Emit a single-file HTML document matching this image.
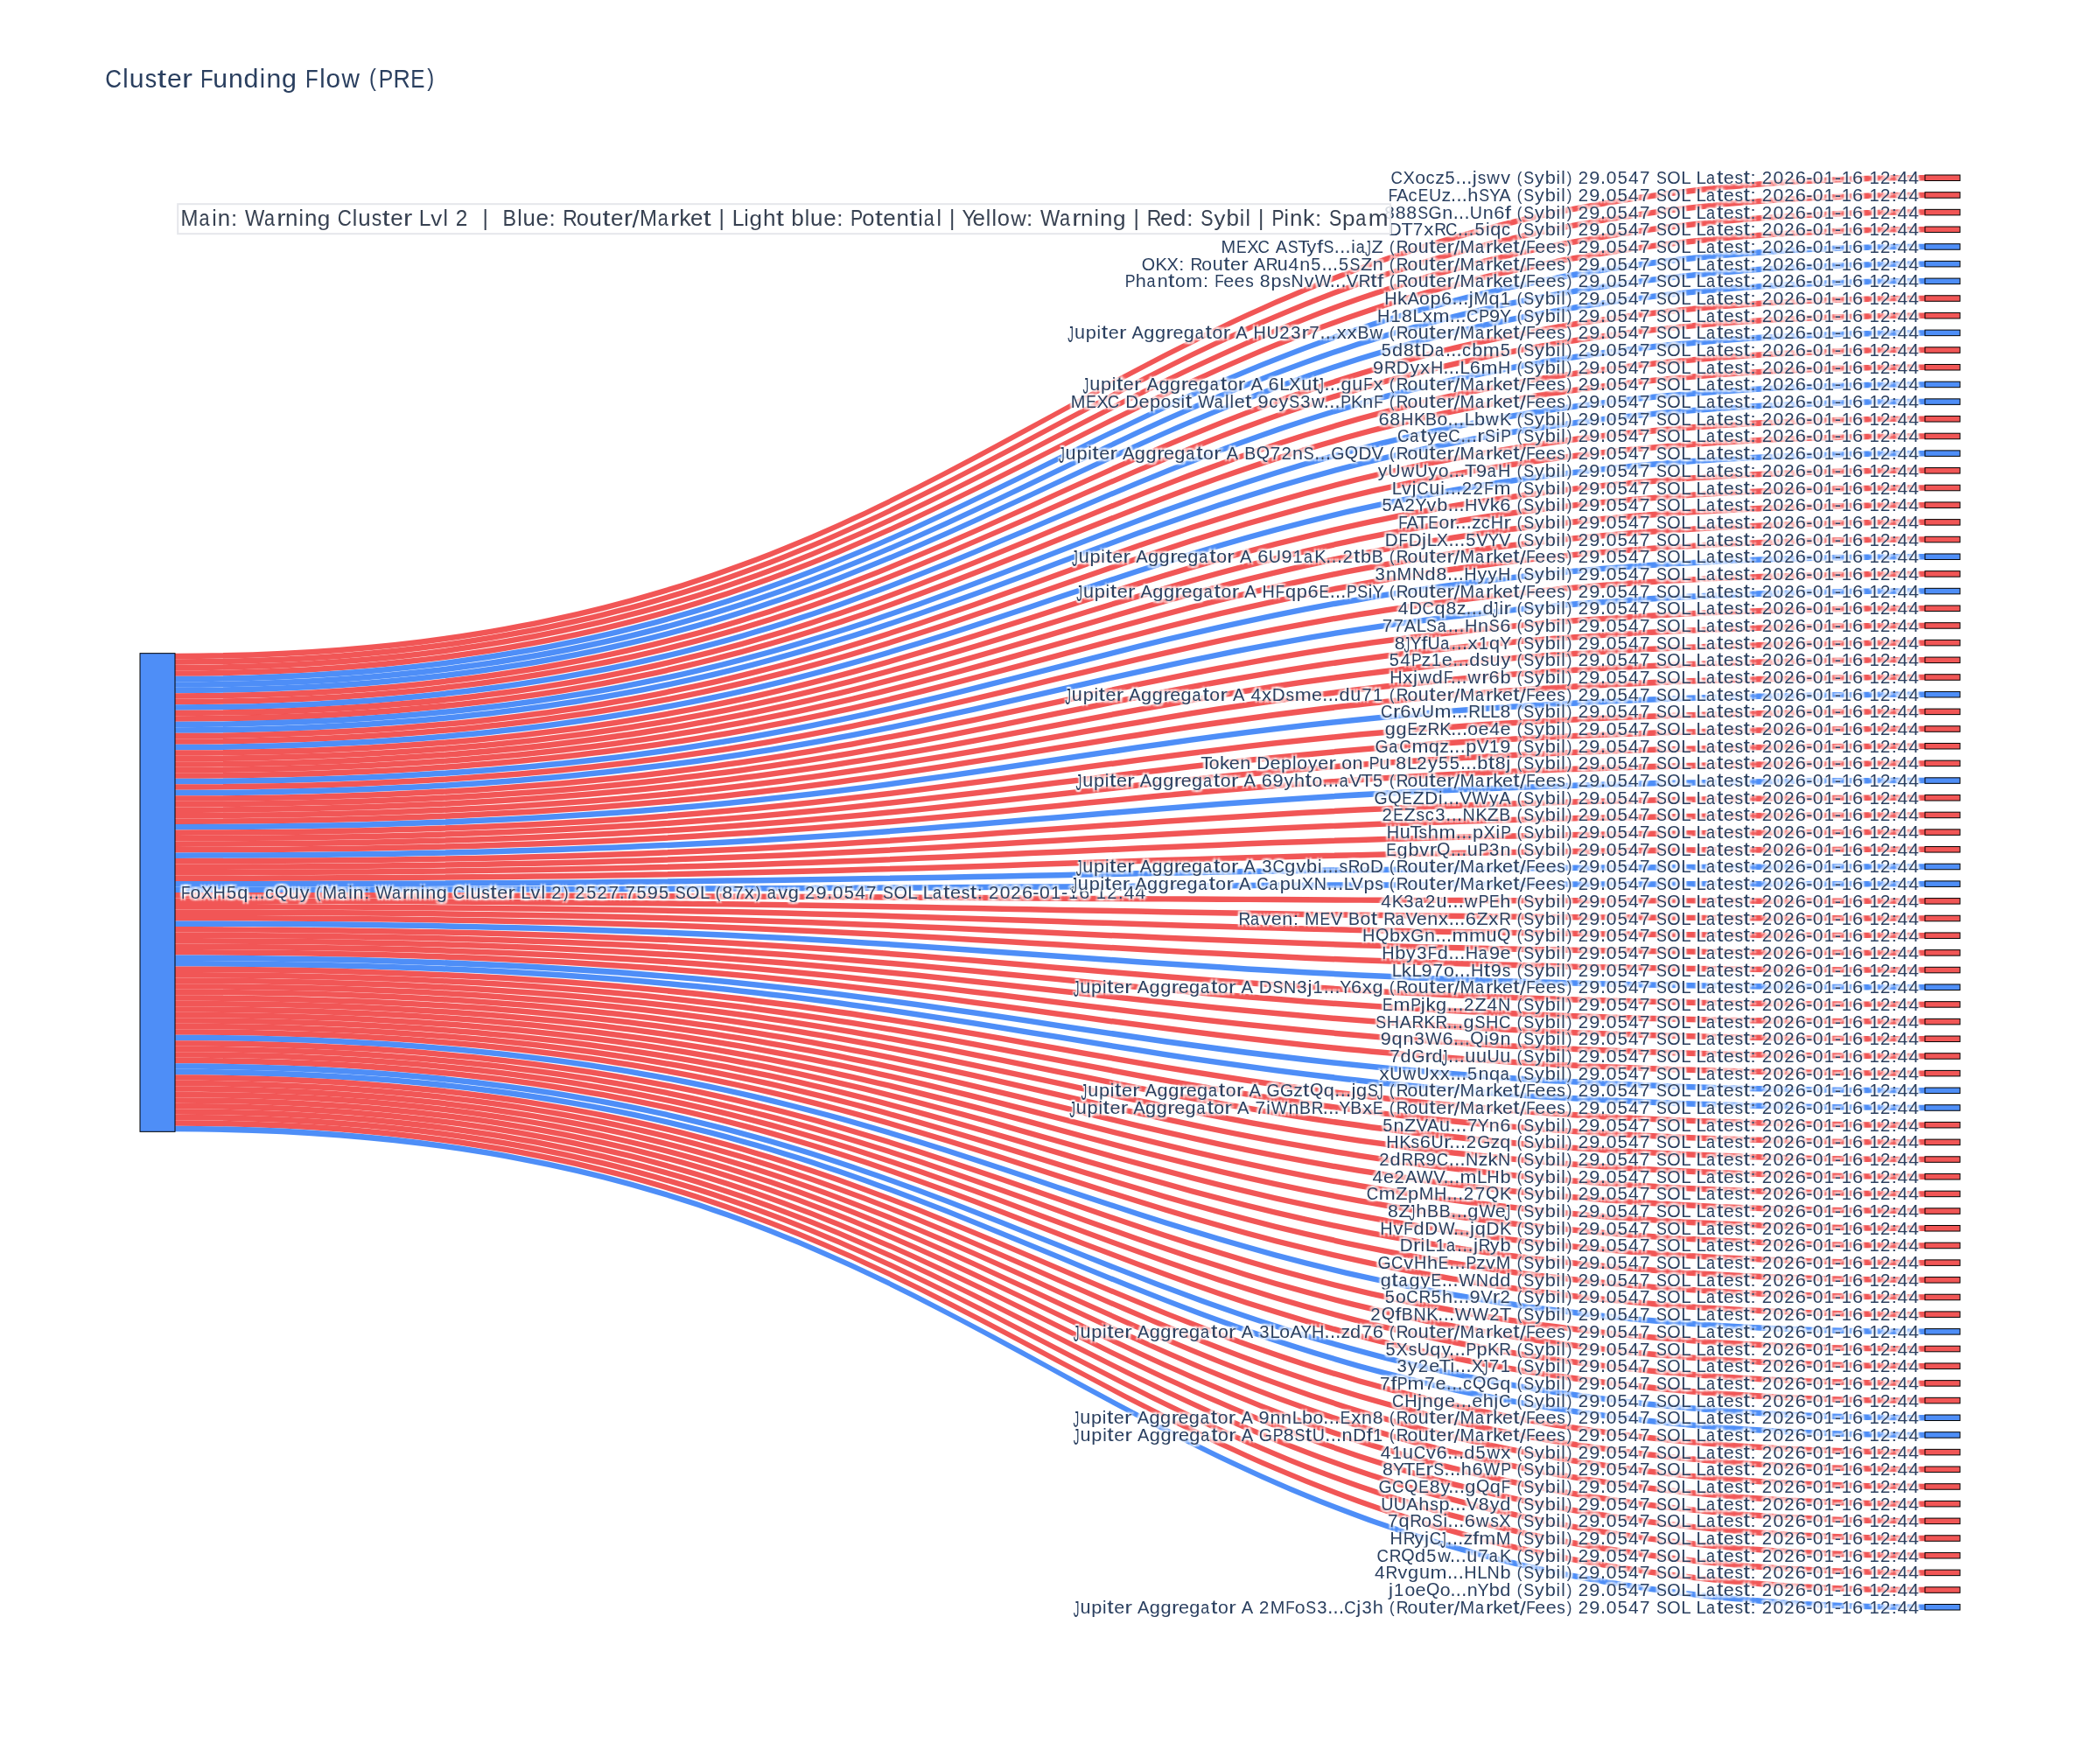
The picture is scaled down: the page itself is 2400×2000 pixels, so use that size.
<!DOCTYPE html>
<html><head><meta charset="utf-8"><title>Cluster Funding Flow (PRE)</title>
<style>
html,body{margin:0;padding:0;background:#fff;}
svg{display:block;will-change:transform;}
text{font-family:"Liberation Sans",sans-serif;white-space:pre;}
.nl{font-size:21.2px;fill:#2a3f5f;}
.sh{fill:#fff;text-shadow:2px 2px 2px #fff,-2px -2px 2px #fff,2px -2px 2px #fff,-2px 2px 2px #fff;}
.nr{stroke:#000;stroke-width:1;fill-opacity:0.9;}
.lr{fill:#ef4444;fill-opacity:0.9;}
.lb{fill:#3b82f6;fill-opacity:0.9;}
</style></head><body>
<svg width="2400" height="2000">
<rect x="0" y="0" width="2400" height="2000" fill="#fff"/>
<defs><g><text id="sS"><tspan x="1733.73" y="-1.3" font-size="19.12" textLength="5.63" lengthAdjust="spacingAndGlyphs">(</tspan><tspan x="1741.37" y="0" font-size="20.52" textLength="11.89" lengthAdjust="spacingAndGlyphs">S</tspan><tspan x="1754.11" font-size="20.52" textLength="10.74" lengthAdjust="spacingAndGlyphs">y</tspan><tspan x="1765.8" font-size="21.08" textLength="12.1" lengthAdjust="spacingAndGlyphs">b</tspan><tspan x="1778.61" font-size="20.97" textLength="4.54" lengthAdjust="spacingAndGlyphs">i</tspan><tspan x="1784.15" font-size="20.97" textLength="4.54" lengthAdjust="spacingAndGlyphs">l</tspan><tspan x="1790.71" y="-1.3" font-size="19.12" textLength="5.63" lengthAdjust="spacingAndGlyphs">)</tspan><tspan x="1803.8" y="0" font-size="20.41" textLength="11.3" lengthAdjust="spacingAndGlyphs">2</tspan><tspan x="1816.32" font-size="20.52" textLength="12.11" lengthAdjust="spacingAndGlyphs">9</tspan><tspan x="1828.98" font-size="23.2" textLength="6.01" lengthAdjust="spacingAndGlyphs">.</tspan><tspan x="1835.67" font-size="20.52" textLength="11.73" lengthAdjust="spacingAndGlyphs">0</tspan><tspan x="1848.64" font-size="20.45" textLength="11.07" lengthAdjust="spacingAndGlyphs">5</tspan><tspan x="1861.1" font-size="20.35" textLength="11.73" lengthAdjust="spacingAndGlyphs">4</tspan><tspan x="1873.93" font-size="20.35" textLength="11.47" lengthAdjust="spacingAndGlyphs">7</tspan><tspan x="1892.93" font-size="20.52" textLength="11.89" lengthAdjust="spacingAndGlyphs">S</tspan><tspan x="1905.31" font-size="20.52" textLength="15.38" lengthAdjust="spacingAndGlyphs">O</tspan><tspan x="1921.13" font-size="20.35" textLength="11.44" lengthAdjust="spacingAndGlyphs">L</tspan><tspan x="1938.63" font-size="20.35" textLength="11.44" lengthAdjust="spacingAndGlyphs">L</tspan><tspan x="1949.94" font-size="20.96" textLength="10" lengthAdjust="spacingAndGlyphs">a</tspan><tspan x="1961.9" y="-0.2" font-size="21.46" textLength="7.43" lengthAdjust="spacingAndGlyphs">t</tspan><tspan x="1969.78" y="0" font-size="20.96" textLength="12.01" lengthAdjust="spacingAndGlyphs">e</tspan><tspan x="1982.46" font-size="21.02" textLength="9.59" lengthAdjust="spacingAndGlyphs">s</tspan><tspan x="1992.46" y="-0.2" font-size="21.46" textLength="7.43" lengthAdjust="spacingAndGlyphs">t</tspan><tspan x="2000.54" y="0" font-size="19.57" textLength="6.01" lengthAdjust="spacingAndGlyphs">:</tspan><tspan x="2013.71" font-size="20.41" textLength="11.3" lengthAdjust="spacingAndGlyphs">2</tspan><tspan x="2026.48" font-size="20.52" textLength="11.73" lengthAdjust="spacingAndGlyphs">0</tspan><tspan x="2039.16" font-size="20.41" textLength="11.3" lengthAdjust="spacingAndGlyphs">2</tspan><tspan x="2051.73" font-size="20.52" textLength="12.14" lengthAdjust="spacingAndGlyphs">6</tspan><tspan x="2064.17" font-size="20.5" textLength="7.18" lengthAdjust="spacingAndGlyphs">-</tspan><tspan x="2071.87" font-size="20.52" textLength="11.73" lengthAdjust="spacingAndGlyphs">0</tspan><tspan x="2084.77" font-size="20.35" textLength="11.2" lengthAdjust="spacingAndGlyphs">1</tspan><tspan x="2096.85" font-size="20.5" textLength="7.18" lengthAdjust="spacingAndGlyphs">-</tspan><tspan x="2104.71" font-size="20.35" textLength="11.2" lengthAdjust="spacingAndGlyphs">1</tspan><tspan x="2117.05" font-size="20.52" textLength="12.14" lengthAdjust="spacingAndGlyphs">6</tspan><tspan x="2136.51" font-size="20.35" textLength="11.2" lengthAdjust="spacingAndGlyphs">1</tspan><tspan x="2149.02" font-size="20.41" textLength="11.3" lengthAdjust="spacingAndGlyphs">2</tspan><tspan x="2161.66" font-size="19.57" textLength="6.01" lengthAdjust="spacingAndGlyphs">:</tspan><tspan x="2168.52" font-size="20.35" textLength="11.73" lengthAdjust="spacingAndGlyphs">4</tspan><tspan x="2181.26" font-size="20.35" textLength="11.73" lengthAdjust="spacingAndGlyphs">4</tspan></text><text id="sR"><tspan x="1588.12" y="-1.3" font-size="19.12" textLength="5.63" lengthAdjust="spacingAndGlyphs">(</tspan><tspan x="1595.66" y="0" font-size="20.35" textLength="13.81" lengthAdjust="spacingAndGlyphs">R</tspan><tspan x="1608.46" font-size="20.96" textLength="11.82" lengthAdjust="spacingAndGlyphs">o</tspan><tspan x="1620.8" font-size="21.34" textLength="11.99" lengthAdjust="spacingAndGlyphs">u</tspan><tspan x="1633.3" y="-0.2" font-size="21.46" textLength="7.43" lengthAdjust="spacingAndGlyphs">t</tspan><tspan x="1641.2" y="0" font-size="20.96" textLength="12.01" lengthAdjust="spacingAndGlyphs">e</tspan><tspan x="1653.43" font-size="20.82" textLength="8.53" lengthAdjust="spacingAndGlyphs">r</tspan><tspan x="1661.53" y="1.6" font-size="22.38" textLength="6.74" lengthAdjust="spacingAndGlyphs">/</tspan><tspan x="1668.61" y="0" font-size="20.35" textLength="16.61" lengthAdjust="spacingAndGlyphs">M</tspan><tspan x="1685.97" font-size="20.96" textLength="10" lengthAdjust="spacingAndGlyphs">a</tspan><tspan x="1697.9" font-size="20.82" textLength="8.53" lengthAdjust="spacingAndGlyphs">r</tspan><tspan x="1706.33" font-size="20.97" textLength="11.18" lengthAdjust="spacingAndGlyphs">k</tspan><tspan x="1717.06" font-size="20.96" textLength="12.01" lengthAdjust="spacingAndGlyphs">e</tspan><tspan x="1729.32" y="-0.2" font-size="21.46" textLength="7.43" lengthAdjust="spacingAndGlyphs">t</tspan><tspan x="1737.03" y="1.6" font-size="22.38" textLength="6.74" lengthAdjust="spacingAndGlyphs">/</tspan><tspan x="1744.32" y="0" font-size="20.35" textLength="10.47" lengthAdjust="spacingAndGlyphs">F</tspan><tspan x="1754.36" font-size="20.96" textLength="12.01" lengthAdjust="spacingAndGlyphs">e</tspan><tspan x="1766.67" font-size="20.96" textLength="12.01" lengthAdjust="spacingAndGlyphs">e</tspan><tspan x="1779.33" font-size="21.02" textLength="9.59" lengthAdjust="spacingAndGlyphs">s</tspan><tspan x="1790.71" y="-1.3" font-size="19.12" textLength="5.63" lengthAdjust="spacingAndGlyphs">)</tspan><tspan x="1803.8" y="0" font-size="20.41" textLength="11.3" lengthAdjust="spacingAndGlyphs">2</tspan><tspan x="1816.33" font-size="20.52" textLength="12.11" lengthAdjust="spacingAndGlyphs">9</tspan><tspan x="1828.98" font-size="23.2" textLength="6.01" lengthAdjust="spacingAndGlyphs">.</tspan><tspan x="1835.67" font-size="20.52" textLength="11.73" lengthAdjust="spacingAndGlyphs">0</tspan><tspan x="1848.64" font-size="20.45" textLength="11.07" lengthAdjust="spacingAndGlyphs">5</tspan><tspan x="1861.12" font-size="20.35" textLength="11.73" lengthAdjust="spacingAndGlyphs">4</tspan><tspan x="1873.93" font-size="20.35" textLength="11.47" lengthAdjust="spacingAndGlyphs">7</tspan><tspan x="1892.93" font-size="20.52" textLength="11.89" lengthAdjust="spacingAndGlyphs">S</tspan><tspan x="1905.31" font-size="20.52" textLength="15.38" lengthAdjust="spacingAndGlyphs">O</tspan><tspan x="1921.13" font-size="20.35" textLength="11.44" lengthAdjust="spacingAndGlyphs">L</tspan><tspan x="1938.63" font-size="20.35" textLength="11.44" lengthAdjust="spacingAndGlyphs">L</tspan><tspan x="1949.94" font-size="20.96" textLength="10" lengthAdjust="spacingAndGlyphs">a</tspan><tspan x="1961.9" y="-0.2" font-size="21.46" textLength="7.43" lengthAdjust="spacingAndGlyphs">t</tspan><tspan x="1969.8" y="0" font-size="20.96" textLength="12.01" lengthAdjust="spacingAndGlyphs">e</tspan><tspan x="1982.46" font-size="21.02" textLength="9.59" lengthAdjust="spacingAndGlyphs">s</tspan><tspan x="1992.46" y="-0.2" font-size="21.46" textLength="7.43" lengthAdjust="spacingAndGlyphs">t</tspan><tspan x="2000.54" y="0" font-size="19.57" textLength="6.01" lengthAdjust="spacingAndGlyphs">:</tspan><tspan x="2013.71" font-size="20.41" textLength="11.3" lengthAdjust="spacingAndGlyphs">2</tspan><tspan x="2026.48" font-size="20.52" textLength="11.73" lengthAdjust="spacingAndGlyphs">0</tspan><tspan x="2039.16" font-size="20.41" textLength="11.3" lengthAdjust="spacingAndGlyphs">2</tspan><tspan x="2051.73" font-size="20.52" textLength="12.14" lengthAdjust="spacingAndGlyphs">6</tspan><tspan x="2064.19" font-size="20.5" textLength="7.18" lengthAdjust="spacingAndGlyphs">-</tspan><tspan x="2071.87" font-size="20.52" textLength="11.73" lengthAdjust="spacingAndGlyphs">0</tspan><tspan x="2084.77" font-size="20.35" textLength="11.2" lengthAdjust="spacingAndGlyphs">1</tspan><tspan x="2096.85" font-size="20.5" textLength="7.18" lengthAdjust="spacingAndGlyphs">-</tspan><tspan x="2104.71" font-size="20.35" textLength="11.2" lengthAdjust="spacingAndGlyphs">1</tspan><tspan x="2117.05" font-size="20.52" textLength="12.14" lengthAdjust="spacingAndGlyphs">6</tspan><tspan x="2136.52" font-size="20.35" textLength="11.2" lengthAdjust="spacingAndGlyphs">1</tspan><tspan x="2149.02" font-size="20.41" textLength="11.3" lengthAdjust="spacingAndGlyphs">2</tspan><tspan x="2161.66" font-size="19.57" textLength="6.01" lengthAdjust="spacingAndGlyphs">:</tspan><tspan x="2168.54" font-size="20.35" textLength="11.73" lengthAdjust="spacingAndGlyphs">4</tspan><tspan x="2181.26" font-size="20.35" textLength="11.73" lengthAdjust="spacingAndGlyphs">4</tspan></text><text id="pJ"><tspan x="-1.49" y="3.7" font-size="26.63" textLength="6.66" lengthAdjust="spacingAndGlyphs">J</tspan><tspan x="6.19" y="0" font-size="21.34" textLength="11.99" lengthAdjust="spacingAndGlyphs">u</tspan><tspan x="18.98" font-size="20.62" textLength="12.1" lengthAdjust="spacingAndGlyphs">p</tspan><tspan x="31.78" font-size="20.97" textLength="4.54" lengthAdjust="spacingAndGlyphs">i</tspan><tspan x="36.94" y="-0.2" font-size="21.46" textLength="7.43" lengthAdjust="spacingAndGlyphs">t</tspan><tspan x="44.84" y="0" font-size="20.96" textLength="12.01" lengthAdjust="spacingAndGlyphs">e</tspan><tspan x="57.08" font-size="20.82" textLength="8.53" lengthAdjust="spacingAndGlyphs">r</tspan><tspan x="71.66" font-size="20.35" textLength="13.44" lengthAdjust="spacingAndGlyphs">A</tspan><tspan x="85.43" y="-0.1" font-size="20.64" textLength="12.09" lengthAdjust="spacingAndGlyphs">g</tspan><tspan x="98.11" font-size="20.64" textLength="12.09" lengthAdjust="spacingAndGlyphs">g</tspan><tspan x="110.74" y="0" font-size="20.82" textLength="8.53" lengthAdjust="spacingAndGlyphs">r</tspan><tspan x="118.59" font-size="20.96" textLength="12.01" lengthAdjust="spacingAndGlyphs">e</tspan><tspan x="130.89" y="-0.1" font-size="20.64" textLength="12.09" lengthAdjust="spacingAndGlyphs">g</tspan><tspan x="143.84" y="0" font-size="20.96" textLength="10" lengthAdjust="spacingAndGlyphs">a</tspan><tspan x="155.79" y="-0.2" font-size="21.46" textLength="7.43" lengthAdjust="spacingAndGlyphs">t</tspan><tspan x="163.71" y="0" font-size="20.96" textLength="11.82" lengthAdjust="spacingAndGlyphs">o</tspan><tspan x="175.85" font-size="20.82" textLength="8.53" lengthAdjust="spacingAndGlyphs">r</tspan><tspan x="190.43" font-size="20.35" textLength="13.44" lengthAdjust="spacingAndGlyphs">A</tspan></text><text id="n0"><tspan x="1589.52" y="0" font-size="20.52" textLength="13.41" lengthAdjust="spacingAndGlyphs">C</tspan><tspan x="1603.44" font-size="20.35" textLength="13.35" lengthAdjust="spacingAndGlyphs">X</tspan><tspan x="1617.21" font-size="20.96" textLength="11.82" lengthAdjust="spacingAndGlyphs">o</tspan><tspan x="1629.49" font-size="20.96" textLength="10.03" lengthAdjust="spacingAndGlyphs">c</tspan><tspan x="1640.23" font-size="20.7" textLength="10.72" lengthAdjust="spacingAndGlyphs">z</tspan><tspan x="1651.48" font-size="20.45" textLength="11.07" lengthAdjust="spacingAndGlyphs">5</tspan><tspan x="1663.62" font-size="23.2" textLength="6.01" lengthAdjust="spacingAndGlyphs">.</tspan><tspan x="1669.98" font-size="23.2" textLength="6.01" lengthAdjust="spacingAndGlyphs">.</tspan><tspan x="1676.33" font-size="23.2" textLength="6.01" lengthAdjust="spacingAndGlyphs">.</tspan><tspan x="1682.72" y="-0.1" font-size="20.76" textLength="5.01" lengthAdjust="spacingAndGlyphs">j</tspan><tspan x="1688.64" y="0" font-size="21.02" textLength="9.59" lengthAdjust="spacingAndGlyphs">s</tspan><tspan x="1699.37" font-size="20.7" textLength="14.6" lengthAdjust="spacingAndGlyphs">w</tspan><tspan x="1715.38" font-size="20.7" textLength="10.79" lengthAdjust="spacingAndGlyphs">v</tspan></text><text id="n1"><tspan x="1586.71" y="0" font-size="20.35" textLength="10.47" lengthAdjust="spacingAndGlyphs">F</tspan><tspan x="1595.93" font-size="20.35" textLength="13.44" lengthAdjust="spacingAndGlyphs">A</tspan><tspan x="1609.39" font-size="20.96" textLength="10.03" lengthAdjust="spacingAndGlyphs">c</tspan><tspan x="1620.68" font-size="20.35" textLength="11.56" lengthAdjust="spacingAndGlyphs">E</tspan><tspan x="1633" font-size="20.45" textLength="14.19" lengthAdjust="spacingAndGlyphs">U</tspan><tspan x="1647.41" font-size="20.7" textLength="10.72" lengthAdjust="spacingAndGlyphs">z</tspan><tspan x="1658.08" font-size="23.2" textLength="6.01" lengthAdjust="spacingAndGlyphs">.</tspan><tspan x="1664.44" font-size="23.2" textLength="6.01" lengthAdjust="spacingAndGlyphs">.</tspan><tspan x="1670.79" font-size="23.2" textLength="6.01" lengthAdjust="spacingAndGlyphs">.</tspan><tspan x="1677.3" font-size="20.97" textLength="12.08" lengthAdjust="spacingAndGlyphs">h</tspan><tspan x="1690.18" font-size="20.52" textLength="11.89" lengthAdjust="spacingAndGlyphs">S</tspan><tspan x="1701.89" font-size="20.35" textLength="13.16" lengthAdjust="spacingAndGlyphs">Y</tspan><tspan x="1713.15" font-size="20.35" textLength="13.44" lengthAdjust="spacingAndGlyphs">A</tspan></text><text id="n2"><tspan x="1581.95" y="0" font-size="20.52" textLength="11.85" lengthAdjust="spacingAndGlyphs">8</tspan><tspan x="1594.67" font-size="20.52" textLength="11.85" lengthAdjust="spacingAndGlyphs">8</tspan><tspan x="1607.38" font-size="20.52" textLength="11.85" lengthAdjust="spacingAndGlyphs">8</tspan><tspan x="1620.2" font-size="20.52" textLength="11.89" lengthAdjust="spacingAndGlyphs">S</tspan><tspan x="1632.52" font-size="20.52" textLength="15.17" lengthAdjust="spacingAndGlyphs">G</tspan><tspan x="1648.26" font-size="20.82" textLength="11.99" lengthAdjust="spacingAndGlyphs">n</tspan><tspan x="1660.71" font-size="23.2" textLength="6.01" lengthAdjust="spacingAndGlyphs">.</tspan><tspan x="1667.07" font-size="23.2" textLength="6.01" lengthAdjust="spacingAndGlyphs">.</tspan><tspan x="1673.43" font-size="23.2" textLength="6.01" lengthAdjust="spacingAndGlyphs">.</tspan><tspan x="1679.85" font-size="20.45" textLength="14.19" lengthAdjust="spacingAndGlyphs">U</tspan><tspan x="1694.65" font-size="20.82" textLength="11.99" lengthAdjust="spacingAndGlyphs">n</tspan><tspan x="1707.23" font-size="20.52" textLength="12.14" lengthAdjust="spacingAndGlyphs">6</tspan><tspan x="1719.74" font-size="21" textLength="7.3" lengthAdjust="spacingAndGlyphs">f</tspan></text><text id="n3"><tspan x="1586.89" y="0" font-size="20.35" textLength="14.94" lengthAdjust="spacingAndGlyphs">D</tspan><tspan x="1601.47" font-size="20.35" textLength="13.32" lengthAdjust="spacingAndGlyphs">T</tspan><tspan x="1614.82" font-size="20.35" textLength="11.47" lengthAdjust="spacingAndGlyphs">7</tspan><tspan x="1627.28" font-size="20.7" textLength="11.09" lengthAdjust="spacingAndGlyphs">x</tspan><tspan x="1639.19" font-size="20.35" textLength="13.81" lengthAdjust="spacingAndGlyphs">R</tspan><tspan x="1651.88" font-size="20.52" textLength="13.41" lengthAdjust="spacingAndGlyphs">C</tspan><tspan x="1665.82" font-size="23.2" textLength="6.01" lengthAdjust="spacingAndGlyphs">.</tspan><tspan x="1672.18" font-size="23.2" textLength="6.01" lengthAdjust="spacingAndGlyphs">.</tspan><tspan x="1678.54" font-size="23.2" textLength="6.01" lengthAdjust="spacingAndGlyphs">.</tspan><tspan x="1685.48" font-size="20.45" textLength="11.07" lengthAdjust="spacingAndGlyphs">5</tspan><tspan x="1697.97" font-size="20.97" textLength="4.54" lengthAdjust="spacingAndGlyphs">i</tspan><tspan x="1703.21" font-size="20.6" textLength="12.08" lengthAdjust="spacingAndGlyphs">q</tspan><tspan x="1715.95" font-size="20.96" textLength="10.03" lengthAdjust="spacingAndGlyphs">c</tspan></text><text id="n4"><tspan x="1395.44" y="0" font-size="20.35" textLength="16.61" lengthAdjust="spacingAndGlyphs">M</tspan><tspan x="1412.9" font-size="20.35" textLength="11.56" lengthAdjust="spacingAndGlyphs">E</tspan><tspan x="1425.15" font-size="20.35" textLength="13.35" lengthAdjust="spacingAndGlyphs">X</tspan><tspan x="1437.41" font-size="20.52" textLength="13.41" lengthAdjust="spacingAndGlyphs">C</tspan><tspan x="1457.68" font-size="20.35" textLength="13.44" lengthAdjust="spacingAndGlyphs">A</tspan><tspan x="1471.76" font-size="20.52" textLength="11.89" lengthAdjust="spacingAndGlyphs">S</tspan><tspan x="1483.39" font-size="20.35" textLength="13.32" lengthAdjust="spacingAndGlyphs">T</tspan><tspan x="1493.59" font-size="20.52" textLength="10.74" lengthAdjust="spacingAndGlyphs">y</tspan><tspan x="1504.96" font-size="21" textLength="7.3" lengthAdjust="spacingAndGlyphs">f</tspan><tspan x="1512.43" font-size="20.52" textLength="11.89" lengthAdjust="spacingAndGlyphs">S</tspan><tspan x="1524.77" font-size="23.2" textLength="6.01" lengthAdjust="spacingAndGlyphs">.</tspan><tspan x="1531.13" font-size="23.2" textLength="6.01" lengthAdjust="spacingAndGlyphs">.</tspan><tspan x="1537.49" font-size="23.2" textLength="6.01" lengthAdjust="spacingAndGlyphs">.</tspan><tspan x="1544.2" font-size="20.97" textLength="4.54" lengthAdjust="spacingAndGlyphs">i</tspan><tspan x="1549.69" font-size="20.96" textLength="10" lengthAdjust="spacingAndGlyphs">a</tspan><tspan x="1560.01" y="3.7" font-size="26.63" textLength="6.66" lengthAdjust="spacingAndGlyphs">J</tspan><tspan x="1567.6" y="0" font-size="20.35" textLength="13.27" lengthAdjust="spacingAndGlyphs">Z</tspan></text><text id="n5"><tspan x="1304.64" y="0" font-size="20.52" textLength="15.38" lengthAdjust="spacingAndGlyphs">O</tspan><tspan x="1320.5" font-size="20.35" textLength="13.45" lengthAdjust="spacingAndGlyphs">K</tspan><tspan x="1333.44" font-size="20.35" textLength="13.35" lengthAdjust="spacingAndGlyphs">X</tspan><tspan x="1347.37" font-size="19.57" textLength="6.01" lengthAdjust="spacingAndGlyphs">:</tspan><tspan x="1360.49" font-size="20.35" textLength="13.81" lengthAdjust="spacingAndGlyphs">R</tspan><tspan x="1373.3" font-size="20.96" textLength="11.82" lengthAdjust="spacingAndGlyphs">o</tspan><tspan x="1385.63" font-size="21.34" textLength="11.99" lengthAdjust="spacingAndGlyphs">u</tspan><tspan x="1398.15" y="-0.2" font-size="21.46" textLength="7.43" lengthAdjust="spacingAndGlyphs">t</tspan><tspan x="1406.05" y="0" font-size="20.96" textLength="12.01" lengthAdjust="spacingAndGlyphs">e</tspan><tspan x="1418.27" font-size="20.82" textLength="8.53" lengthAdjust="spacingAndGlyphs">r</tspan><tspan x="1432.85" font-size="20.35" textLength="13.44" lengthAdjust="spacingAndGlyphs">A</tspan><tspan x="1446.82" font-size="20.35" textLength="13.81" lengthAdjust="spacingAndGlyphs">R</tspan><tspan x="1459.72" font-size="21.34" textLength="11.99" lengthAdjust="spacingAndGlyphs">u</tspan><tspan x="1472.59" font-size="20.35" textLength="11.73" lengthAdjust="spacingAndGlyphs">4</tspan><tspan x="1485.2" font-size="20.82" textLength="11.99" lengthAdjust="spacingAndGlyphs">n</tspan><tspan x="1498.25" font-size="20.45" textLength="11.07" lengthAdjust="spacingAndGlyphs">5</tspan><tspan x="1510.38" font-size="23.2" textLength="6.01" lengthAdjust="spacingAndGlyphs">.</tspan><tspan x="1516.74" font-size="23.2" textLength="6.01" lengthAdjust="spacingAndGlyphs">.</tspan><tspan x="1523.1" font-size="23.2" textLength="6.01" lengthAdjust="spacingAndGlyphs">.</tspan><tspan x="1530.04" font-size="20.45" textLength="11.07" lengthAdjust="spacingAndGlyphs">5</tspan><tspan x="1542.52" font-size="20.52" textLength="11.89" lengthAdjust="spacingAndGlyphs">S</tspan><tspan x="1554.91" font-size="20.35" textLength="13.27" lengthAdjust="spacingAndGlyphs">Z</tspan><tspan x="1568.79" font-size="20.82" textLength="11.99" lengthAdjust="spacingAndGlyphs">n</tspan></text><text id="n6"><tspan x="1285.84" y="0" font-size="20.35" textLength="11.8" lengthAdjust="spacingAndGlyphs">P</tspan><tspan x="1297.69" font-size="20.97" textLength="12.08" lengthAdjust="spacingAndGlyphs">h</tspan><tspan x="1310.5" font-size="20.96" textLength="10" lengthAdjust="spacingAndGlyphs">a</tspan><tspan x="1322.7" font-size="20.82" textLength="11.99" lengthAdjust="spacingAndGlyphs">n</tspan><tspan x="1335.12" y="-0.2" font-size="21.46" textLength="7.43" lengthAdjust="spacingAndGlyphs">t</tspan><tspan x="1343.04" y="0" font-size="20.96" textLength="11.82" lengthAdjust="spacingAndGlyphs">o</tspan><tspan x="1355.37" font-size="20.82" textLength="18.98" lengthAdjust="spacingAndGlyphs">m</tspan><tspan x="1374.91" font-size="19.57" textLength="6.01" lengthAdjust="spacingAndGlyphs">:</tspan><tspan x="1388.2" font-size="20.35" textLength="10.47" lengthAdjust="spacingAndGlyphs">F</tspan><tspan x="1398.25" font-size="20.96" textLength="12.01" lengthAdjust="spacingAndGlyphs">e</tspan><tspan x="1410.55" font-size="20.96" textLength="12.01" lengthAdjust="spacingAndGlyphs">e</tspan><tspan x="1423.22" font-size="21.02" textLength="9.59" lengthAdjust="spacingAndGlyphs">s</tspan><tspan x="1439.87" font-size="20.52" textLength="11.85" lengthAdjust="spacingAndGlyphs">8</tspan><tspan x="1452.59" font-size="20.62" textLength="12.1" lengthAdjust="spacingAndGlyphs">p</tspan><tspan x="1465.41" font-size="21.02" textLength="9.59" lengthAdjust="spacingAndGlyphs">s</tspan><tspan x="1475.62" font-size="20.35" textLength="14.27" lengthAdjust="spacingAndGlyphs">N</tspan><tspan x="1490.77" font-size="20.7" textLength="10.79" lengthAdjust="spacingAndGlyphs">v</tspan><tspan x="1502.66" font-size="20.35" textLength="18.61" lengthAdjust="spacingAndGlyphs">W</tspan><tspan x="1519.73" font-size="23.2" textLength="6.01" lengthAdjust="spacingAndGlyphs">.</tspan><tspan x="1526.08" font-size="23.2" textLength="6.01" lengthAdjust="spacingAndGlyphs">.</tspan><tspan x="1532.44" font-size="23.2" textLength="6.01" lengthAdjust="spacingAndGlyphs">.</tspan><tspan x="1538.69" font-size="20.35" textLength="13.54" lengthAdjust="spacingAndGlyphs">V</tspan><tspan x="1552.71" font-size="20.35" textLength="13.81" lengthAdjust="spacingAndGlyphs">R</tspan><tspan x="1566.34" y="-0.2" font-size="21.46" textLength="7.43" lengthAdjust="spacingAndGlyphs">t</tspan><tspan x="1574.13" y="0" font-size="21" textLength="7.3" lengthAdjust="spacingAndGlyphs">f</tspan></text><text id="n7"><tspan x="1582.13" y="0" font-size="20.35" textLength="14.37" lengthAdjust="spacingAndGlyphs">H</tspan><tspan x="1597.14" font-size="20.97" textLength="11.18" lengthAdjust="spacingAndGlyphs">k</tspan><tspan x="1608.52" font-size="20.35" textLength="13.44" lengthAdjust="spacingAndGlyphs">A</tspan><tspan x="1621.95" font-size="20.96" textLength="11.82" lengthAdjust="spacingAndGlyphs">o</tspan><tspan x="1634.4" font-size="20.62" textLength="12.1" lengthAdjust="spacingAndGlyphs">p</tspan><tspan x="1646.96" font-size="20.52" textLength="12.14" lengthAdjust="spacingAndGlyphs">6</tspan><tspan x="1659.55" font-size="23.2" textLength="6.01" lengthAdjust="spacingAndGlyphs">.</tspan><tspan x="1665.91" font-size="23.2" textLength="6.01" lengthAdjust="spacingAndGlyphs">.</tspan><tspan x="1672.27" font-size="23.2" textLength="6.01" lengthAdjust="spacingAndGlyphs">.</tspan><tspan x="1678.66" y="-0.1" font-size="20.76" textLength="5.01" lengthAdjust="spacingAndGlyphs">j</tspan><tspan x="1684.36" y="0" font-size="20.35" textLength="16.61" lengthAdjust="spacingAndGlyphs">M</tspan><tspan x="1701.47" font-size="20.6" textLength="12.08" lengthAdjust="spacingAndGlyphs">q</tspan><tspan x="1714.65" font-size="20.35" textLength="11.2" lengthAdjust="spacingAndGlyphs">1</tspan></text><text id="n8"><tspan x="1574.05" y="0" font-size="20.35" textLength="14.37" lengthAdjust="spacingAndGlyphs">H</tspan><tspan x="1589.41" font-size="20.35" textLength="11.2" lengthAdjust="spacingAndGlyphs">1</tspan><tspan x="1601.9" font-size="20.52" textLength="11.85" lengthAdjust="spacingAndGlyphs">8</tspan><tspan x="1614.48" font-size="20.35" textLength="11.44" lengthAdjust="spacingAndGlyphs">L</tspan><tspan x="1625.67" font-size="20.7" textLength="11.09" lengthAdjust="spacingAndGlyphs">x</tspan><tspan x="1637.48" font-size="20.82" textLength="18.98" lengthAdjust="spacingAndGlyphs">m</tspan><tspan x="1656.82" font-size="23.2" textLength="6.01" lengthAdjust="spacingAndGlyphs">.</tspan><tspan x="1663.18" font-size="23.2" textLength="6.01" lengthAdjust="spacingAndGlyphs">.</tspan><tspan x="1669.54" font-size="23.2" textLength="6.01" lengthAdjust="spacingAndGlyphs">.</tspan><tspan x="1675.91" font-size="20.52" textLength="13.41" lengthAdjust="spacingAndGlyphs">C</tspan><tspan x="1690.22" font-size="20.35" textLength="11.8" lengthAdjust="spacingAndGlyphs">P</tspan><tspan x="1702" font-size="20.52" textLength="12.11" lengthAdjust="spacingAndGlyphs">9</tspan><tspan x="1714.01" font-size="20.35" textLength="13.16" lengthAdjust="spacingAndGlyphs">Y</tspan></text><text id="n9"><tspan x="1432.53" y="0" font-size="20.35" textLength="14.37" lengthAdjust="spacingAndGlyphs">H</tspan><tspan x="1447.46" font-size="20.45" textLength="14.19" lengthAdjust="spacingAndGlyphs">U</tspan><tspan x="1462.32" font-size="20.41" textLength="11.3" lengthAdjust="spacingAndGlyphs">2</tspan><tspan x="1475.35" font-size="20.52" textLength="11.26" lengthAdjust="spacingAndGlyphs">3</tspan><tspan x="1487.44" font-size="20.82" textLength="8.53" lengthAdjust="spacingAndGlyphs">r</tspan><tspan x="1496.13" font-size="20.35" textLength="11.47" lengthAdjust="spacingAndGlyphs">7</tspan><tspan x="1508.43" font-size="23.2" textLength="6.01" lengthAdjust="spacingAndGlyphs">.</tspan><tspan x="1514.79" font-size="23.2" textLength="6.01" lengthAdjust="spacingAndGlyphs">.</tspan><tspan x="1521.15" font-size="23.2" textLength="6.01" lengthAdjust="spacingAndGlyphs">.</tspan><tspan x="1527.67" font-size="20.7" textLength="11.09" lengthAdjust="spacingAndGlyphs">x</tspan><tspan x="1539.51" font-size="20.7" textLength="11.09" lengthAdjust="spacingAndGlyphs">x</tspan><tspan x="1551.38" font-size="20.35" textLength="12.96" lengthAdjust="spacingAndGlyphs">B</tspan><tspan x="1565.6" font-size="20.7" textLength="14.6" lengthAdjust="spacingAndGlyphs">w</tspan></text><text id="n10"><tspan x="1578.84" y="0" font-size="20.45" textLength="11.07" lengthAdjust="spacingAndGlyphs">5</tspan><tspan x="1591" font-size="21.08" textLength="12.09" lengthAdjust="spacingAndGlyphs">d</tspan><tspan x="1603.93" font-size="20.52" textLength="11.85" lengthAdjust="spacingAndGlyphs">8</tspan><tspan x="1616.37" y="-0.2" font-size="21.46" textLength="7.43" lengthAdjust="spacingAndGlyphs">t</tspan><tspan x="1624.34" y="0" font-size="20.35" textLength="14.94" lengthAdjust="spacingAndGlyphs">D</tspan><tspan x="1639.91" font-size="20.96" textLength="10" lengthAdjust="spacingAndGlyphs">a</tspan><tspan x="1651.9" font-size="23.2" textLength="6.01" lengthAdjust="spacingAndGlyphs">.</tspan><tspan x="1658.26" font-size="23.2" textLength="6.01" lengthAdjust="spacingAndGlyphs">.</tspan><tspan x="1664.6" font-size="23.2" textLength="6.01" lengthAdjust="spacingAndGlyphs">.</tspan><tspan x="1671.05" font-size="20.96" textLength="10.03" lengthAdjust="spacingAndGlyphs">c</tspan><tspan x="1682.21" font-size="21.08" textLength="12.1" lengthAdjust="spacingAndGlyphs">b</tspan><tspan x="1694.8" font-size="20.82" textLength="18.98" lengthAdjust="spacingAndGlyphs">m</tspan><tspan x="1714.72" font-size="20.45" textLength="11.07" lengthAdjust="spacingAndGlyphs">5</tspan></text><text id="n11"><tspan x="1569.1" y="0" font-size="20.52" textLength="12.11" lengthAdjust="spacingAndGlyphs">9</tspan><tspan x="1581.97" font-size="20.35" textLength="13.81" lengthAdjust="spacingAndGlyphs">R</tspan><tspan x="1595.73" font-size="20.35" textLength="14.94" lengthAdjust="spacingAndGlyphs">D</tspan><tspan x="1611.42" font-size="20.52" textLength="10.74" lengthAdjust="spacingAndGlyphs">y</tspan><tspan x="1623.03" font-size="20.7" textLength="11.09" lengthAdjust="spacingAndGlyphs">x</tspan><tspan x="1634.88" font-size="20.35" textLength="14.37" lengthAdjust="spacingAndGlyphs">H</tspan><tspan x="1649.4" font-size="23.2" textLength="6.01" lengthAdjust="spacingAndGlyphs">.</tspan><tspan x="1655.76" font-size="23.2" textLength="6.01" lengthAdjust="spacingAndGlyphs">.</tspan><tspan x="1662.12" font-size="23.2" textLength="6.01" lengthAdjust="spacingAndGlyphs">.</tspan><tspan x="1668.59" font-size="20.35" textLength="11.44" lengthAdjust="spacingAndGlyphs">L</tspan><tspan x="1679.74" font-size="20.52" textLength="12.14" lengthAdjust="spacingAndGlyphs">6</tspan><tspan x="1692.48" font-size="20.82" textLength="18.98" lengthAdjust="spacingAndGlyphs">m</tspan><tspan x="1711.99" font-size="20.35" textLength="14.37" lengthAdjust="spacingAndGlyphs">H</tspan></text><text id="n12"><tspan x="1449.62" y="0" font-size="20.52" textLength="12.14" lengthAdjust="spacingAndGlyphs">6</tspan><tspan x="1462.32" font-size="20.35" textLength="11.44" lengthAdjust="spacingAndGlyphs">L</tspan><tspan x="1473.33" font-size="20.35" textLength="13.35" lengthAdjust="spacingAndGlyphs">X</tspan><tspan x="1487.19" font-size="21.34" textLength="11.99" lengthAdjust="spacingAndGlyphs">u</tspan><tspan x="1499.69" y="-0.2" font-size="21.46" textLength="7.43" lengthAdjust="spacingAndGlyphs">t</tspan><tspan x="1505.92" y="3.7" font-size="26.63" textLength="6.66" lengthAdjust="spacingAndGlyphs">J</tspan><tspan x="1513.48" y="0" font-size="23.2" textLength="6.01" lengthAdjust="spacingAndGlyphs">.</tspan><tspan x="1519.83" font-size="23.2" textLength="6.01" lengthAdjust="spacingAndGlyphs">.</tspan><tspan x="1526.18" font-size="23.2" textLength="6.01" lengthAdjust="spacingAndGlyphs">.</tspan><tspan x="1532.57" y="-0.1" font-size="20.64" textLength="12.09" lengthAdjust="spacingAndGlyphs">g</tspan><tspan x="1545.38" y="0" font-size="21.34" textLength="11.99" lengthAdjust="spacingAndGlyphs">u</tspan><tspan x="1558.31" font-size="20.35" textLength="10.47" lengthAdjust="spacingAndGlyphs">F</tspan><tspan x="1569.58" font-size="20.7" textLength="11.09" lengthAdjust="spacingAndGlyphs">x</tspan></text><text id="n13"><tspan x="1223.86" y="0" font-size="20.35" textLength="16.61" lengthAdjust="spacingAndGlyphs">M</tspan><tspan x="1241.32" font-size="20.35" textLength="11.56" lengthAdjust="spacingAndGlyphs">E</tspan><tspan x="1253.57" font-size="20.35" textLength="13.35" lengthAdjust="spacingAndGlyphs">X</tspan><tspan x="1265.84" font-size="20.52" textLength="13.41" lengthAdjust="spacingAndGlyphs">C</tspan><tspan x="1286.25" font-size="20.35" textLength="14.94" lengthAdjust="spacingAndGlyphs">D</tspan><tspan x="1301.58" font-size="20.96" textLength="12.01" lengthAdjust="spacingAndGlyphs">e</tspan><tspan x="1314.1" font-size="20.62" textLength="12.1" lengthAdjust="spacingAndGlyphs">p</tspan><tspan x="1326.6" font-size="20.96" textLength="11.82" lengthAdjust="spacingAndGlyphs">o</tspan><tspan x="1339.18" font-size="21.02" textLength="9.59" lengthAdjust="spacingAndGlyphs">s</tspan><tspan x="1349.56" font-size="20.97" textLength="4.54" lengthAdjust="spacingAndGlyphs">i</tspan><tspan x="1354.73" y="-0.2" font-size="21.46" textLength="7.43" lengthAdjust="spacingAndGlyphs">t</tspan><tspan x="1369.37" y="0" font-size="20.35" textLength="18.61" lengthAdjust="spacingAndGlyphs">W</tspan><tspan x="1387.73" font-size="20.96" textLength="10" lengthAdjust="spacingAndGlyphs">a</tspan><tspan x="1400.05" font-size="20.97" textLength="4.54" lengthAdjust="spacingAndGlyphs">l</tspan><tspan x="1405.62" font-size="20.97" textLength="4.54" lengthAdjust="spacingAndGlyphs">l</tspan><tspan x="1410.84" font-size="20.96" textLength="12.01" lengthAdjust="spacingAndGlyphs">e</tspan><tspan x="1423.1" y="-0.2" font-size="21.46" textLength="7.43" lengthAdjust="spacingAndGlyphs">t</tspan><tspan x="1437.41" y="0" font-size="20.52" textLength="12.11" lengthAdjust="spacingAndGlyphs">9</tspan><tspan x="1450.14" font-size="20.96" textLength="10.03" lengthAdjust="spacingAndGlyphs">c</tspan><tspan x="1461.43" font-size="20.52" textLength="10.74" lengthAdjust="spacingAndGlyphs">y</tspan><tspan x="1473.23" font-size="20.52" textLength="11.89" lengthAdjust="spacingAndGlyphs">S</tspan><tspan x="1486.17" font-size="20.52" textLength="11.26" lengthAdjust="spacingAndGlyphs">3</tspan><tspan x="1499.01" font-size="20.7" textLength="14.6" lengthAdjust="spacingAndGlyphs">w</tspan><tspan x="1512.83" font-size="23.2" textLength="6.01" lengthAdjust="spacingAndGlyphs">.</tspan><tspan x="1519.18" font-size="23.2" textLength="6.01" lengthAdjust="spacingAndGlyphs">.</tspan><tspan x="1525.54" font-size="23.2" textLength="6.01" lengthAdjust="spacingAndGlyphs">.</tspan><tspan x="1532.25" font-size="20.35" textLength="11.8" lengthAdjust="spacingAndGlyphs">P</tspan><tspan x="1544.11" font-size="20.35" textLength="13.45" lengthAdjust="spacingAndGlyphs">K</tspan><tspan x="1557.29" font-size="20.82" textLength="11.99" lengthAdjust="spacingAndGlyphs">n</tspan><tspan x="1570.15" font-size="20.35" textLength="10.47" lengthAdjust="spacingAndGlyphs">F</tspan></text><text id="n14"><tspan x="1575.4" y="0" font-size="20.52" textLength="12.14" lengthAdjust="spacingAndGlyphs">6</tspan><tspan x="1588.26" font-size="20.52" textLength="11.85" lengthAdjust="spacingAndGlyphs">8</tspan><tspan x="1600.88" font-size="20.35" textLength="14.37" lengthAdjust="spacingAndGlyphs">H</tspan><tspan x="1615.9" font-size="20.35" textLength="13.45" lengthAdjust="spacingAndGlyphs">K</tspan><tspan x="1629.07" font-size="20.35" textLength="12.96" lengthAdjust="spacingAndGlyphs">B</tspan><tspan x="1642.63" font-size="20.96" textLength="11.82" lengthAdjust="spacingAndGlyphs">o</tspan><tspan x="1654.48" font-size="23.2" textLength="6.01" lengthAdjust="spacingAndGlyphs">.</tspan><tspan x="1660.83" font-size="23.2" textLength="6.01" lengthAdjust="spacingAndGlyphs">.</tspan><tspan x="1667.19" font-size="23.2" textLength="6.01" lengthAdjust="spacingAndGlyphs">.</tspan><tspan x="1673.67" font-size="20.35" textLength="11.44" lengthAdjust="spacingAndGlyphs">L</tspan><tspan x="1684.95" font-size="21.08" textLength="12.1" lengthAdjust="spacingAndGlyphs">b</tspan><tspan x="1698.09" font-size="20.7" textLength="14.6" lengthAdjust="spacingAndGlyphs">w</tspan><tspan x="1713.89" font-size="20.35" textLength="13.45" lengthAdjust="spacingAndGlyphs">K</tspan></text><text id="n15"><tspan x="1597.12" y="0" font-size="20.52" textLength="13.41" lengthAdjust="spacingAndGlyphs">C</tspan><tspan x="1611.33" font-size="20.96" textLength="10" lengthAdjust="spacingAndGlyphs">a</tspan><tspan x="1623.29" y="-0.2" font-size="21.46" textLength="7.43" lengthAdjust="spacingAndGlyphs">t</tspan><tspan x="1631.54" y="0" font-size="20.52" textLength="10.74" lengthAdjust="spacingAndGlyphs">y</tspan><tspan x="1643.01" font-size="20.96" textLength="12.01" lengthAdjust="spacingAndGlyphs">e</tspan><tspan x="1655.32" font-size="20.52" textLength="13.41" lengthAdjust="spacingAndGlyphs">C</tspan><tspan x="1669.26" font-size="23.2" textLength="6.01" lengthAdjust="spacingAndGlyphs">.</tspan><tspan x="1675.62" font-size="23.2" textLength="6.01" lengthAdjust="spacingAndGlyphs">.</tspan><tspan x="1681.98" font-size="23.2" textLength="6.01" lengthAdjust="spacingAndGlyphs">.</tspan><tspan x="1688.29" font-size="20.82" textLength="8.53" lengthAdjust="spacingAndGlyphs">r</tspan><tspan x="1696.9" font-size="20.52" textLength="11.89" lengthAdjust="spacingAndGlyphs">S</tspan><tspan x="1709.61" font-size="20.97" textLength="4.54" lengthAdjust="spacingAndGlyphs">i</tspan><tspan x="1715.15" font-size="20.35" textLength="11.8" lengthAdjust="spacingAndGlyphs">P</tspan></text><text id="n16"><tspan x="1422.13" y="0" font-size="20.35" textLength="12.96" lengthAdjust="spacingAndGlyphs">B</tspan><tspan x="1435.67" y="-1.1" font-size="19.64" textLength="15.38" lengthAdjust="spacingAndGlyphs">Q</tspan><tspan x="1451.8" y="0" font-size="20.35" textLength="11.47" lengthAdjust="spacingAndGlyphs">7</tspan><tspan x="1464.4" font-size="20.41" textLength="11.3" lengthAdjust="spacingAndGlyphs">2</tspan><tspan x="1477.06" font-size="20.82" textLength="11.99" lengthAdjust="spacingAndGlyphs">n</tspan><tspan x="1489.85" font-size="20.52" textLength="11.89" lengthAdjust="spacingAndGlyphs">S</tspan><tspan x="1502.21" font-size="23.2" textLength="6.01" lengthAdjust="spacingAndGlyphs">.</tspan><tspan x="1508.57" font-size="23.2" textLength="6.01" lengthAdjust="spacingAndGlyphs">.</tspan><tspan x="1514.93" font-size="23.2" textLength="6.01" lengthAdjust="spacingAndGlyphs">.</tspan><tspan x="1521.25" font-size="20.52" textLength="15.17" lengthAdjust="spacingAndGlyphs">G</tspan><tspan x="1536.8" y="-1.1" font-size="19.64" textLength="15.38" lengthAdjust="spacingAndGlyphs">Q</tspan><tspan x="1552.62" y="0" font-size="20.35" textLength="14.94" lengthAdjust="spacingAndGlyphs">D</tspan><tspan x="1567.47" font-size="20.35" textLength="13.54" lengthAdjust="spacingAndGlyphs">V</tspan></text><text id="n17"><tspan x="1574.75" y="0" font-size="20.52" textLength="10.74" lengthAdjust="spacingAndGlyphs">y</tspan><tspan x="1586.25" font-size="20.45" textLength="14.19" lengthAdjust="spacingAndGlyphs">U</tspan><tspan x="1601.54" font-size="20.7" textLength="14.6" lengthAdjust="spacingAndGlyphs">w</tspan><tspan x="1617.25" font-size="20.45" textLength="14.19" lengthAdjust="spacingAndGlyphs">U</tspan><tspan x="1632.22" font-size="20.52" textLength="10.74" lengthAdjust="spacingAndGlyphs">y</tspan><tspan x="1643.71" font-size="20.96" textLength="11.82" lengthAdjust="spacingAndGlyphs">o</tspan><tspan x="1655.55" font-size="23.2" textLength="6.01" lengthAdjust="spacingAndGlyphs">.</tspan><tspan x="1661.91" font-size="23.2" textLength="6.01" lengthAdjust="spacingAndGlyphs">.</tspan><tspan x="1668.27" font-size="23.2" textLength="6.01" lengthAdjust="spacingAndGlyphs">.</tspan><tspan x="1673.9" font-size="20.35" textLength="13.32" lengthAdjust="spacingAndGlyphs">T</tspan><tspan x="1686.91" font-size="20.52" textLength="12.11" lengthAdjust="spacingAndGlyphs">9</tspan><tspan x="1699.84" font-size="20.96" textLength="10" lengthAdjust="spacingAndGlyphs">a</tspan><tspan x="1711.99" font-size="20.35" textLength="14.37" lengthAdjust="spacingAndGlyphs">H</tspan></text><text id="n18"><tspan x="1590.74" y="0" font-size="20.35" textLength="11.44" lengthAdjust="spacingAndGlyphs">L</tspan><tspan x="1602.13" font-size="20.7" textLength="10.79" lengthAdjust="spacingAndGlyphs">v</tspan><tspan x="1613.63" y="-0.1" font-size="20.76" textLength="5.01" lengthAdjust="spacingAndGlyphs">j</tspan><tspan x="1619.18" y="0" font-size="20.52" textLength="13.41" lengthAdjust="spacingAndGlyphs">C</tspan><tspan x="1633.27" font-size="21.34" textLength="11.99" lengthAdjust="spacingAndGlyphs">u</tspan><tspan x="1646.16" font-size="20.97" textLength="4.54" lengthAdjust="spacingAndGlyphs">i</tspan><tspan x="1651.35" font-size="23.2" textLength="6.01" lengthAdjust="spacingAndGlyphs">.</tspan><tspan x="1657.71" font-size="23.2" textLength="6.01" lengthAdjust="spacingAndGlyphs">.</tspan><tspan x="1664.07" font-size="23.2" textLength="6.01" lengthAdjust="spacingAndGlyphs">.</tspan><tspan x="1670.71" font-size="20.41" textLength="11.3" lengthAdjust="spacingAndGlyphs">2</tspan><tspan x="1683.43" font-size="20.41" textLength="11.3" lengthAdjust="spacingAndGlyphs">2</tspan><tspan x="1696.28" font-size="20.35" textLength="10.47" lengthAdjust="spacingAndGlyphs">F</tspan><tspan x="1707.52" font-size="20.82" textLength="18.98" lengthAdjust="spacingAndGlyphs">m</tspan></text><text id="n19"><tspan x="1579.48" y="0" font-size="20.45" textLength="11.07" lengthAdjust="spacingAndGlyphs">5</tspan><tspan x="1591.57" font-size="20.35" textLength="13.44" lengthAdjust="spacingAndGlyphs">A</tspan><tspan x="1605.58" font-size="20.41" textLength="11.3" lengthAdjust="spacingAndGlyphs">2</tspan><tspan x="1617.39" font-size="20.35" textLength="13.16" lengthAdjust="spacingAndGlyphs">Y</tspan><tspan x="1630.6" font-size="20.7" textLength="10.79" lengthAdjust="spacingAndGlyphs">v</tspan><tspan x="1642.32" font-size="21.08" textLength="12.1" lengthAdjust="spacingAndGlyphs">b</tspan><tspan x="1654.77" font-size="23.2" textLength="6.01" lengthAdjust="spacingAndGlyphs">.</tspan><tspan x="1661.13" font-size="23.2" textLength="6.01" lengthAdjust="spacingAndGlyphs">.</tspan><tspan x="1667.49" font-size="23.2" textLength="6.01" lengthAdjust="spacingAndGlyphs">.</tspan><tspan x="1674" font-size="20.35" textLength="14.37" lengthAdjust="spacingAndGlyphs">H</tspan><tspan x="1688.79" font-size="20.35" textLength="13.54" lengthAdjust="spacingAndGlyphs">V</tspan><tspan x="1702.72" font-size="20.97" textLength="11.18" lengthAdjust="spacingAndGlyphs">k</tspan><tspan x="1714.27" font-size="20.52" textLength="12.14" lengthAdjust="spacingAndGlyphs">6</tspan></text><text id="n20"><tspan x="1598.17" y="0" font-size="20.35" textLength="10.47" lengthAdjust="spacingAndGlyphs">F</tspan><tspan x="1607.38" font-size="20.35" textLength="13.44" lengthAdjust="spacingAndGlyphs">A</tspan><tspan x="1618.86" font-size="20.35" textLength="13.32" lengthAdjust="spacingAndGlyphs">T</tspan><tspan x="1632.15" font-size="20.35" textLength="11.56" lengthAdjust="spacingAndGlyphs">E</tspan><tspan x="1644.46" font-size="20.96" textLength="11.82" lengthAdjust="spacingAndGlyphs">o</tspan><tspan x="1656.6" font-size="20.82" textLength="8.53" lengthAdjust="spacingAndGlyphs">r</tspan><tspan x="1663.04" font-size="23.2" textLength="6.01" lengthAdjust="spacingAndGlyphs">.</tspan><tspan x="1669.4" font-size="23.2" textLength="6.01" lengthAdjust="spacingAndGlyphs">.</tspan><tspan x="1675.76" font-size="23.2" textLength="6.01" lengthAdjust="spacingAndGlyphs">.</tspan><tspan x="1681.94" font-size="20.7" textLength="10.72" lengthAdjust="spacingAndGlyphs">z</tspan><tspan x="1692.7" font-size="20.96" textLength="10.03" lengthAdjust="spacingAndGlyphs">c</tspan><tspan x="1703.77" font-size="20.35" textLength="14.37" lengthAdjust="spacingAndGlyphs">H</tspan><tspan x="1718.6" font-size="20.82" textLength="8.53" lengthAdjust="spacingAndGlyphs">r</tspan></text><text id="n21"><tspan x="1582.89" y="0" font-size="20.35" textLength="14.94" lengthAdjust="spacingAndGlyphs">D</tspan><tspan x="1598.57" font-size="20.35" textLength="10.47" lengthAdjust="spacingAndGlyphs">F</tspan><tspan x="1609.78" font-size="20.35" textLength="14.94" lengthAdjust="spacingAndGlyphs">D</tspan><tspan x="1625.11" y="-0.1" font-size="20.76" textLength="5.01" lengthAdjust="spacingAndGlyphs">j</tspan><tspan x="1630.76" y="0" font-size="20.35" textLength="11.44" lengthAdjust="spacingAndGlyphs">L</tspan><tspan x="1641.77" font-size="20.35" textLength="13.35" lengthAdjust="spacingAndGlyphs">X</tspan><tspan x="1655.49" font-size="23.2" textLength="6.01" lengthAdjust="spacingAndGlyphs">.</tspan><tspan x="1661.85" font-size="23.2" textLength="6.01" lengthAdjust="spacingAndGlyphs">.</tspan><tspan x="1668.19" font-size="23.2" textLength="6.01" lengthAdjust="spacingAndGlyphs">.</tspan><tspan x="1675.14" font-size="20.45" textLength="11.07" lengthAdjust="spacingAndGlyphs">5</tspan><tspan x="1687.19" font-size="20.35" textLength="13.54" lengthAdjust="spacingAndGlyphs">V</tspan><tspan x="1700.32" font-size="20.35" textLength="13.16" lengthAdjust="spacingAndGlyphs">Y</tspan><tspan x="1713.08" font-size="20.35" textLength="13.54" lengthAdjust="spacingAndGlyphs">V</tspan></text><text id="n22"><tspan x="1437.15" y="0" font-size="20.52" textLength="12.14" lengthAdjust="spacingAndGlyphs">6</tspan><tspan x="1449.8" font-size="20.45" textLength="14.19" lengthAdjust="spacingAndGlyphs">U</tspan><tspan x="1464.46" font-size="20.52" textLength="12.11" lengthAdjust="spacingAndGlyphs">9</tspan><tspan x="1477.6" font-size="20.35" textLength="11.2" lengthAdjust="spacingAndGlyphs">1</tspan><tspan x="1490.11" font-size="20.96" textLength="10" lengthAdjust="spacingAndGlyphs">a</tspan><tspan x="1502.23" font-size="20.35" textLength="13.45" lengthAdjust="spacingAndGlyphs">K</tspan><tspan x="1515.19" font-size="23.2" textLength="6.01" lengthAdjust="spacingAndGlyphs">.</tspan><tspan x="1521.55" font-size="23.2" textLength="6.01" lengthAdjust="spacingAndGlyphs">.</tspan><tspan x="1527.91" font-size="23.2" textLength="6.01" lengthAdjust="spacingAndGlyphs">.</tspan><tspan x="1534.55" font-size="20.41" textLength="11.3" lengthAdjust="spacingAndGlyphs">2</tspan><tspan x="1546.96" y="-0.2" font-size="21.46" textLength="7.43" lengthAdjust="spacingAndGlyphs">t</tspan><tspan x="1555.09" y="0" font-size="21.08" textLength="12.1" lengthAdjust="spacingAndGlyphs">b</tspan><tspan x="1567.74" font-size="20.35" textLength="12.96" lengthAdjust="spacingAndGlyphs">B</tspan></text><text id="n23"><tspan x="1571.6" y="0" font-size="20.52" textLength="11.26" lengthAdjust="spacingAndGlyphs">3</tspan><tspan x="1583.95" font-size="20.82" textLength="11.99" lengthAdjust="spacingAndGlyphs">n</tspan><tspan x="1596.56" font-size="20.35" textLength="16.61" lengthAdjust="spacingAndGlyphs">M</tspan><tspan x="1613.84" font-size="20.35" textLength="14.27" lengthAdjust="spacingAndGlyphs">N</tspan><tspan x="1628.64" font-size="21.08" textLength="12.09" lengthAdjust="spacingAndGlyphs">d</tspan><tspan x="1641.59" font-size="20.52" textLength="11.85" lengthAdjust="spacingAndGlyphs">8</tspan><tspan x="1654.04" font-size="23.2" textLength="6.01" lengthAdjust="spacingAndGlyphs">.</tspan><tspan x="1660.4" font-size="23.2" textLength="6.01" lengthAdjust="spacingAndGlyphs">.</tspan><tspan x="1666.76" font-size="23.2" textLength="6.01" lengthAdjust="spacingAndGlyphs">.</tspan><tspan x="1673.28" font-size="20.35" textLength="14.37" lengthAdjust="spacingAndGlyphs">H</tspan><tspan x="1688.53" font-size="20.52" textLength="10.74" lengthAdjust="spacingAndGlyphs">y</tspan><tspan x="1700.37" font-size="20.52" textLength="10.74" lengthAdjust="spacingAndGlyphs">y</tspan><tspan x="1711.99" font-size="20.35" textLength="14.37" lengthAdjust="spacingAndGlyphs">H</tspan></text><text id="n24"><tspan x="1442.53" y="0" font-size="20.35" textLength="14.37" lengthAdjust="spacingAndGlyphs">H</tspan><tspan x="1457.79" font-size="20.35" textLength="10.47" lengthAdjust="spacingAndGlyphs">F</tspan><tspan x="1468.93" font-size="20.6" textLength="12.08" lengthAdjust="spacingAndGlyphs">q</tspan><tspan x="1481.85" font-size="20.62" textLength="12.1" lengthAdjust="spacingAndGlyphs">p</tspan><tspan x="1494.41" font-size="20.52" textLength="12.14" lengthAdjust="spacingAndGlyphs">6</tspan><tspan x="1507.4" font-size="20.35" textLength="11.56" lengthAdjust="spacingAndGlyphs">E</tspan><tspan x="1519.66" font-size="23.2" textLength="6.01" lengthAdjust="spacingAndGlyphs">.</tspan><tspan x="1526.01" font-size="23.2" textLength="6.01" lengthAdjust="spacingAndGlyphs">.</tspan><tspan x="1532.37" font-size="23.2" textLength="6.01" lengthAdjust="spacingAndGlyphs">.</tspan><tspan x="1539.07" font-size="20.35" textLength="11.8" lengthAdjust="spacingAndGlyphs">P</tspan><tspan x="1551.13" font-size="20.52" textLength="11.89" lengthAdjust="spacingAndGlyphs">S</tspan><tspan x="1563.85" font-size="20.97" textLength="4.54" lengthAdjust="spacingAndGlyphs">i</tspan><tspan x="1568.4" font-size="20.35" textLength="13.16" lengthAdjust="spacingAndGlyphs">Y</tspan></text><text id="n25"><tspan x="1597.74" y="0" font-size="20.35" textLength="11.73" lengthAdjust="spacingAndGlyphs">4</tspan><tspan x="1610.23" font-size="20.35" textLength="14.94" lengthAdjust="spacingAndGlyphs">D</tspan><tspan x="1625.56" font-size="20.52" textLength="13.41" lengthAdjust="spacingAndGlyphs">C</tspan><tspan x="1639.52" font-size="20.6" textLength="12.08" lengthAdjust="spacingAndGlyphs">q</tspan><tspan x="1652.46" font-size="20.52" textLength="11.85" lengthAdjust="spacingAndGlyphs">8</tspan><tspan x="1664.74" font-size="20.7" textLength="10.72" lengthAdjust="spacingAndGlyphs">z</tspan><tspan x="1675.41" font-size="23.2" textLength="6.01" lengthAdjust="spacingAndGlyphs">.</tspan><tspan x="1681.77" font-size="23.2" textLength="6.01" lengthAdjust="spacingAndGlyphs">.</tspan><tspan x="1688.13" font-size="23.2" textLength="6.01" lengthAdjust="spacingAndGlyphs">.</tspan><tspan x="1694.52" font-size="21.08" textLength="12.09" lengthAdjust="spacingAndGlyphs">d</tspan><tspan x="1705.53" y="3.7" font-size="26.63" textLength="6.66" lengthAdjust="spacingAndGlyphs">J</tspan><tspan x="1713.44" y="0" font-size="20.97" textLength="4.54" lengthAdjust="spacingAndGlyphs">i</tspan><tspan x="1718.58" font-size="20.82" textLength="8.53" lengthAdjust="spacingAndGlyphs">r</tspan></text><text id="n26"><tspan x="1579.86" y="0" font-size="20.35" textLength="11.47" lengthAdjust="spacingAndGlyphs">7</tspan><tspan x="1592.58" font-size="20.35" textLength="11.47" lengthAdjust="spacingAndGlyphs">7</tspan><tspan x="1604.84" font-size="20.35" textLength="13.44" lengthAdjust="spacingAndGlyphs">A</tspan><tspan x="1618.68" font-size="20.35" textLength="11.44" lengthAdjust="spacingAndGlyphs">L</tspan><tspan x="1630.06" font-size="20.52" textLength="11.89" lengthAdjust="spacingAndGlyphs">S</tspan><tspan x="1642.69" font-size="20.96" textLength="10" lengthAdjust="spacingAndGlyphs">a</tspan><tspan x="1654.66" font-size="23.2" textLength="6.01" lengthAdjust="spacingAndGlyphs">.</tspan><tspan x="1661.02" font-size="23.2" textLength="6.01" lengthAdjust="spacingAndGlyphs">.</tspan><tspan x="1667.38" font-size="23.2" textLength="6.01" lengthAdjust="spacingAndGlyphs">.</tspan><tspan x="1673.91" font-size="20.35" textLength="14.37" lengthAdjust="spacingAndGlyphs">H</tspan><tspan x="1688.99" font-size="20.82" textLength="11.99" lengthAdjust="spacingAndGlyphs">n</tspan><tspan x="1701.79" font-size="20.52" textLength="11.89" lengthAdjust="spacingAndGlyphs">S</tspan><tspan x="1714.27" font-size="20.52" textLength="12.14" lengthAdjust="spacingAndGlyphs">6</tspan></text><text id="n27"><tspan x="1593.82" y="0" font-size="20.52" textLength="11.85" lengthAdjust="spacingAndGlyphs">8</tspan><tspan x="1604.62" y="3.7" font-size="26.63" textLength="6.66" lengthAdjust="spacingAndGlyphs">J</tspan><tspan x="1611.53" y="0" font-size="20.35" textLength="13.16" lengthAdjust="spacingAndGlyphs">Y</tspan><tspan x="1624.31" font-size="21" textLength="7.3" lengthAdjust="spacingAndGlyphs">f</tspan><tspan x="1631.49" font-size="20.45" textLength="14.19" lengthAdjust="spacingAndGlyphs">U</tspan><tspan x="1646.34" font-size="20.96" textLength="10" lengthAdjust="spacingAndGlyphs">a</tspan><tspan x="1658.32" font-size="23.2" textLength="6.01" lengthAdjust="spacingAndGlyphs">.</tspan><tspan x="1664.68" font-size="23.2" textLength="6.01" lengthAdjust="spacingAndGlyphs">.</tspan><tspan x="1671.04" font-size="23.2" textLength="6.01" lengthAdjust="spacingAndGlyphs">.</tspan><tspan x="1677.56" font-size="20.7" textLength="11.09" lengthAdjust="spacingAndGlyphs">x</tspan><tspan x="1689.73" font-size="20.35" textLength="11.2" lengthAdjust="spacingAndGlyphs">1</tspan><tspan x="1701.99" font-size="20.6" textLength="12.08" lengthAdjust="spacingAndGlyphs">q</tspan><tspan x="1714.01" font-size="20.35" textLength="13.16" lengthAdjust="spacingAndGlyphs">Y</tspan></text><text id="n28"><tspan x="1587.72" y="0" font-size="20.45" textLength="11.07" lengthAdjust="spacingAndGlyphs">5</tspan><tspan x="1600.18" font-size="20.35" textLength="11.73" lengthAdjust="spacingAndGlyphs">4</tspan><tspan x="1612.92" font-size="20.35" textLength="11.8" lengthAdjust="spacingAndGlyphs">P</tspan><tspan x="1624.46" font-size="20.7" textLength="10.72" lengthAdjust="spacingAndGlyphs">z</tspan><tspan x="1635.63" font-size="20.35" textLength="11.2" lengthAdjust="spacingAndGlyphs">1</tspan><tspan x="1647.87" font-size="20.96" textLength="12.01" lengthAdjust="spacingAndGlyphs">e</tspan><tspan x="1660.16" font-size="23.2" textLength="6.01" lengthAdjust="spacingAndGlyphs">.</tspan><tspan x="1666.52" font-size="23.2" textLength="6.01" lengthAdjust="spacingAndGlyphs">.</tspan><tspan x="1672.88" font-size="23.2" textLength="6.01" lengthAdjust="spacingAndGlyphs">.</tspan><tspan x="1679.27" font-size="21.08" textLength="12.09" lengthAdjust="spacingAndGlyphs">d</tspan><tspan x="1692.32" font-size="21.02" textLength="9.59" lengthAdjust="spacingAndGlyphs">s</tspan><tspan x="1702.49" font-size="21.34" textLength="11.99" lengthAdjust="spacingAndGlyphs">u</tspan><tspan x="1715.4" font-size="20.52" textLength="10.74" lengthAdjust="spacingAndGlyphs">y</tspan></text><text id="n29"><tspan x="1588.19" y="0" font-size="20.35" textLength="14.37" lengthAdjust="spacingAndGlyphs">H</tspan><tspan x="1603.22" font-size="20.7" textLength="11.09" lengthAdjust="spacingAndGlyphs">x</tspan><tspan x="1614.92" y="-0.1" font-size="20.76" textLength="5.01" lengthAdjust="spacingAndGlyphs">j</tspan><tspan x="1621.15" y="0" font-size="20.7" textLength="14.6" lengthAdjust="spacingAndGlyphs">w</tspan><tspan x="1636.83" font-size="21.08" textLength="12.09" lengthAdjust="spacingAndGlyphs">d</tspan><tspan x="1649.9" font-size="20.35" textLength="10.47" lengthAdjust="spacingAndGlyphs">F</tspan><tspan x="1657.79" font-size="23.2" textLength="6.01" lengthAdjust="spacingAndGlyphs">.</tspan><tspan x="1664.15" font-size="23.2" textLength="6.01" lengthAdjust="spacingAndGlyphs">.</tspan><tspan x="1670.51" font-size="23.2" textLength="6.01" lengthAdjust="spacingAndGlyphs">.</tspan><tspan x="1677.57" font-size="20.7" textLength="14.6" lengthAdjust="spacingAndGlyphs">w</tspan><tspan x="1693.18" font-size="20.82" textLength="8.53" lengthAdjust="spacingAndGlyphs">r</tspan><tspan x="1701.57" font-size="20.52" textLength="12.14" lengthAdjust="spacingAndGlyphs">6</tspan><tspan x="1714.41" font-size="21.08" textLength="12.1" lengthAdjust="spacingAndGlyphs">b</tspan></text><text id="n30"><tspan x="1429.52" y="0" font-size="20.35" textLength="11.73" lengthAdjust="spacingAndGlyphs">4</tspan><tspan x="1442.08" font-size="20.7" textLength="11.09" lengthAdjust="spacingAndGlyphs">x</tspan><tspan x="1453.86" font-size="20.35" textLength="14.94" lengthAdjust="spacingAndGlyphs">D</tspan><tspan x="1469.53" font-size="21.02" textLength="9.59" lengthAdjust="spacingAndGlyphs">s</tspan><tspan x="1479.71" font-size="20.82" textLength="18.98" lengthAdjust="spacingAndGlyphs">m</tspan><tspan x="1499.08" font-size="20.96" textLength="12.01" lengthAdjust="spacingAndGlyphs">e</tspan><tspan x="1511.35" font-size="23.2" textLength="6.01" lengthAdjust="spacingAndGlyphs">.</tspan><tspan x="1517.71" font-size="23.2" textLength="6.01" lengthAdjust="spacingAndGlyphs">.</tspan><tspan x="1524.07" font-size="23.2" textLength="6.01" lengthAdjust="spacingAndGlyphs">.</tspan><tspan x="1530.46" font-size="21.08" textLength="12.09" lengthAdjust="spacingAndGlyphs">d</tspan><tspan x="1543.27" font-size="21.34" textLength="11.99" lengthAdjust="spacingAndGlyphs">u</tspan><tspan x="1556.22" font-size="20.35" textLength="11.47" lengthAdjust="spacingAndGlyphs">7</tspan><tspan x="1569.02" font-size="20.35" textLength="11.2" lengthAdjust="spacingAndGlyphs">1</tspan></text><text id="n31"><tspan x="1578.04" y="0" font-size="20.52" textLength="13.41" lengthAdjust="spacingAndGlyphs">C</tspan><tspan x="1591.93" font-size="20.82" textLength="8.53" lengthAdjust="spacingAndGlyphs">r</tspan><tspan x="1600.34" font-size="20.52" textLength="12.14" lengthAdjust="spacingAndGlyphs">6</tspan><tspan x="1613.29" font-size="20.7" textLength="10.79" lengthAdjust="spacingAndGlyphs">v</tspan><tspan x="1624.82" font-size="20.45" textLength="14.19" lengthAdjust="spacingAndGlyphs">U</tspan><tspan x="1639.54" font-size="20.82" textLength="18.98" lengthAdjust="spacingAndGlyphs">m</tspan><tspan x="1658.88" font-size="23.2" textLength="6.01" lengthAdjust="spacingAndGlyphs">.</tspan><tspan x="1665.24" font-size="23.2" textLength="6.01" lengthAdjust="spacingAndGlyphs">.</tspan><tspan x="1671.6" font-size="23.2" textLength="6.01" lengthAdjust="spacingAndGlyphs">.</tspan><tspan x="1678.19" font-size="20.35" textLength="13.81" lengthAdjust="spacingAndGlyphs">R</tspan><tspan x="1691.96" font-size="20.35" textLength="11.44" lengthAdjust="spacingAndGlyphs">L</tspan><tspan x="1703.1" font-size="20.35" textLength="11.44" lengthAdjust="spacingAndGlyphs">L</tspan><tspan x="1714.4" font-size="20.52" textLength="11.85" lengthAdjust="spacingAndGlyphs">8</tspan></text><text id="n32"><tspan x="1582.72" y="-0.1" font-size="20.64" textLength="12.09" lengthAdjust="spacingAndGlyphs">g</tspan><tspan x="1595.41" font-size="20.64" textLength="12.09" lengthAdjust="spacingAndGlyphs">g</tspan><tspan x="1608.46" y="0" font-size="20.35" textLength="11.56" lengthAdjust="spacingAndGlyphs">E</tspan><tspan x="1620.54" font-size="20.7" textLength="10.72" lengthAdjust="spacingAndGlyphs">z</tspan><tspan x="1631.44" font-size="20.35" textLength="13.81" lengthAdjust="spacingAndGlyphs">R</tspan><tspan x="1645.26" font-size="20.35" textLength="13.45" lengthAdjust="spacingAndGlyphs">K</tspan><tspan x="1658.23" font-size="23.2" textLength="6.01" lengthAdjust="spacingAndGlyphs">.</tspan><tspan x="1664.58" font-size="23.2" textLength="6.01" lengthAdjust="spacingAndGlyphs">.</tspan><tspan x="1670.94" font-size="23.2" textLength="6.01" lengthAdjust="spacingAndGlyphs">.</tspan><tspan x="1677.35" font-size="20.96" textLength="11.82" lengthAdjust="spacingAndGlyphs">o</tspan><tspan x="1689.56" font-size="20.96" textLength="12.01" lengthAdjust="spacingAndGlyphs">e</tspan><tspan x="1702.16" font-size="20.35" textLength="11.73" lengthAdjust="spacingAndGlyphs">4</tspan><tspan x="1714.59" font-size="20.96" textLength="12.01" lengthAdjust="spacingAndGlyphs">e</tspan></text><text id="n33"><tspan x="1571.55" y="0" font-size="20.52" textLength="15.17" lengthAdjust="spacingAndGlyphs">G</tspan><tspan x="1587.33" font-size="20.96" textLength="10" lengthAdjust="spacingAndGlyphs">a</tspan><tspan x="1599.34" font-size="20.52" textLength="13.41" lengthAdjust="spacingAndGlyphs">C</tspan><tspan x="1613.43" font-size="20.82" textLength="18.98" lengthAdjust="spacingAndGlyphs">m</tspan><tspan x="1632.79" font-size="20.6" textLength="12.08" lengthAdjust="spacingAndGlyphs">q</tspan><tspan x="1645.29" font-size="20.7" textLength="10.72" lengthAdjust="spacingAndGlyphs">z</tspan><tspan x="1655.96" font-size="23.2" textLength="6.01" lengthAdjust="spacingAndGlyphs">.</tspan><tspan x="1662.32" font-size="23.2" textLength="6.01" lengthAdjust="spacingAndGlyphs">.</tspan><tspan x="1668.68" font-size="23.2" textLength="6.01" lengthAdjust="spacingAndGlyphs">.</tspan><tspan x="1675.27" font-size="20.62" textLength="12.1" lengthAdjust="spacingAndGlyphs">p</tspan><tspan x="1687.63" font-size="20.35" textLength="13.54" lengthAdjust="spacingAndGlyphs">V</tspan><tspan x="1701.91" font-size="20.35" textLength="11.2" lengthAdjust="spacingAndGlyphs">1</tspan><tspan x="1714.21" font-size="20.52" textLength="12.11" lengthAdjust="spacingAndGlyphs">9</tspan></text><text id="n34"><tspan x="1372.2" y="0" font-size="20.35" textLength="13.32" lengthAdjust="spacingAndGlyphs">T</tspan><tspan x="1381.77" font-size="20.96" textLength="11.82" lengthAdjust="spacingAndGlyphs">o</tspan><tspan x="1394.11" font-size="20.97" textLength="11.18" lengthAdjust="spacingAndGlyphs">k</tspan><tspan x="1404.86" font-size="20.96" textLength="12.01" lengthAdjust="spacingAndGlyphs">e</tspan><tspan x="1417.35" font-size="20.82" textLength="11.99" lengthAdjust="spacingAndGlyphs">n</tspan><tspan x="1436.27" font-size="20.35" textLength="14.94" lengthAdjust="spacingAndGlyphs">D</tspan><tspan x="1451.59" font-size="20.96" textLength="12.01" lengthAdjust="spacingAndGlyphs">e</tspan><tspan x="1464.12" font-size="20.62" textLength="12.1" lengthAdjust="spacingAndGlyphs">p</tspan><tspan x="1476.91" font-size="20.97" textLength="4.54" lengthAdjust="spacingAndGlyphs">l</tspan><tspan x="1482.18" font-size="20.96" textLength="11.82" lengthAdjust="spacingAndGlyphs">o</tspan><tspan x="1494.75" font-size="20.52" textLength="10.74" lengthAdjust="spacingAndGlyphs">y</tspan><tspan x="1506.22" font-size="20.96" textLength="12.01" lengthAdjust="spacingAndGlyphs">e</tspan><tspan x="1518.46" font-size="20.82" textLength="8.53" lengthAdjust="spacingAndGlyphs">r</tspan><tspan x="1533.13" font-size="20.96" textLength="11.82" lengthAdjust="spacingAndGlyphs">o</tspan><tspan x="1545.54" font-size="20.82" textLength="11.99" lengthAdjust="spacingAndGlyphs">n</tspan><tspan x="1564.7" font-size="20.35" textLength="11.8" lengthAdjust="spacingAndGlyphs">P</tspan><tspan x="1576.19" font-size="21.34" textLength="11.99" lengthAdjust="spacingAndGlyphs">u</tspan><tspan x="1595.37" font-size="20.52" textLength="11.85" lengthAdjust="spacingAndGlyphs">8</tspan><tspan x="1607.93" font-size="20.35" textLength="11.44" lengthAdjust="spacingAndGlyphs">L</tspan><tspan x="1619.24" font-size="20.41" textLength="11.3" lengthAdjust="spacingAndGlyphs">2</tspan><tspan x="1632.06" font-size="20.52" textLength="10.74" lengthAdjust="spacingAndGlyphs">y</tspan><tspan x="1644.11" font-size="20.45" textLength="11.07" lengthAdjust="spacingAndGlyphs">5</tspan><tspan x="1656.82" font-size="20.45" textLength="11.07" lengthAdjust="spacingAndGlyphs">5</tspan><tspan x="1668.98" font-size="23.2" textLength="6.01" lengthAdjust="spacingAndGlyphs">.</tspan><tspan x="1675.33" font-size="23.2" textLength="6.01" lengthAdjust="spacingAndGlyphs">.</tspan><tspan x="1681.68" font-size="23.2" textLength="6.01" lengthAdjust="spacingAndGlyphs">.</tspan><tspan x="1688.29" font-size="21.08" textLength="12.1" lengthAdjust="spacingAndGlyphs">b</tspan><tspan x="1700.71" y="-0.2" font-size="21.46" textLength="7.43" lengthAdjust="spacingAndGlyphs">t</tspan><tspan x="1708.85" y="0" font-size="20.52" textLength="11.85" lengthAdjust="spacingAndGlyphs">8</tspan><tspan x="1721.33" y="-0.1" font-size="20.76" textLength="5.01" lengthAdjust="spacingAndGlyphs">j</tspan></text><text id="n35"><tspan x="1441.74" y="0" font-size="20.52" textLength="12.14" lengthAdjust="spacingAndGlyphs">6</tspan><tspan x="1454.41" font-size="20.52" textLength="12.11" lengthAdjust="spacingAndGlyphs">9</tspan><tspan x="1467.43" font-size="20.52" textLength="10.74" lengthAdjust="spacingAndGlyphs">y</tspan><tspan x="1479.05" font-size="20.97" textLength="12.08" lengthAdjust="spacingAndGlyphs">h</tspan><tspan x="1491.54" y="-0.2" font-size="21.46" textLength="7.43" lengthAdjust="spacingAndGlyphs">t</tspan><tspan x="1499.46" y="0" font-size="20.96" textLength="11.82" lengthAdjust="spacingAndGlyphs">o</tspan><tspan x="1511.3" font-size="23.2" textLength="6.01" lengthAdjust="spacingAndGlyphs">.</tspan><tspan x="1517.66" font-size="23.2" textLength="6.01" lengthAdjust="spacingAndGlyphs">.</tspan><tspan x="1524.01" font-size="23.2" textLength="6.01" lengthAdjust="spacingAndGlyphs">.</tspan><tspan x="1530.64" font-size="20.96" textLength="10" lengthAdjust="spacingAndGlyphs">a</tspan><tspan x="1542.54" font-size="20.35" textLength="13.54" lengthAdjust="spacingAndGlyphs">V</tspan><tspan x="1555.59" font-size="20.35" textLength="13.32" lengthAdjust="spacingAndGlyphs">T</tspan><tspan x="1569.11" font-size="20.45" textLength="11.07" lengthAdjust="spacingAndGlyphs">5</tspan></text><text id="n36"><tspan x="1570.61" y="0" font-size="20.52" textLength="15.17" lengthAdjust="spacingAndGlyphs">G</tspan><tspan x="1586.14" y="-1.1" font-size="19.64" textLength="15.38" lengthAdjust="spacingAndGlyphs">Q</tspan><tspan x="1602.24" y="0" font-size="20.35" textLength="11.56" lengthAdjust="spacingAndGlyphs">E</tspan><tspan x="1614.55" font-size="20.35" textLength="13.27" lengthAdjust="spacingAndGlyphs">Z</tspan><tspan x="1628.31" font-size="20.35" textLength="14.94" lengthAdjust="spacingAndGlyphs">D</tspan><tspan x="1643.95" font-size="20.97" textLength="4.54" lengthAdjust="spacingAndGlyphs">i</tspan><tspan x="1649.16" font-size="23.2" textLength="6.01" lengthAdjust="spacingAndGlyphs">.</tspan><tspan x="1655.52" font-size="23.2" textLength="6.01" lengthAdjust="spacingAndGlyphs">.</tspan><tspan x="1661.88" font-size="23.2" textLength="6.01" lengthAdjust="spacingAndGlyphs">.</tspan><tspan x="1668.13" font-size="20.35" textLength="13.54" lengthAdjust="spacingAndGlyphs">V</tspan><tspan x="1682.33" font-size="20.35" textLength="18.61" lengthAdjust="spacingAndGlyphs">W</tspan><tspan x="1701.72" font-size="20.52" textLength="10.74" lengthAdjust="spacingAndGlyphs">y</tspan><tspan x="1713.13" font-size="20.35" textLength="13.44" lengthAdjust="spacingAndGlyphs">A</tspan></text><text id="n37"><tspan x="1579.38" y="0" font-size="20.41" textLength="11.3" lengthAdjust="spacingAndGlyphs">2</tspan><tspan x="1592.2" font-size="20.35" textLength="11.56" lengthAdjust="spacingAndGlyphs">E</tspan><tspan x="1604.51" font-size="20.35" textLength="13.27" lengthAdjust="spacingAndGlyphs">Z</tspan><tspan x="1618.55" font-size="21.02" textLength="9.59" lengthAdjust="spacingAndGlyphs">s</tspan><tspan x="1628.66" font-size="20.96" textLength="10.03" lengthAdjust="spacingAndGlyphs">c</tspan><tspan x="1640.16" font-size="20.52" textLength="11.26" lengthAdjust="spacingAndGlyphs">3</tspan><tspan x="1652.3" font-size="23.2" textLength="6.01" lengthAdjust="spacingAndGlyphs">.</tspan><tspan x="1658.65" font-size="23.2" textLength="6.01" lengthAdjust="spacingAndGlyphs">.</tspan><tspan x="1665.01" font-size="23.2" textLength="6.01" lengthAdjust="spacingAndGlyphs">.</tspan><tspan x="1671.55" font-size="20.35" textLength="14.27" lengthAdjust="spacingAndGlyphs">N</tspan><tspan x="1686.48" font-size="20.35" textLength="13.45" lengthAdjust="spacingAndGlyphs">K</tspan><tspan x="1699.49" font-size="20.35" textLength="13.27" lengthAdjust="spacingAndGlyphs">Z</tspan><tspan x="1713.35" font-size="20.35" textLength="12.96" lengthAdjust="spacingAndGlyphs">B</tspan></text><text id="n38"><tspan x="1584.75" y="0" font-size="20.35" textLength="14.37" lengthAdjust="spacingAndGlyphs">H</tspan><tspan x="1599.75" font-size="21.34" textLength="11.99" lengthAdjust="spacingAndGlyphs">u</tspan><tspan x="1611.58" font-size="20.35" textLength="13.32" lengthAdjust="spacingAndGlyphs">T</tspan><tspan x="1621.58" font-size="21.02" textLength="9.59" lengthAdjust="spacingAndGlyphs">s</tspan><tspan x="1631.76" font-size="20.97" textLength="12.08" lengthAdjust="spacingAndGlyphs">h</tspan><tspan x="1644.43" font-size="20.82" textLength="18.98" lengthAdjust="spacingAndGlyphs">m</tspan><tspan x="1663.77" font-size="23.2" textLength="6.01" lengthAdjust="spacingAndGlyphs">.</tspan><tspan x="1670.13" font-size="23.2" textLength="6.01" lengthAdjust="spacingAndGlyphs">.</tspan><tspan x="1676.49" font-size="23.2" textLength="6.01" lengthAdjust="spacingAndGlyphs">.</tspan><tspan x="1683.1" font-size="20.62" textLength="12.1" lengthAdjust="spacingAndGlyphs">p</tspan><tspan x="1695.52" font-size="20.35" textLength="13.35" lengthAdjust="spacingAndGlyphs">X</tspan><tspan x="1709.6" font-size="20.97" textLength="4.54" lengthAdjust="spacingAndGlyphs">i</tspan><tspan x="1715.15" font-size="20.35" textLength="11.8" lengthAdjust="spacingAndGlyphs">P</tspan></text><text id="n39"><tspan x="1584.21" y="0" font-size="20.35" textLength="11.56" lengthAdjust="spacingAndGlyphs">E</tspan><tspan x="1596.49" y="-0.1" font-size="20.64" textLength="12.09" lengthAdjust="spacingAndGlyphs">g</tspan><tspan x="1609.41" y="0" font-size="21.08" textLength="12.1" lengthAdjust="spacingAndGlyphs">b</tspan><tspan x="1622.21" font-size="20.7" textLength="10.79" lengthAdjust="spacingAndGlyphs">v</tspan><tspan x="1633.65" font-size="20.82" textLength="8.53" lengthAdjust="spacingAndGlyphs">r</tspan><tspan x="1641.94" y="-1.1" font-size="19.64" textLength="15.38" lengthAdjust="spacingAndGlyphs">Q</tspan><tspan x="1657.66" y="0" font-size="23.2" textLength="6.01" lengthAdjust="spacingAndGlyphs">.</tspan><tspan x="1664.01" font-size="23.2" textLength="6.01" lengthAdjust="spacingAndGlyphs">.</tspan><tspan x="1670.37" font-size="23.2" textLength="6.01" lengthAdjust="spacingAndGlyphs">.</tspan><tspan x="1676.86" font-size="21.34" textLength="11.99" lengthAdjust="spacingAndGlyphs">u</tspan><tspan x="1689.75" font-size="20.35" textLength="11.8" lengthAdjust="spacingAndGlyphs">P</tspan><tspan x="1702.05" font-size="20.52" textLength="11.26" lengthAdjust="spacingAndGlyphs">3</tspan><tspan x="1714.42" font-size="20.82" textLength="11.99" lengthAdjust="spacingAndGlyphs">n</tspan></text><text id="n40"><tspan x="1442.25" y="0" font-size="20.52" textLength="11.26" lengthAdjust="spacingAndGlyphs">3</tspan><tspan x="1454.4" font-size="20.52" textLength="13.41" lengthAdjust="spacingAndGlyphs">C</tspan><tspan x="1468.38" y="-0.1" font-size="20.64" textLength="12.09" lengthAdjust="spacingAndGlyphs">g</tspan><tspan x="1481.4" y="0" font-size="20.7" textLength="10.79" lengthAdjust="spacingAndGlyphs">v</tspan><tspan x="1493.13" font-size="21.08" textLength="12.1" lengthAdjust="spacingAndGlyphs">b</tspan><tspan x="1505.92" font-size="20.97" textLength="4.54" lengthAdjust="spacingAndGlyphs">i</tspan><tspan x="1511.13" font-size="23.2" textLength="6.01" lengthAdjust="spacingAndGlyphs">.</tspan><tspan x="1517.49" font-size="23.2" textLength="6.01" lengthAdjust="spacingAndGlyphs">.</tspan><tspan x="1523.85" font-size="23.2" textLength="6.01" lengthAdjust="spacingAndGlyphs">.</tspan><tspan x="1530.6" font-size="21.02" textLength="9.59" lengthAdjust="spacingAndGlyphs">s</tspan><tspan x="1540.85" font-size="20.35" textLength="13.81" lengthAdjust="spacingAndGlyphs">R</tspan><tspan x="1553.66" font-size="20.96" textLength="11.82" lengthAdjust="spacingAndGlyphs">o</tspan><tspan x="1565.95" font-size="20.35" textLength="14.94" lengthAdjust="spacingAndGlyphs">D</tspan></text><text id="n41"><tspan x="1436.21" y="0" font-size="20.52" textLength="13.41" lengthAdjust="spacingAndGlyphs">C</tspan><tspan x="1450.42" font-size="20.96" textLength="10" lengthAdjust="spacingAndGlyphs">a</tspan><tspan x="1462.66" font-size="20.62" textLength="12.1" lengthAdjust="spacingAndGlyphs">p</tspan><tspan x="1475.24" font-size="21.34" textLength="11.99" lengthAdjust="spacingAndGlyphs">u</tspan><tspan x="1487.77" font-size="20.35" textLength="13.35" lengthAdjust="spacingAndGlyphs">X</tspan><tspan x="1501.65" font-size="20.35" textLength="14.27" lengthAdjust="spacingAndGlyphs">N</tspan><tspan x="1516.44" font-size="23.2" textLength="6.01" lengthAdjust="spacingAndGlyphs">.</tspan><tspan x="1522.8" font-size="23.2" textLength="6.01" lengthAdjust="spacingAndGlyphs">.</tspan><tspan x="1529.16" font-size="23.2" textLength="6.01" lengthAdjust="spacingAndGlyphs">.</tspan><tspan x="1535.63" font-size="20.35" textLength="11.44" lengthAdjust="spacingAndGlyphs">L</tspan><tspan x="1544.36" font-size="20.35" textLength="13.54" lengthAdjust="spacingAndGlyphs">V</tspan><tspan x="1558.4" font-size="20.62" textLength="12.1" lengthAdjust="spacingAndGlyphs">p</tspan><tspan x="1571.22" font-size="21.02" textLength="9.59" lengthAdjust="spacingAndGlyphs">s</tspan></text><text id="n42"><tspan x="1578.18" y="0" font-size="20.35" textLength="11.73" lengthAdjust="spacingAndGlyphs">4</tspan><tspan x="1590.71" font-size="20.35" textLength="13.45" lengthAdjust="spacingAndGlyphs">K</tspan><tspan x="1604.27" font-size="20.52" textLength="11.26" lengthAdjust="spacingAndGlyphs">3</tspan><tspan x="1616.69" font-size="20.96" textLength="10" lengthAdjust="spacingAndGlyphs">a</tspan><tspan x="1628.94" font-size="20.41" textLength="11.3" lengthAdjust="spacingAndGlyphs">2</tspan><tspan x="1641.52" font-size="21.34" textLength="11.99" lengthAdjust="spacingAndGlyphs">u</tspan><tspan x="1654.07" font-size="23.2" textLength="6.01" lengthAdjust="spacingAndGlyphs">.</tspan><tspan x="1660.43" font-size="23.2" textLength="6.01" lengthAdjust="spacingAndGlyphs">.</tspan><tspan x="1666.77" font-size="23.2" textLength="6.01" lengthAdjust="spacingAndGlyphs">.</tspan><tspan x="1673.84" font-size="20.7" textLength="14.6" lengthAdjust="spacingAndGlyphs">w</tspan><tspan x="1689.84" font-size="20.35" textLength="11.8" lengthAdjust="spacingAndGlyphs">P</tspan><tspan x="1701.93" font-size="20.35" textLength="11.56" lengthAdjust="spacingAndGlyphs">E</tspan><tspan x="1714.34" font-size="20.97" textLength="12.08" lengthAdjust="spacingAndGlyphs">h</tspan></text><text id="n43"><tspan x="1415.5" y="0" font-size="20.35" textLength="13.81" lengthAdjust="spacingAndGlyphs">R</tspan><tspan x="1429" font-size="20.96" textLength="10" lengthAdjust="spacingAndGlyphs">a</tspan><tspan x="1441.33" font-size="20.7" textLength="10.79" lengthAdjust="spacingAndGlyphs">v</tspan><tspan x="1452.84" font-size="20.96" textLength="12.01" lengthAdjust="spacingAndGlyphs">e</tspan><tspan x="1465.34" font-size="20.82" textLength="11.99" lengthAdjust="spacingAndGlyphs">n</tspan><tspan x="1477.99" font-size="19.57" textLength="6.01" lengthAdjust="spacingAndGlyphs">:</tspan><tspan x="1491.06" font-size="20.35" textLength="16.61" lengthAdjust="spacingAndGlyphs">M</tspan><tspan x="1508.53" font-size="20.35" textLength="11.56" lengthAdjust="spacingAndGlyphs">E</tspan><tspan x="1520.69" font-size="20.35" textLength="13.54" lengthAdjust="spacingAndGlyphs">V</tspan><tspan x="1541.03" font-size="20.35" textLength="12.96" lengthAdjust="spacingAndGlyphs">B</tspan><tspan x="1554.59" font-size="20.96" textLength="11.82" lengthAdjust="spacingAndGlyphs">o</tspan><tspan x="1566.74" y="-0.2" font-size="21.46" textLength="7.43" lengthAdjust="spacingAndGlyphs">t</tspan><tspan x="1581.21" y="0" font-size="20.35" textLength="13.81" lengthAdjust="spacingAndGlyphs">R</tspan><tspan x="1594.7" font-size="20.96" textLength="10" lengthAdjust="spacingAndGlyphs">a</tspan><tspan x="1606.6" font-size="20.35" textLength="13.54" lengthAdjust="spacingAndGlyphs">V</tspan><tspan x="1618.84" font-size="20.96" textLength="12.01" lengthAdjust="spacingAndGlyphs">e</tspan><tspan x="1631.35" font-size="20.82" textLength="11.99" lengthAdjust="spacingAndGlyphs">n</tspan><tspan x="1643.97" font-size="20.7" textLength="11.09" lengthAdjust="spacingAndGlyphs">x</tspan><tspan x="1655.63" font-size="23.2" textLength="6.01" lengthAdjust="spacingAndGlyphs">.</tspan><tspan x="1661.99" font-size="23.2" textLength="6.01" lengthAdjust="spacingAndGlyphs">.</tspan><tspan x="1668.35" font-size="23.2" textLength="6.01" lengthAdjust="spacingAndGlyphs">.</tspan><tspan x="1674.84" font-size="20.52" textLength="12.14" lengthAdjust="spacingAndGlyphs">6</tspan><tspan x="1687.47" font-size="20.35" textLength="13.27" lengthAdjust="spacingAndGlyphs">Z</tspan><tspan x="1701.3" font-size="20.7" textLength="11.09" lengthAdjust="spacingAndGlyphs">x</tspan><tspan x="1713.21" font-size="20.35" textLength="13.81" lengthAdjust="spacingAndGlyphs">R</tspan></text><text id="n44"><tspan x="1557.1" y="0" font-size="20.35" textLength="14.37" lengthAdjust="spacingAndGlyphs">H</tspan><tspan x="1571.98" y="-1.1" font-size="19.64" textLength="15.38" lengthAdjust="spacingAndGlyphs">Q</tspan><tspan x="1587.96" y="0" font-size="21.08" textLength="12.1" lengthAdjust="spacingAndGlyphs">b</tspan><tspan x="1600.56" font-size="20.7" textLength="11.09" lengthAdjust="spacingAndGlyphs">x</tspan><tspan x="1612.22" font-size="20.52" textLength="15.17" lengthAdjust="spacingAndGlyphs">G</tspan><tspan x="1627.95" font-size="20.82" textLength="11.99" lengthAdjust="spacingAndGlyphs">n</tspan><tspan x="1640.41" font-size="23.2" textLength="6.01" lengthAdjust="spacingAndGlyphs">.</tspan><tspan x="1646.77" font-size="23.2" textLength="6.01" lengthAdjust="spacingAndGlyphs">.</tspan><tspan x="1653.12" font-size="23.2" textLength="6.01" lengthAdjust="spacingAndGlyphs">.</tspan><tspan x="1659.62" font-size="20.82" textLength="18.98" lengthAdjust="spacingAndGlyphs">m</tspan><tspan x="1679.1" font-size="20.82" textLength="18.98" lengthAdjust="spacingAndGlyphs">m</tspan><tspan x="1698.58" font-size="21.34" textLength="11.99" lengthAdjust="spacingAndGlyphs">u</tspan><tspan x="1711.14" y="-1.1" font-size="19.64" textLength="15.38" lengthAdjust="spacingAndGlyphs">Q</tspan></text><text id="n45"><tspan x="1579.14" y="0" font-size="20.35" textLength="14.37" lengthAdjust="spacingAndGlyphs">H</tspan><tspan x="1594.26" font-size="21.08" textLength="12.1" lengthAdjust="spacingAndGlyphs">b</tspan><tspan x="1607.09" font-size="20.52" textLength="10.74" lengthAdjust="spacingAndGlyphs">y</tspan><tspan x="1619.13" font-size="20.52" textLength="11.26" lengthAdjust="spacingAndGlyphs">3</tspan><tspan x="1631.65" font-size="20.35" textLength="10.47" lengthAdjust="spacingAndGlyphs">F</tspan><tspan x="1642.8" font-size="21.08" textLength="12.09" lengthAdjust="spacingAndGlyphs">d</tspan><tspan x="1655.46" font-size="23.2" textLength="6.01" lengthAdjust="spacingAndGlyphs">.</tspan><tspan x="1661.82" font-size="23.2" textLength="6.01" lengthAdjust="spacingAndGlyphs">.</tspan><tspan x="1668.18" font-size="23.2" textLength="6.01" lengthAdjust="spacingAndGlyphs">.</tspan><tspan x="1674.71" font-size="20.35" textLength="14.37" lengthAdjust="spacingAndGlyphs">H</tspan><tspan x="1689.84" font-size="20.96" textLength="10" lengthAdjust="spacingAndGlyphs">a</tspan><tspan x="1701.91" font-size="20.52" textLength="12.11" lengthAdjust="spacingAndGlyphs">9</tspan><tspan x="1714.58" font-size="20.96" textLength="12.01" lengthAdjust="spacingAndGlyphs">e</tspan></text><text id="n46"><tspan x="1590.68" y="0" font-size="20.35" textLength="11.44" lengthAdjust="spacingAndGlyphs">L</tspan><tspan x="1601.86" font-size="20.97" textLength="11.18" lengthAdjust="spacingAndGlyphs">k</tspan><tspan x="1613.4" font-size="20.35" textLength="11.44" lengthAdjust="spacingAndGlyphs">L</tspan><tspan x="1624.5" font-size="20.52" textLength="12.11" lengthAdjust="spacingAndGlyphs">9</tspan><tspan x="1637.57" font-size="20.35" textLength="11.47" lengthAdjust="spacingAndGlyphs">7</tspan><tspan x="1649.93" font-size="20.96" textLength="11.82" lengthAdjust="spacingAndGlyphs">o</tspan><tspan x="1661.76" font-size="23.2" textLength="6.01" lengthAdjust="spacingAndGlyphs">.</tspan><tspan x="1668.12" font-size="23.2" textLength="6.01" lengthAdjust="spacingAndGlyphs">.</tspan><tspan x="1674.48" font-size="23.2" textLength="6.01" lengthAdjust="spacingAndGlyphs">.</tspan><tspan x="1681" font-size="20.35" textLength="14.37" lengthAdjust="spacingAndGlyphs">H</tspan><tspan x="1695.85" y="-0.2" font-size="21.46" textLength="7.43" lengthAdjust="spacingAndGlyphs">t</tspan><tspan x="1703.79" y="0" font-size="20.52" textLength="12.11" lengthAdjust="spacingAndGlyphs">9</tspan><tspan x="1716.83" font-size="21.02" textLength="9.59" lengthAdjust="spacingAndGlyphs">s</tspan></text><text id="n47"><tspan x="1438.75" y="0" font-size="20.35" textLength="14.94" lengthAdjust="spacingAndGlyphs">D</tspan><tspan x="1454.38" font-size="20.52" textLength="11.89" lengthAdjust="spacingAndGlyphs">S</tspan><tspan x="1466.92" font-size="20.35" textLength="14.27" lengthAdjust="spacingAndGlyphs">N</tspan><tspan x="1482.28" font-size="20.52" textLength="11.26" lengthAdjust="spacingAndGlyphs">3</tspan><tspan x="1494.46" y="-0.1" font-size="20.76" textLength="5.01" lengthAdjust="spacingAndGlyphs">j</tspan><tspan x="1500.48" y="0" font-size="20.35" textLength="11.2" lengthAdjust="spacingAndGlyphs">1</tspan><tspan x="1512.71" font-size="23.2" textLength="6.01" lengthAdjust="spacingAndGlyphs">.</tspan><tspan x="1519.07" font-size="23.2" textLength="6.01" lengthAdjust="spacingAndGlyphs">.</tspan><tspan x="1525.41" font-size="23.2" textLength="6.01" lengthAdjust="spacingAndGlyphs">.</tspan><tspan x="1531.14" font-size="20.35" textLength="13.16" lengthAdjust="spacingAndGlyphs">Y</tspan><tspan x="1544.12" font-size="20.52" textLength="12.14" lengthAdjust="spacingAndGlyphs">6</tspan><tspan x="1556.89" font-size="20.7" textLength="11.09" lengthAdjust="spacingAndGlyphs">x</tspan><tspan x="1568.58" y="-0.1" font-size="20.64" textLength="12.09" lengthAdjust="spacingAndGlyphs">g</tspan></text><text id="n48"><tspan x="1580.06" y="0" font-size="20.35" textLength="11.56" lengthAdjust="spacingAndGlyphs">E</tspan><tspan x="1592.44" font-size="20.82" textLength="18.98" lengthAdjust="spacingAndGlyphs">m</tspan><tspan x="1612.14" font-size="20.35" textLength="11.8" lengthAdjust="spacingAndGlyphs">P</tspan><tspan x="1623.88" y="-0.1" font-size="20.76" textLength="5.01" lengthAdjust="spacingAndGlyphs">j</tspan><tspan x="1629.56" y="0" font-size="20.97" textLength="11.18" lengthAdjust="spacingAndGlyphs">k</tspan><tspan x="1641.02" y="-0.1" font-size="20.64" textLength="12.09" lengthAdjust="spacingAndGlyphs">g</tspan><tspan x="1653.68" y="0" font-size="23.2" textLength="6.01" lengthAdjust="spacingAndGlyphs">.</tspan><tspan x="1660.04" font-size="23.2" textLength="6.01" lengthAdjust="spacingAndGlyphs">.</tspan><tspan x="1666.4" font-size="23.2" textLength="6.01" lengthAdjust="spacingAndGlyphs">.</tspan><tspan x="1673.04" font-size="20.41" textLength="11.3" lengthAdjust="spacingAndGlyphs">2</tspan><tspan x="1685.52" font-size="20.35" textLength="13.27" lengthAdjust="spacingAndGlyphs">Z</tspan><tspan x="1699.51" font-size="20.35" textLength="11.73" lengthAdjust="spacingAndGlyphs">4</tspan><tspan x="1712.09" font-size="20.35" textLength="14.27" lengthAdjust="spacingAndGlyphs">N</tspan></text><text id="n49"><tspan x="1572.13" y="0" font-size="20.52" textLength="11.89" lengthAdjust="spacingAndGlyphs">S</tspan><tspan x="1584.64" font-size="20.35" textLength="14.37" lengthAdjust="spacingAndGlyphs">H</tspan><tspan x="1599.48" font-size="20.35" textLength="13.44" lengthAdjust="spacingAndGlyphs">A</tspan><tspan x="1613.43" font-size="20.35" textLength="13.81" lengthAdjust="spacingAndGlyphs">R</tspan><tspan x="1627.25" font-size="20.35" textLength="13.45" lengthAdjust="spacingAndGlyphs">K</tspan><tspan x="1640.44" font-size="20.35" textLength="13.81" lengthAdjust="spacingAndGlyphs">R</tspan><tspan x="1653.4" font-size="23.2" textLength="6.01" lengthAdjust="spacingAndGlyphs">.</tspan><tspan x="1659.76" font-size="23.2" textLength="6.01" lengthAdjust="spacingAndGlyphs">.</tspan><tspan x="1666.1" font-size="23.2" textLength="6.01" lengthAdjust="spacingAndGlyphs">.</tspan><tspan x="1672.49" y="-0.1" font-size="20.64" textLength="12.09" lengthAdjust="spacingAndGlyphs">g</tspan><tspan x="1685.51" y="0" font-size="20.52" textLength="11.89" lengthAdjust="spacingAndGlyphs">S</tspan><tspan x="1698.02" font-size="20.35" textLength="14.37" lengthAdjust="spacingAndGlyphs">H</tspan><tspan x="1712.91" font-size="20.52" textLength="13.41" lengthAdjust="spacingAndGlyphs">C</tspan></text><text id="n50"><tspan x="1577.85" y="0" font-size="20.52" textLength="12.11" lengthAdjust="spacingAndGlyphs">9</tspan><tspan x="1590.52" font-size="20.6" textLength="12.08" lengthAdjust="spacingAndGlyphs">q</tspan><tspan x="1603.4" font-size="20.82" textLength="11.99" lengthAdjust="spacingAndGlyphs">n</tspan><tspan x="1616.46" font-size="20.52" textLength="11.26" lengthAdjust="spacingAndGlyphs">3</tspan><tspan x="1629" font-size="20.35" textLength="18.61" lengthAdjust="spacingAndGlyphs">W</tspan><tspan x="1648.49" font-size="20.52" textLength="12.14" lengthAdjust="spacingAndGlyphs">6</tspan><tspan x="1661.08" font-size="23.2" textLength="6.01" lengthAdjust="spacingAndGlyphs">.</tspan><tspan x="1667.44" font-size="23.2" textLength="6.01" lengthAdjust="spacingAndGlyphs">.</tspan><tspan x="1673.8" font-size="23.2" textLength="6.01" lengthAdjust="spacingAndGlyphs">.</tspan><tspan x="1680.19" y="-1.1" font-size="19.64" textLength="15.38" lengthAdjust="spacingAndGlyphs">Q</tspan><tspan x="1696.25" y="0" font-size="20.97" textLength="4.54" lengthAdjust="spacingAndGlyphs">i</tspan><tspan x="1701.54" font-size="20.52" textLength="12.11" lengthAdjust="spacingAndGlyphs">9</tspan><tspan x="1714.4" font-size="20.82" textLength="11.99" lengthAdjust="spacingAndGlyphs">n</tspan></text><text id="n51"><tspan x="1588.16" y="0" font-size="20.35" textLength="11.47" lengthAdjust="spacingAndGlyphs">7</tspan><tspan x="1600.49" font-size="21.08" textLength="12.09" lengthAdjust="spacingAndGlyphs">d</tspan><tspan x="1613.13" font-size="20.52" textLength="15.17" lengthAdjust="spacingAndGlyphs">G</tspan><tspan x="1628.6" font-size="20.82" textLength="8.53" lengthAdjust="spacingAndGlyphs">r</tspan><tspan x="1636.55" font-size="21.08" textLength="12.09" lengthAdjust="spacingAndGlyphs">d</tspan><tspan x="1647.57" y="3.7" font-size="26.63" textLength="6.66" lengthAdjust="spacingAndGlyphs">J</tspan><tspan x="1655.12" y="0" font-size="23.2" textLength="6.01" lengthAdjust="spacingAndGlyphs">.</tspan><tspan x="1661.48" font-size="23.2" textLength="6.01" lengthAdjust="spacingAndGlyphs">.</tspan><tspan x="1667.83" font-size="23.2" textLength="6.01" lengthAdjust="spacingAndGlyphs">.</tspan><tspan x="1674.33" font-size="21.34" textLength="11.99" lengthAdjust="spacingAndGlyphs">u</tspan><tspan x="1687" font-size="21.34" textLength="11.99" lengthAdjust="spacingAndGlyphs">u</tspan><tspan x="1699.6" font-size="20.45" textLength="14.19" lengthAdjust="spacingAndGlyphs">U</tspan><tspan x="1714.31" font-size="21.34" textLength="11.99" lengthAdjust="spacingAndGlyphs">u</tspan></text><text id="n52"><tspan x="1576.47" y="0" font-size="20.7" textLength="11.09" lengthAdjust="spacingAndGlyphs">x</tspan><tspan x="1588.19" font-size="20.45" textLength="14.19" lengthAdjust="spacingAndGlyphs">U</tspan><tspan x="1603.48" font-size="20.7" textLength="14.6" lengthAdjust="spacingAndGlyphs">w</tspan><tspan x="1619.19" font-size="20.45" textLength="14.19" lengthAdjust="spacingAndGlyphs">U</tspan><tspan x="1633.94" font-size="20.7" textLength="11.09" lengthAdjust="spacingAndGlyphs">x</tspan><tspan x="1645.76" font-size="20.7" textLength="11.09" lengthAdjust="spacingAndGlyphs">x</tspan><tspan x="1657.44" font-size="23.2" textLength="6.01" lengthAdjust="spacingAndGlyphs">.</tspan><tspan x="1663.8" font-size="23.2" textLength="6.01" lengthAdjust="spacingAndGlyphs">.</tspan><tspan x="1670.15" font-size="23.2" textLength="6.01" lengthAdjust="spacingAndGlyphs">.</tspan><tspan x="1677.09" font-size="20.45" textLength="11.07" lengthAdjust="spacingAndGlyphs">5</tspan><tspan x="1689.46" font-size="20.82" textLength="11.99" lengthAdjust="spacingAndGlyphs">n</tspan><tspan x="1701.94" font-size="20.6" textLength="12.08" lengthAdjust="spacingAndGlyphs">q</tspan><tspan x="1714.87" font-size="20.96" textLength="10" lengthAdjust="spacingAndGlyphs">a</tspan></text><text id="n53"><tspan x="1447.55" y="0" font-size="20.52" textLength="15.17" lengthAdjust="spacingAndGlyphs">G</tspan><tspan x="1463.05" font-size="20.52" textLength="15.17" lengthAdjust="spacingAndGlyphs">G</tspan><tspan x="1478.38" font-size="20.7" textLength="10.72" lengthAdjust="spacingAndGlyphs">z</tspan><tspan x="1489.02" y="-0.2" font-size="21.46" textLength="7.43" lengthAdjust="spacingAndGlyphs">t</tspan><tspan x="1496.92" y="-1.1" font-size="19.64" textLength="15.38" lengthAdjust="spacingAndGlyphs">Q</tspan><tspan x="1512.68" y="0" font-size="20.6" textLength="12.08" lengthAdjust="spacingAndGlyphs">q</tspan><tspan x="1525.33" font-size="23.2" textLength="6.01" lengthAdjust="spacingAndGlyphs">.</tspan><tspan x="1531.69" font-size="23.2" textLength="6.01" lengthAdjust="spacingAndGlyphs">.</tspan><tspan x="1538.05" font-size="23.2" textLength="6.01" lengthAdjust="spacingAndGlyphs">.</tspan><tspan x="1544.44" y="-0.1" font-size="20.76" textLength="5.01" lengthAdjust="spacingAndGlyphs">j</tspan><tspan x="1549.99" font-size="20.64" textLength="12.09" lengthAdjust="spacingAndGlyphs">g</tspan><tspan x="1563.01" y="0" font-size="20.52" textLength="11.89" lengthAdjust="spacingAndGlyphs">S</tspan><tspan x="1573.7" y="3.7" font-size="26.63" textLength="6.66" lengthAdjust="spacingAndGlyphs">J</tspan></text><text id="n54"><tspan x="1434.57" y="0" font-size="20.35" textLength="11.47" lengthAdjust="spacingAndGlyphs">7</tspan><tspan x="1447.22" font-size="20.97" textLength="4.54" lengthAdjust="spacingAndGlyphs">i</tspan><tspan x="1452.84" font-size="20.35" textLength="18.61" lengthAdjust="spacingAndGlyphs">W</tspan><tspan x="1472.42" font-size="20.82" textLength="11.99" lengthAdjust="spacingAndGlyphs">n</tspan><tspan x="1485.09" font-size="20.35" textLength="12.96" lengthAdjust="spacingAndGlyphs">B</tspan><tspan x="1498.83" font-size="20.35" textLength="13.81" lengthAdjust="spacingAndGlyphs">R</tspan><tspan x="1511.77" font-size="23.2" textLength="6.01" lengthAdjust="spacingAndGlyphs">.</tspan><tspan x="1518.13" font-size="23.2" textLength="6.01" lengthAdjust="spacingAndGlyphs">.</tspan><tspan x="1524.49" font-size="23.2" textLength="6.01" lengthAdjust="spacingAndGlyphs">.</tspan><tspan x="1530.21" font-size="20.35" textLength="13.16" lengthAdjust="spacingAndGlyphs">Y</tspan><tspan x="1543.28" font-size="20.35" textLength="12.96" lengthAdjust="spacingAndGlyphs">B</tspan><tspan x="1556.95" font-size="20.7" textLength="11.09" lengthAdjust="spacingAndGlyphs">x</tspan><tspan x="1569.01" font-size="20.35" textLength="11.56" lengthAdjust="spacingAndGlyphs">E</tspan></text><text id="n55"><tspan x="1580.18" y="0" font-size="20.45" textLength="11.07" lengthAdjust="spacingAndGlyphs">5</tspan><tspan x="1592.54" font-size="20.82" textLength="11.99" lengthAdjust="spacingAndGlyphs">n</tspan><tspan x="1605.04" font-size="20.35" textLength="13.27" lengthAdjust="spacingAndGlyphs">Z</tspan><tspan x="1618.6" font-size="20.35" textLength="13.54" lengthAdjust="spacingAndGlyphs">V</tspan><tspan x="1631.05" font-size="20.35" textLength="13.44" lengthAdjust="spacingAndGlyphs">A</tspan><tspan x="1644.91" font-size="21.34" textLength="11.99" lengthAdjust="spacingAndGlyphs">u</tspan><tspan x="1657.46" font-size="23.2" textLength="6.01" lengthAdjust="spacingAndGlyphs">.</tspan><tspan x="1663.82" font-size="23.2" textLength="6.01" lengthAdjust="spacingAndGlyphs">.</tspan><tspan x="1670.16" font-size="23.2" textLength="6.01" lengthAdjust="spacingAndGlyphs">.</tspan><tspan x="1676.94" font-size="20.35" textLength="11.47" lengthAdjust="spacingAndGlyphs">7</tspan><tspan x="1688.62" font-size="20.35" textLength="13.16" lengthAdjust="spacingAndGlyphs">Y</tspan><tspan x="1701.7" font-size="20.82" textLength="11.99" lengthAdjust="spacingAndGlyphs">n</tspan><tspan x="1714.27" font-size="20.52" textLength="12.14" lengthAdjust="spacingAndGlyphs">6</tspan></text><text id="n56"><tspan x="1584.22" y="0" font-size="20.35" textLength="14.37" lengthAdjust="spacingAndGlyphs">H</tspan><tspan x="1599.23" font-size="20.35" textLength="13.45" lengthAdjust="spacingAndGlyphs">K</tspan><tspan x="1612.58" font-size="21.02" textLength="9.59" lengthAdjust="spacingAndGlyphs">s</tspan><tspan x="1622.74" font-size="20.52" textLength="12.14" lengthAdjust="spacingAndGlyphs">6</tspan><tspan x="1635.41" font-size="20.45" textLength="14.19" lengthAdjust="spacingAndGlyphs">U</tspan><tspan x="1649.94" font-size="20.82" textLength="8.53" lengthAdjust="spacingAndGlyphs">r</tspan><tspan x="1656.37" font-size="23.2" textLength="6.01" lengthAdjust="spacingAndGlyphs">.</tspan><tspan x="1662.73" font-size="23.2" textLength="6.01" lengthAdjust="spacingAndGlyphs">.</tspan><tspan x="1669.08" font-size="23.2" textLength="6.01" lengthAdjust="spacingAndGlyphs">.</tspan><tspan x="1675.72" font-size="20.41" textLength="11.3" lengthAdjust="spacingAndGlyphs">2</tspan><tspan x="1688.14" font-size="20.52" textLength="15.17" lengthAdjust="spacingAndGlyphs">G</tspan><tspan x="1703.49" font-size="20.7" textLength="10.72" lengthAdjust="spacingAndGlyphs">z</tspan><tspan x="1714.19" font-size="20.6" textLength="12.08" lengthAdjust="spacingAndGlyphs">q</tspan></text><text id="n57"><tspan x="1576.18" y="0" font-size="20.41" textLength="11.3" lengthAdjust="spacingAndGlyphs">2</tspan><tspan x="1588.64" font-size="21.08" textLength="12.09" lengthAdjust="spacingAndGlyphs">d</tspan><tspan x="1601.53" font-size="20.35" textLength="13.81" lengthAdjust="spacingAndGlyphs">R</tspan><tspan x="1615.44" font-size="20.35" textLength="13.81" lengthAdjust="spacingAndGlyphs">R</tspan><tspan x="1629.18" font-size="20.52" textLength="12.11" lengthAdjust="spacingAndGlyphs">9</tspan><tspan x="1641.85" font-size="20.52" textLength="13.41" lengthAdjust="spacingAndGlyphs">C</tspan><tspan x="1655.79" font-size="23.2" textLength="6.01" lengthAdjust="spacingAndGlyphs">.</tspan><tspan x="1662.15" font-size="23.2" textLength="6.01" lengthAdjust="spacingAndGlyphs">.</tspan><tspan x="1668.51" font-size="23.2" textLength="6.01" lengthAdjust="spacingAndGlyphs">.</tspan><tspan x="1675.05" font-size="20.35" textLength="14.27" lengthAdjust="spacingAndGlyphs">N</tspan><tspan x="1689.65" font-size="20.7" textLength="10.72" lengthAdjust="spacingAndGlyphs">z</tspan><tspan x="1700.47" font-size="20.97" textLength="11.18" lengthAdjust="spacingAndGlyphs">k</tspan><tspan x="1712.09" font-size="20.35" textLength="14.27" lengthAdjust="spacingAndGlyphs">N</tspan></text><text id="n58"><tspan x="1568.54" y="0" font-size="20.35" textLength="11.73" lengthAdjust="spacingAndGlyphs">4</tspan><tspan x="1580.95" font-size="20.96" textLength="12.01" lengthAdjust="spacingAndGlyphs">e</tspan><tspan x="1593.51" font-size="20.41" textLength="11.3" lengthAdjust="spacingAndGlyphs">2</tspan><tspan x="1605.91" font-size="20.35" textLength="13.44" lengthAdjust="spacingAndGlyphs">A</tspan><tspan x="1618.95" font-size="20.35" textLength="18.61" lengthAdjust="spacingAndGlyphs">W</tspan><tspan x="1638.22" font-size="20.35" textLength="13.54" lengthAdjust="spacingAndGlyphs">V</tspan><tspan x="1649.43" font-size="23.2" textLength="6.01" lengthAdjust="spacingAndGlyphs">.</tspan><tspan x="1655.79" font-size="23.2" textLength="6.01" lengthAdjust="spacingAndGlyphs">.</tspan><tspan x="1662.13" font-size="23.2" textLength="6.01" lengthAdjust="spacingAndGlyphs">.</tspan><tspan x="1668.63" font-size="20.82" textLength="18.98" lengthAdjust="spacingAndGlyphs">m</tspan><tspan x="1688.09" font-size="20.35" textLength="11.44" lengthAdjust="spacingAndGlyphs">L</tspan><tspan x="1699.28" font-size="20.35" textLength="14.37" lengthAdjust="spacingAndGlyphs">H</tspan><tspan x="1714.41" font-size="21.08" textLength="12.1" lengthAdjust="spacingAndGlyphs">b</tspan></text><text id="n59"><tspan x="1561.73" y="0" font-size="20.52" textLength="13.41" lengthAdjust="spacingAndGlyphs">C</tspan><tspan x="1575.8" font-size="20.82" textLength="18.98" lengthAdjust="spacingAndGlyphs">m</tspan><tspan x="1595.19" font-size="20.35" textLength="13.27" lengthAdjust="spacingAndGlyphs">Z</tspan><tspan x="1609.1" font-size="20.62" textLength="12.1" lengthAdjust="spacingAndGlyphs">p</tspan><tspan x="1621.72" font-size="20.35" textLength="16.61" lengthAdjust="spacingAndGlyphs">M</tspan><tspan x="1638.97" font-size="20.35" textLength="14.37" lengthAdjust="spacingAndGlyphs">H</tspan><tspan x="1653.49" font-size="23.2" textLength="6.01" lengthAdjust="spacingAndGlyphs">.</tspan><tspan x="1659.85" font-size="23.2" textLength="6.01" lengthAdjust="spacingAndGlyphs">.</tspan><tspan x="1666.21" font-size="23.2" textLength="6.01" lengthAdjust="spacingAndGlyphs">.</tspan><tspan x="1672.85" font-size="20.41" textLength="11.3" lengthAdjust="spacingAndGlyphs">2</tspan><tspan x="1685.71" font-size="20.35" textLength="11.47" lengthAdjust="spacingAndGlyphs">7</tspan><tspan x="1698.03" y="-1.1" font-size="19.64" textLength="15.38" lengthAdjust="spacingAndGlyphs">Q</tspan><tspan x="1713.9" y="0" font-size="20.35" textLength="13.45" lengthAdjust="spacingAndGlyphs">K</tspan></text><text id="n60"><tspan x="1586.12" y="0" font-size="20.52" textLength="11.85" lengthAdjust="spacingAndGlyphs">8</tspan><tspan x="1598.62" font-size="20.35" textLength="13.27" lengthAdjust="spacingAndGlyphs">Z</tspan><tspan x="1610.62" y="3.7" font-size="26.63" textLength="6.66" lengthAdjust="spacingAndGlyphs">J</tspan><tspan x="1618.31" y="0" font-size="20.97" textLength="12.08" lengthAdjust="spacingAndGlyphs">h</tspan><tspan x="1631.06" font-size="20.35" textLength="12.96" lengthAdjust="spacingAndGlyphs">B</tspan><tspan x="1644.78" font-size="20.35" textLength="12.96" lengthAdjust="spacingAndGlyphs">B</tspan><tspan x="1658.29" font-size="23.2" textLength="6.01" lengthAdjust="spacingAndGlyphs">.</tspan><tspan x="1664.65" font-size="23.2" textLength="6.01" lengthAdjust="spacingAndGlyphs">.</tspan><tspan x="1671.01" font-size="23.2" textLength="6.01" lengthAdjust="spacingAndGlyphs">.</tspan><tspan x="1677.38" y="-0.1" font-size="20.64" textLength="12.09" lengthAdjust="spacingAndGlyphs">g</tspan><tspan x="1690.47" y="0" font-size="20.35" textLength="18.61" lengthAdjust="spacingAndGlyphs">W</tspan><tspan x="1708.69" font-size="20.96" textLength="12.01" lengthAdjust="spacingAndGlyphs">e</tspan><tspan x="1719.31" y="3.7" font-size="26.63" textLength="6.66" lengthAdjust="spacingAndGlyphs">J</tspan></text><text id="n61"><tspan x="1577.24" y="0" font-size="20.35" textLength="14.37" lengthAdjust="spacingAndGlyphs">H</tspan><tspan x="1592.46" font-size="20.7" textLength="10.79" lengthAdjust="spacingAndGlyphs">v</tspan><tspan x="1604.34" font-size="20.35" textLength="10.47" lengthAdjust="spacingAndGlyphs">F</tspan><tspan x="1615.47" font-size="21.08" textLength="12.09" lengthAdjust="spacingAndGlyphs">d</tspan><tspan x="1628.23" font-size="20.35" textLength="14.94" lengthAdjust="spacingAndGlyphs">D</tspan><tspan x="1643.95" font-size="20.35" textLength="18.61" lengthAdjust="spacingAndGlyphs">W</tspan><tspan x="1661.02" font-size="23.2" textLength="6.01" lengthAdjust="spacingAndGlyphs">.</tspan><tspan x="1667.38" font-size="23.2" textLength="6.01" lengthAdjust="spacingAndGlyphs">.</tspan><tspan x="1673.73" font-size="23.2" textLength="6.01" lengthAdjust="spacingAndGlyphs">.</tspan><tspan x="1680.11" y="-0.1" font-size="20.76" textLength="5.01" lengthAdjust="spacingAndGlyphs">j</tspan><tspan x="1685.68" y="0" font-size="20.6" textLength="12.08" lengthAdjust="spacingAndGlyphs">q</tspan><tspan x="1698.44" font-size="20.35" textLength="14.94" lengthAdjust="spacingAndGlyphs">D</tspan><tspan x="1713.89" font-size="20.35" textLength="13.45" lengthAdjust="spacingAndGlyphs">K</tspan></text><text id="n62"><tspan x="1599.7" y="0" font-size="20.35" textLength="14.94" lengthAdjust="spacingAndGlyphs">D</tspan><tspan x="1614.94" font-size="20.82" textLength="8.53" lengthAdjust="spacingAndGlyphs">r</tspan><tspan x="1623.56" font-size="20.97" textLength="4.54" lengthAdjust="spacingAndGlyphs">i</tspan><tspan x="1628.88" font-size="20.35" textLength="11.44" lengthAdjust="spacingAndGlyphs">L</tspan><tspan x="1640.41" font-size="20.35" textLength="11.2" lengthAdjust="spacingAndGlyphs">1</tspan><tspan x="1652.92" font-size="20.96" textLength="10" lengthAdjust="spacingAndGlyphs">a</tspan><tspan x="1664.9" font-size="23.2" textLength="6.01" lengthAdjust="spacingAndGlyphs">.</tspan><tspan x="1671.26" font-size="23.2" textLength="6.01" lengthAdjust="spacingAndGlyphs">.</tspan><tspan x="1677.62" font-size="23.2" textLength="6.01" lengthAdjust="spacingAndGlyphs">.</tspan><tspan x="1684" y="-0.1" font-size="20.76" textLength="5.01" lengthAdjust="spacingAndGlyphs">j</tspan><tspan x="1689.75" y="0" font-size="20.35" textLength="13.81" lengthAdjust="spacingAndGlyphs">R</tspan><tspan x="1702.72" font-size="20.52" textLength="10.74" lengthAdjust="spacingAndGlyphs">y</tspan><tspan x="1714.41" font-size="21.08" textLength="12.1" lengthAdjust="spacingAndGlyphs">b</tspan></text><text id="n63"><tspan x="1574.47" y="0" font-size="20.52" textLength="15.17" lengthAdjust="spacingAndGlyphs">G</tspan><tspan x="1589.99" font-size="20.52" textLength="13.41" lengthAdjust="spacingAndGlyphs">C</tspan><tspan x="1604.3" font-size="20.7" textLength="10.79" lengthAdjust="spacingAndGlyphs">v</tspan><tspan x="1615.96" font-size="20.35" textLength="14.37" lengthAdjust="spacingAndGlyphs">H</tspan><tspan x="1630.97" font-size="20.97" textLength="12.08" lengthAdjust="spacingAndGlyphs">h</tspan><tspan x="1643.87" font-size="20.35" textLength="11.56" lengthAdjust="spacingAndGlyphs">E</tspan><tspan x="1656.13" font-size="23.2" textLength="6.01" lengthAdjust="spacingAndGlyphs">.</tspan><tspan x="1662.49" font-size="23.2" textLength="6.01" lengthAdjust="spacingAndGlyphs">.</tspan><tspan x="1668.85" font-size="23.2" textLength="6.01" lengthAdjust="spacingAndGlyphs">.</tspan><tspan x="1675.56" font-size="20.35" textLength="11.8" lengthAdjust="spacingAndGlyphs">P</tspan><tspan x="1687.1" font-size="20.7" textLength="10.72" lengthAdjust="spacingAndGlyphs">z</tspan><tspan x="1698.13" font-size="20.7" textLength="10.79" lengthAdjust="spacingAndGlyphs">v</tspan><tspan x="1709.76" font-size="20.35" textLength="16.61" lengthAdjust="spacingAndGlyphs">M</tspan></text><text id="n64"><tspan x="1577.74" y="-0.1" font-size="20.64" textLength="12.09" lengthAdjust="spacingAndGlyphs">g</tspan><tspan x="1590.37" y="-0.2" font-size="21.46" textLength="7.43" lengthAdjust="spacingAndGlyphs">t</tspan><tspan x="1598.52" y="0" font-size="20.96" textLength="10" lengthAdjust="spacingAndGlyphs">a</tspan><tspan x="1610.52" y="-0.1" font-size="20.64" textLength="12.09" lengthAdjust="spacingAndGlyphs">g</tspan><tspan x="1623.57" y="0" font-size="20.52" textLength="10.74" lengthAdjust="spacingAndGlyphs">y</tspan><tspan x="1635.4" font-size="20.35" textLength="11.56" lengthAdjust="spacingAndGlyphs">E</tspan><tspan x="1647.66" font-size="23.2" textLength="6.01" lengthAdjust="spacingAndGlyphs">.</tspan><tspan x="1654.02" font-size="23.2" textLength="6.01" lengthAdjust="spacingAndGlyphs">.</tspan><tspan x="1660.38" font-size="23.2" textLength="6.01" lengthAdjust="spacingAndGlyphs">.</tspan><tspan x="1667.16" font-size="20.35" textLength="18.61" lengthAdjust="spacingAndGlyphs">W</tspan><tspan x="1686.69" font-size="20.35" textLength="14.27" lengthAdjust="spacingAndGlyphs">N</tspan><tspan x="1701.5" font-size="21.08" textLength="12.09" lengthAdjust="spacingAndGlyphs">d</tspan><tspan x="1714.19" font-size="21.08" textLength="12.09" lengthAdjust="spacingAndGlyphs">d</tspan></text><text id="n65"><tspan x="1582.81" y="0" font-size="20.45" textLength="11.07" lengthAdjust="spacingAndGlyphs">5</tspan><tspan x="1594.99" font-size="20.96" textLength="11.82" lengthAdjust="spacingAndGlyphs">o</tspan><tspan x="1607.2" font-size="20.52" textLength="13.41" lengthAdjust="spacingAndGlyphs">C</tspan><tspan x="1621.38" font-size="20.35" textLength="13.81" lengthAdjust="spacingAndGlyphs">R</tspan><tspan x="1635.62" font-size="20.45" textLength="11.07" lengthAdjust="spacingAndGlyphs">5</tspan><tspan x="1647.92" font-size="20.97" textLength="12.08" lengthAdjust="spacingAndGlyphs">h</tspan><tspan x="1660.44" font-size="23.2" textLength="6.01" lengthAdjust="spacingAndGlyphs">.</tspan><tspan x="1666.8" font-size="23.2" textLength="6.01" lengthAdjust="spacingAndGlyphs">.</tspan><tspan x="1673.16" font-size="23.2" textLength="6.01" lengthAdjust="spacingAndGlyphs">.</tspan><tspan x="1679.58" font-size="20.52" textLength="12.11" lengthAdjust="spacingAndGlyphs">9</tspan><tspan x="1692.15" font-size="20.35" textLength="13.54" lengthAdjust="spacingAndGlyphs">V</tspan><tspan x="1705.86" font-size="20.82" textLength="8.53" lengthAdjust="spacingAndGlyphs">r</tspan><tspan x="1714.43" font-size="20.41" textLength="11.3" lengthAdjust="spacingAndGlyphs">2</tspan></text><text id="n66"><tspan x="1566.29" y="0" font-size="20.41" textLength="11.3" lengthAdjust="spacingAndGlyphs">2</tspan><tspan x="1578.75" y="-1.1" font-size="19.64" textLength="15.38" lengthAdjust="spacingAndGlyphs">Q</tspan><tspan x="1594.38" y="0" font-size="21" textLength="7.3" lengthAdjust="spacingAndGlyphs">f</tspan><tspan x="1601.71" font-size="20.35" textLength="12.96" lengthAdjust="spacingAndGlyphs">B</tspan><tspan x="1615.4" font-size="20.35" textLength="14.27" lengthAdjust="spacingAndGlyphs">N</tspan><tspan x="1630.34" font-size="20.35" textLength="13.45" lengthAdjust="spacingAndGlyphs">K</tspan><tspan x="1643.3" font-size="23.2" textLength="6.01" lengthAdjust="spacingAndGlyphs">.</tspan><tspan x="1649.66" font-size="23.2" textLength="6.01" lengthAdjust="spacingAndGlyphs">.</tspan><tspan x="1656.02" font-size="23.2" textLength="6.01" lengthAdjust="spacingAndGlyphs">.</tspan><tspan x="1662.8" font-size="20.35" textLength="18.61" lengthAdjust="spacingAndGlyphs">W</tspan><tspan x="1682.56" font-size="20.35" textLength="18.61" lengthAdjust="spacingAndGlyphs">W</tspan><tspan x="1702.21" font-size="20.41" textLength="11.3" lengthAdjust="spacingAndGlyphs">2</tspan><tspan x="1713.94" font-size="20.35" textLength="13.32" lengthAdjust="spacingAndGlyphs">T</tspan></text><text id="n67"><tspan x="1439.35" y="0" font-size="20.52" textLength="11.26" lengthAdjust="spacingAndGlyphs">3</tspan><tspan x="1451.59" font-size="20.35" textLength="11.44" lengthAdjust="spacingAndGlyphs">L</tspan><tspan x="1462.32" font-size="20.96" textLength="11.82" lengthAdjust="spacingAndGlyphs">o</tspan><tspan x="1474.46" font-size="20.35" textLength="13.44" lengthAdjust="spacingAndGlyphs">A</tspan><tspan x="1486" font-size="20.35" textLength="13.16" lengthAdjust="spacingAndGlyphs">Y</tspan><tspan x="1499.02" font-size="20.35" textLength="14.37" lengthAdjust="spacingAndGlyphs">H</tspan><tspan x="1513.54" font-size="23.2" textLength="6.01" lengthAdjust="spacingAndGlyphs">.</tspan><tspan x="1519.9" font-size="23.2" textLength="6.01" lengthAdjust="spacingAndGlyphs">.</tspan><tspan x="1526.26" font-size="23.2" textLength="6.01" lengthAdjust="spacingAndGlyphs">.</tspan><tspan x="1532.44" font-size="20.7" textLength="10.72" lengthAdjust="spacingAndGlyphs">z</tspan><tspan x="1543.13" font-size="21.08" textLength="12.09" lengthAdjust="spacingAndGlyphs">d</tspan><tspan x="1556.22" font-size="20.35" textLength="11.47" lengthAdjust="spacingAndGlyphs">7</tspan><tspan x="1568.65" font-size="20.52" textLength="12.14" lengthAdjust="spacingAndGlyphs">6</tspan></text><text id="n68"><tspan x="1583.45" y="0" font-size="20.45" textLength="11.07" lengthAdjust="spacingAndGlyphs">5</tspan><tspan x="1595.57" font-size="20.35" textLength="13.35" lengthAdjust="spacingAndGlyphs">X</tspan><tspan x="1609.68" font-size="21.02" textLength="9.59" lengthAdjust="spacingAndGlyphs">s</tspan><tspan x="1619.77" font-size="20.45" textLength="14.19" lengthAdjust="spacingAndGlyphs">U</tspan><tspan x="1634.38" font-size="20.6" textLength="12.08" lengthAdjust="spacingAndGlyphs">q</tspan><tspan x="1647.42" font-size="20.52" textLength="10.74" lengthAdjust="spacingAndGlyphs">y</tspan><tspan x="1656.02" font-size="23.2" textLength="6.01" lengthAdjust="spacingAndGlyphs">.</tspan><tspan x="1662.38" font-size="23.2" textLength="6.01" lengthAdjust="spacingAndGlyphs">.</tspan><tspan x="1668.74" font-size="23.2" textLength="6.01" lengthAdjust="spacingAndGlyphs">.</tspan><tspan x="1675.45" font-size="20.35" textLength="11.8" lengthAdjust="spacingAndGlyphs">P</tspan><tspan x="1687.41" font-size="20.62" textLength="12.1" lengthAdjust="spacingAndGlyphs">p</tspan><tspan x="1700" font-size="20.35" textLength="13.45" lengthAdjust="spacingAndGlyphs">K</tspan><tspan x="1713.19" font-size="20.35" textLength="13.81" lengthAdjust="spacingAndGlyphs">R</tspan></text><text id="n69"><tspan x="1596.6" y="0" font-size="20.52" textLength="11.26" lengthAdjust="spacingAndGlyphs">3</tspan><tspan x="1609.11" font-size="20.52" textLength="10.74" lengthAdjust="spacingAndGlyphs">y</tspan><tspan x="1620.83" font-size="20.41" textLength="11.3" lengthAdjust="spacingAndGlyphs">2</tspan><tspan x="1633.31" font-size="20.96" textLength="12.01" lengthAdjust="spacingAndGlyphs">e</tspan><tspan x="1644.87" font-size="20.35" textLength="13.32" lengthAdjust="spacingAndGlyphs">T</tspan><tspan x="1657.55" font-size="20.97" textLength="4.54" lengthAdjust="spacingAndGlyphs">i</tspan><tspan x="1662.74" font-size="23.2" textLength="6.01" lengthAdjust="spacingAndGlyphs">.</tspan><tspan x="1669.1" font-size="23.2" textLength="6.01" lengthAdjust="spacingAndGlyphs">.</tspan><tspan x="1675.46" font-size="23.2" textLength="6.01" lengthAdjust="spacingAndGlyphs">.</tspan><tspan x="1681.8" font-size="20.35" textLength="13.35" lengthAdjust="spacingAndGlyphs">X</tspan><tspan x="1693.87" y="3.7" font-size="26.63" textLength="6.66" lengthAdjust="spacingAndGlyphs">J</tspan><tspan x="1701.83" y="0" font-size="20.35" textLength="11.47" lengthAdjust="spacingAndGlyphs">7</tspan><tspan x="1714.65" font-size="20.35" textLength="11.2" lengthAdjust="spacingAndGlyphs">1</tspan></text><text id="n70"><tspan x="1576.94" y="0" font-size="20.35" textLength="11.47" lengthAdjust="spacingAndGlyphs">7</tspan><tspan x="1589.17" font-size="21" textLength="7.3" lengthAdjust="spacingAndGlyphs">f</tspan><tspan x="1596.64" font-size="20.35" textLength="11.8" lengthAdjust="spacingAndGlyphs">P</tspan><tspan x="1608.48" font-size="20.82" textLength="18.98" lengthAdjust="spacingAndGlyphs">m</tspan><tspan x="1628.24" font-size="20.35" textLength="11.47" lengthAdjust="spacingAndGlyphs">7</tspan><tspan x="1640.58" font-size="20.96" textLength="12.01" lengthAdjust="spacingAndGlyphs">e</tspan><tspan x="1652.85" font-size="23.2" textLength="6.01" lengthAdjust="spacingAndGlyphs">.</tspan><tspan x="1659.21" font-size="23.2" textLength="6.01" lengthAdjust="spacingAndGlyphs">.</tspan><tspan x="1665.57" font-size="23.2" textLength="6.01" lengthAdjust="spacingAndGlyphs">.</tspan><tspan x="1672.02" font-size="20.96" textLength="10.03" lengthAdjust="spacingAndGlyphs">c</tspan><tspan x="1682.95" y="-1.1" font-size="19.64" textLength="15.38" lengthAdjust="spacingAndGlyphs">Q</tspan><tspan x="1698.64" y="0" font-size="20.52" textLength="15.17" lengthAdjust="spacingAndGlyphs">G</tspan><tspan x="1714.19" font-size="20.6" textLength="12.08" lengthAdjust="spacingAndGlyphs">q</tspan></text><text id="n71"><tspan x="1591.07" y="0" font-size="20.52" textLength="13.41" lengthAdjust="spacingAndGlyphs">C</tspan><tspan x="1605.17" font-size="20.35" textLength="14.37" lengthAdjust="spacingAndGlyphs">H</tspan><tspan x="1620.08" y="-0.1" font-size="20.76" textLength="5.01" lengthAdjust="spacingAndGlyphs">j</tspan><tspan x="1625.82" y="0" font-size="20.82" textLength="11.99" lengthAdjust="spacingAndGlyphs">n</tspan><tspan x="1638.32" y="-0.1" font-size="20.64" textLength="12.09" lengthAdjust="spacingAndGlyphs">g</tspan><tspan x="1651" y="0" font-size="20.96" textLength="12.01" lengthAdjust="spacingAndGlyphs">e</tspan><tspan x="1663.29" font-size="23.2" textLength="6.01" lengthAdjust="spacingAndGlyphs">.</tspan><tspan x="1669.65" font-size="23.2" textLength="6.01" lengthAdjust="spacingAndGlyphs">.</tspan><tspan x="1675.99" font-size="23.2" textLength="6.01" lengthAdjust="spacingAndGlyphs">.</tspan><tspan x="1682.37" font-size="20.96" textLength="12.01" lengthAdjust="spacingAndGlyphs">e</tspan><tspan x="1694.81" font-size="20.97" textLength="12.08" lengthAdjust="spacingAndGlyphs">h</tspan><tspan x="1707.36" y="-0.1" font-size="20.76" textLength="5.01" lengthAdjust="spacingAndGlyphs">j</tspan><tspan x="1712.91" y="0" font-size="20.52" textLength="13.41" lengthAdjust="spacingAndGlyphs">C</tspan></text><text id="n72"><tspan x="1438.6" y="0" font-size="20.52" textLength="12.11" lengthAdjust="spacingAndGlyphs">9</tspan><tspan x="1451.46" font-size="20.82" textLength="11.99" lengthAdjust="spacingAndGlyphs">n</tspan><tspan x="1464.13" font-size="20.82" textLength="11.99" lengthAdjust="spacingAndGlyphs">n</tspan><tspan x="1476.71" font-size="20.35" textLength="11.44" lengthAdjust="spacingAndGlyphs">L</tspan><tspan x="1487.99" font-size="21.08" textLength="12.1" lengthAdjust="spacingAndGlyphs">b</tspan><tspan x="1500.48" font-size="20.96" textLength="11.82" lengthAdjust="spacingAndGlyphs">o</tspan><tspan x="1512.32" font-size="23.2" textLength="6.01" lengthAdjust="spacingAndGlyphs">.</tspan><tspan x="1518.68" font-size="23.2" textLength="6.01" lengthAdjust="spacingAndGlyphs">.</tspan><tspan x="1525.04" font-size="23.2" textLength="6.01" lengthAdjust="spacingAndGlyphs">.</tspan><tspan x="1531.76" font-size="20.35" textLength="11.56" lengthAdjust="spacingAndGlyphs">E</tspan><tspan x="1544.19" font-size="20.7" textLength="11.09" lengthAdjust="spacingAndGlyphs">x</tspan><tspan x="1556.09" font-size="20.82" textLength="11.99" lengthAdjust="spacingAndGlyphs">n</tspan><tspan x="1568.81" font-size="20.52" textLength="11.85" lengthAdjust="spacingAndGlyphs">8</tspan></text><text id="n73"><tspan x="1438.86" y="0" font-size="20.52" textLength="15.17" lengthAdjust="spacingAndGlyphs">G</tspan><tspan x="1454.73" font-size="20.35" textLength="11.8" lengthAdjust="spacingAndGlyphs">P</tspan><tspan x="1466.7" font-size="20.52" textLength="11.85" lengthAdjust="spacingAndGlyphs">8</tspan><tspan x="1479.51" font-size="20.52" textLength="11.89" lengthAdjust="spacingAndGlyphs">S</tspan><tspan x="1491.82" y="-0.2" font-size="21.46" textLength="7.43" lengthAdjust="spacingAndGlyphs">t</tspan><tspan x="1499.75" y="0" font-size="20.45" textLength="14.19" lengthAdjust="spacingAndGlyphs">U</tspan><tspan x="1514.33" font-size="23.2" textLength="6.01" lengthAdjust="spacingAndGlyphs">.</tspan><tspan x="1520.69" font-size="23.2" textLength="6.01" lengthAdjust="spacingAndGlyphs">.</tspan><tspan x="1527.05" font-size="23.2" textLength="6.01" lengthAdjust="spacingAndGlyphs">.</tspan><tspan x="1533.63" font-size="20.82" textLength="11.99" lengthAdjust="spacingAndGlyphs">n</tspan><tspan x="1546.19" font-size="20.35" textLength="14.94" lengthAdjust="spacingAndGlyphs">D</tspan><tspan x="1561.42" font-size="21" textLength="7.3" lengthAdjust="spacingAndGlyphs">f</tspan><tspan x="1569.02" font-size="20.35" textLength="11.2" lengthAdjust="spacingAndGlyphs">1</tspan></text><text id="n74"><tspan x="1577.87" y="0" font-size="20.35" textLength="11.73" lengthAdjust="spacingAndGlyphs">4</tspan><tspan x="1590.76" font-size="20.35" textLength="11.2" lengthAdjust="spacingAndGlyphs">1</tspan><tspan x="1603.11" font-size="21.34" textLength="11.99" lengthAdjust="spacingAndGlyphs">u</tspan><tspan x="1615.68" font-size="20.52" textLength="13.41" lengthAdjust="spacingAndGlyphs">C</tspan><tspan x="1629.98" font-size="20.7" textLength="10.79" lengthAdjust="spacingAndGlyphs">v</tspan><tspan x="1641.59" font-size="20.52" textLength="12.14" lengthAdjust="spacingAndGlyphs">6</tspan><tspan x="1654.18" font-size="23.2" textLength="6.01" lengthAdjust="spacingAndGlyphs">.</tspan><tspan x="1660.54" font-size="23.2" textLength="6.01" lengthAdjust="spacingAndGlyphs">.</tspan><tspan x="1666.9" font-size="23.2" textLength="6.01" lengthAdjust="spacingAndGlyphs">.</tspan><tspan x="1673.28" font-size="21.08" textLength="12.09" lengthAdjust="spacingAndGlyphs">d</tspan><tspan x="1686.53" font-size="20.45" textLength="11.07" lengthAdjust="spacingAndGlyphs">5</tspan><tspan x="1699.39" font-size="20.7" textLength="14.6" lengthAdjust="spacingAndGlyphs">w</tspan><tspan x="1715.2" font-size="20.7" textLength="11.09" lengthAdjust="spacingAndGlyphs">x</tspan></text><text id="n75"><tspan x="1580.12" y="0" font-size="20.52" textLength="11.85" lengthAdjust="spacingAndGlyphs">8</tspan><tspan x="1591.93" font-size="20.35" textLength="13.16" lengthAdjust="spacingAndGlyphs">Y</tspan><tspan x="1604.08" font-size="20.35" textLength="13.32" lengthAdjust="spacingAndGlyphs">T</tspan><tspan x="1617.38" font-size="20.35" textLength="11.56" lengthAdjust="spacingAndGlyphs">E</tspan><tspan x="1629.58" font-size="20.82" textLength="8.53" lengthAdjust="spacingAndGlyphs">r</tspan><tspan x="1638.21" font-size="20.52" textLength="11.89" lengthAdjust="spacingAndGlyphs">S</tspan><tspan x="1650.55" font-size="23.2" textLength="6.01" lengthAdjust="spacingAndGlyphs">.</tspan><tspan x="1656.91" font-size="23.2" textLength="6.01" lengthAdjust="spacingAndGlyphs">.</tspan><tspan x="1663.27" font-size="23.2" textLength="6.01" lengthAdjust="spacingAndGlyphs">.</tspan><tspan x="1669.78" font-size="20.97" textLength="12.08" lengthAdjust="spacingAndGlyphs">h</tspan><tspan x="1682.43" font-size="20.52" textLength="12.14" lengthAdjust="spacingAndGlyphs">6</tspan><tspan x="1695.44" font-size="20.35" textLength="18.61" lengthAdjust="spacingAndGlyphs">W</tspan><tspan x="1715.15" font-size="20.35" textLength="11.8" lengthAdjust="spacingAndGlyphs">P</tspan></text><text id="n76"><tspan x="1575.6" y="0" font-size="20.52" textLength="15.17" lengthAdjust="spacingAndGlyphs">G</tspan><tspan x="1591.12" font-size="20.52" textLength="13.41" lengthAdjust="spacingAndGlyphs">C</tspan><tspan x="1605.09" y="-1.1" font-size="19.64" textLength="15.38" lengthAdjust="spacingAndGlyphs">Q</tspan><tspan x="1621.2" y="0" font-size="20.35" textLength="11.56" lengthAdjust="spacingAndGlyphs">E</tspan><tspan x="1633.71" font-size="20.52" textLength="11.85" lengthAdjust="spacingAndGlyphs">8</tspan><tspan x="1646.56" font-size="20.52" textLength="10.74" lengthAdjust="spacingAndGlyphs">y</tspan><tspan x="1655.16" font-size="23.2" textLength="6.01" lengthAdjust="spacingAndGlyphs">.</tspan><tspan x="1661.52" font-size="23.2" textLength="6.01" lengthAdjust="spacingAndGlyphs">.</tspan><tspan x="1667.88" font-size="23.2" textLength="6.01" lengthAdjust="spacingAndGlyphs">.</tspan><tspan x="1674.25" y="-0.1" font-size="20.64" textLength="12.09" lengthAdjust="spacingAndGlyphs">g</tspan><tspan x="1686.95" y="-1.1" font-size="19.64" textLength="15.38" lengthAdjust="spacingAndGlyphs">Q</tspan><tspan x="1702.69" y="0" font-size="20.6" textLength="12.08" lengthAdjust="spacingAndGlyphs">q</tspan><tspan x="1715.76" font-size="20.35" textLength="10.47" lengthAdjust="spacingAndGlyphs">F</tspan></text><text id="n77"><tspan x="1578.17" y="0" font-size="20.45" textLength="14.19" lengthAdjust="spacingAndGlyphs">U</tspan><tspan x="1592.8" font-size="20.45" textLength="14.19" lengthAdjust="spacingAndGlyphs">U</tspan><tspan x="1607.34" font-size="20.35" textLength="13.44" lengthAdjust="spacingAndGlyphs">A</tspan><tspan x="1621.22" font-size="20.97" textLength="12.08" lengthAdjust="spacingAndGlyphs">h</tspan><tspan x="1634.13" font-size="21.02" textLength="9.59" lengthAdjust="spacingAndGlyphs">s</tspan><tspan x="1644.41" font-size="20.62" textLength="12.1" lengthAdjust="spacingAndGlyphs">p</tspan><tspan x="1656.87" font-size="23.2" textLength="6.01" lengthAdjust="spacingAndGlyphs">.</tspan><tspan x="1663.21" font-size="23.2" textLength="6.01" lengthAdjust="spacingAndGlyphs">.</tspan><tspan x="1669.57" font-size="23.2" textLength="6.01" lengthAdjust="spacingAndGlyphs">.</tspan><tspan x="1675.83" font-size="20.35" textLength="13.54" lengthAdjust="spacingAndGlyphs">V</tspan><tspan x="1689.88" font-size="20.52" textLength="11.85" lengthAdjust="spacingAndGlyphs">8</tspan><tspan x="1702.72" font-size="20.52" textLength="10.74" lengthAdjust="spacingAndGlyphs">y</tspan><tspan x="1714.21" font-size="21.08" textLength="12.09" lengthAdjust="spacingAndGlyphs">d</tspan></text><text id="n78"><tspan x="1586.11" y="0" font-size="20.35" textLength="11.47" lengthAdjust="spacingAndGlyphs">7</tspan><tspan x="1598.44" font-size="20.6" textLength="12.08" lengthAdjust="spacingAndGlyphs">q</tspan><tspan x="1611.33" font-size="20.35" textLength="13.81" lengthAdjust="spacingAndGlyphs">R</tspan><tspan x="1624.15" font-size="20.96" textLength="11.82" lengthAdjust="spacingAndGlyphs">o</tspan><tspan x="1636.68" font-size="20.52" textLength="11.89" lengthAdjust="spacingAndGlyphs">S</tspan><tspan x="1649.39" font-size="20.97" textLength="4.54" lengthAdjust="spacingAndGlyphs">i</tspan><tspan x="1654.6" font-size="23.2" textLength="6.01" lengthAdjust="spacingAndGlyphs">.</tspan><tspan x="1660.94" font-size="23.2" textLength="6.01" lengthAdjust="spacingAndGlyphs">.</tspan><tspan x="1667.3" font-size="23.2" textLength="6.01" lengthAdjust="spacingAndGlyphs">.</tspan><tspan x="1673.79" font-size="20.52" textLength="12.14" lengthAdjust="spacingAndGlyphs">6</tspan><tspan x="1687.1" font-size="20.7" textLength="14.6" lengthAdjust="spacingAndGlyphs">w</tspan><tspan x="1703.13" font-size="21.02" textLength="9.59" lengthAdjust="spacingAndGlyphs">s</tspan><tspan x="1713.15" font-size="20.35" textLength="13.35" lengthAdjust="spacingAndGlyphs">X</tspan></text><text id="n79"><tspan x="1588.6" y="0" font-size="20.35" textLength="14.37" lengthAdjust="spacingAndGlyphs">H</tspan><tspan x="1603.69" font-size="20.35" textLength="13.81" lengthAdjust="spacingAndGlyphs">R</tspan><tspan x="1616.64" font-size="20.52" textLength="10.74" lengthAdjust="spacingAndGlyphs">y</tspan><tspan x="1628.13" y="-0.1" font-size="20.76" textLength="5.01" lengthAdjust="spacingAndGlyphs">j</tspan><tspan x="1633.68" y="0" font-size="20.52" textLength="13.41" lengthAdjust="spacingAndGlyphs">C</tspan><tspan x="1645.96" y="3.7" font-size="26.63" textLength="6.66" lengthAdjust="spacingAndGlyphs">J</tspan><tspan x="1653.52" y="0" font-size="23.2" textLength="6.01" lengthAdjust="spacingAndGlyphs">.</tspan><tspan x="1659.88" font-size="23.2" textLength="6.01" lengthAdjust="spacingAndGlyphs">.</tspan><tspan x="1666.24" font-size="23.2" textLength="6.01" lengthAdjust="spacingAndGlyphs">.</tspan><tspan x="1672.41" font-size="20.7" textLength="10.72" lengthAdjust="spacingAndGlyphs">z</tspan><tspan x="1683.01" font-size="21" textLength="7.3" lengthAdjust="spacingAndGlyphs">f</tspan><tspan x="1690.27" font-size="20.82" textLength="18.98" lengthAdjust="spacingAndGlyphs">m</tspan><tspan x="1709.78" font-size="20.35" textLength="16.61" lengthAdjust="spacingAndGlyphs">M</tspan></text><text id="n80"><tspan x="1573.49" y="0" font-size="20.52" textLength="13.41" lengthAdjust="spacingAndGlyphs">C</tspan><tspan x="1587.66" font-size="20.35" textLength="13.81" lengthAdjust="spacingAndGlyphs">R</tspan><tspan x="1601.36" y="-1.1" font-size="19.64" textLength="15.38" lengthAdjust="spacingAndGlyphs">Q</tspan><tspan x="1617.1" y="0" font-size="21.08" textLength="12.09" lengthAdjust="spacingAndGlyphs">d</tspan><tspan x="1630.36" font-size="20.45" textLength="11.07" lengthAdjust="spacingAndGlyphs">5</tspan><tspan x="1643.2" font-size="20.7" textLength="14.6" lengthAdjust="spacingAndGlyphs">w</tspan><tspan x="1657.01" font-size="23.2" textLength="6.01" lengthAdjust="spacingAndGlyphs">.</tspan><tspan x="1663.37" font-size="23.2" textLength="6.01" lengthAdjust="spacingAndGlyphs">.</tspan><tspan x="1669.73" font-size="23.2" textLength="6.01" lengthAdjust="spacingAndGlyphs">.</tspan><tspan x="1676.22" font-size="21.34" textLength="11.99" lengthAdjust="spacingAndGlyphs">u</tspan><tspan x="1689.18" font-size="20.35" textLength="11.47" lengthAdjust="spacingAndGlyphs">7</tspan><tspan x="1701.77" font-size="20.96" textLength="10" lengthAdjust="spacingAndGlyphs">a</tspan><tspan x="1713.89" font-size="20.35" textLength="13.45" lengthAdjust="spacingAndGlyphs">K</tspan></text><text id="n81"><tspan x="1570.98" y="0" font-size="20.35" textLength="11.73" lengthAdjust="spacingAndGlyphs">4</tspan><tspan x="1583.6" font-size="20.35" textLength="13.81" lengthAdjust="spacingAndGlyphs">R</tspan><tspan x="1597.62" font-size="20.7" textLength="10.79" lengthAdjust="spacingAndGlyphs">v</tspan><tspan x="1609.13" y="-0.1" font-size="20.64" textLength="12.09" lengthAdjust="spacingAndGlyphs">g</tspan><tspan x="1621.92" y="0" font-size="21.34" textLength="11.99" lengthAdjust="spacingAndGlyphs">u</tspan><tspan x="1634.62" font-size="20.82" textLength="18.98" lengthAdjust="spacingAndGlyphs">m</tspan><tspan x="1653.94" font-size="23.2" textLength="6.01" lengthAdjust="spacingAndGlyphs">.</tspan><tspan x="1660.3" font-size="23.2" textLength="6.01" lengthAdjust="spacingAndGlyphs">.</tspan><tspan x="1666.66" font-size="23.2" textLength="6.01" lengthAdjust="spacingAndGlyphs">.</tspan><tspan x="1673.19" font-size="20.35" textLength="14.37" lengthAdjust="spacingAndGlyphs">H</tspan><tspan x="1688.18" font-size="20.35" textLength="11.44" lengthAdjust="spacingAndGlyphs">L</tspan><tspan x="1699.39" font-size="20.35" textLength="14.27" lengthAdjust="spacingAndGlyphs">N</tspan><tspan x="1714.41" font-size="21.08" textLength="12.1" lengthAdjust="spacingAndGlyphs">b</tspan></text><text id="n82"><tspan x="1587.1" y="-0.1" font-size="20.76" textLength="5.01" lengthAdjust="spacingAndGlyphs">j</tspan><tspan x="1593.12" y="0" font-size="20.35" textLength="11.2" lengthAdjust="spacingAndGlyphs">1</tspan><tspan x="1605.4" font-size="20.96" textLength="11.82" lengthAdjust="spacingAndGlyphs">o</tspan><tspan x="1617.61" font-size="20.96" textLength="12.01" lengthAdjust="spacingAndGlyphs">e</tspan><tspan x="1629.91" y="-1.1" font-size="19.64" textLength="15.38" lengthAdjust="spacingAndGlyphs">Q</tspan><tspan x="1645.68" y="0" font-size="20.96" textLength="11.82" lengthAdjust="spacingAndGlyphs">o</tspan><tspan x="1657.51" font-size="23.2" textLength="6.01" lengthAdjust="spacingAndGlyphs">.</tspan><tspan x="1663.87" font-size="23.2" textLength="6.01" lengthAdjust="spacingAndGlyphs">.</tspan><tspan x="1670.23" font-size="23.2" textLength="6.01" lengthAdjust="spacingAndGlyphs">.</tspan><tspan x="1676.81" font-size="20.82" textLength="11.99" lengthAdjust="spacingAndGlyphs">n</tspan><tspan x="1688.62" font-size="20.35" textLength="13.16" lengthAdjust="spacingAndGlyphs">Y</tspan><tspan x="1701.73" font-size="21.08" textLength="12.1" lengthAdjust="spacingAndGlyphs">b</tspan><tspan x="1714.21" font-size="21.08" textLength="12.09" lengthAdjust="spacingAndGlyphs">d</tspan></text><text id="n83"><tspan x="1439.11" y="0" font-size="20.41" textLength="11.3" lengthAdjust="spacingAndGlyphs">2</tspan><tspan x="1451.72" font-size="20.35" textLength="16.61" lengthAdjust="spacingAndGlyphs">M</tspan><tspan x="1469.2" font-size="20.35" textLength="10.47" lengthAdjust="spacingAndGlyphs">F</tspan><tspan x="1479.65" font-size="20.96" textLength="11.82" lengthAdjust="spacingAndGlyphs">o</tspan><tspan x="1492.18" font-size="20.52" textLength="11.89" lengthAdjust="spacingAndGlyphs">S</tspan><tspan x="1505.13" font-size="20.52" textLength="11.26" lengthAdjust="spacingAndGlyphs">3</tspan><tspan x="1517.26" font-size="23.2" textLength="6.01" lengthAdjust="spacingAndGlyphs">.</tspan><tspan x="1523.62" font-size="23.2" textLength="6.01" lengthAdjust="spacingAndGlyphs">.</tspan><tspan x="1529.98" font-size="23.2" textLength="6.01" lengthAdjust="spacingAndGlyphs">.</tspan><tspan x="1536.35" font-size="20.52" textLength="13.41" lengthAdjust="spacingAndGlyphs">C</tspan><tspan x="1550.31" y="-0.1" font-size="20.76" textLength="5.01" lengthAdjust="spacingAndGlyphs">j</tspan><tspan x="1556.44" y="0" font-size="20.52" textLength="11.26" lengthAdjust="spacingAndGlyphs">3</tspan><tspan x="1568.72" font-size="20.97" textLength="12.08" lengthAdjust="spacingAndGlyphs">h</tspan></text><text id="src"><tspan x="207.06" y="0" font-size="20.35" textLength="10.47" lengthAdjust="spacingAndGlyphs">F</tspan><tspan x="217.49" font-size="20.96" textLength="11.82" lengthAdjust="spacingAndGlyphs">o</tspan><tspan x="229.66" font-size="20.35" textLength="13.35" lengthAdjust="spacingAndGlyphs">X</tspan><tspan x="243.55" font-size="20.35" textLength="14.37" lengthAdjust="spacingAndGlyphs">H</tspan><tspan x="259.01" font-size="20.45" textLength="11.07" lengthAdjust="spacingAndGlyphs">5</tspan><tspan x="271.18" font-size="20.6" textLength="12.08" lengthAdjust="spacingAndGlyphs">q</tspan><tspan x="283.85" font-size="23.2" textLength="6.01" lengthAdjust="spacingAndGlyphs">.</tspan><tspan x="290.19" font-size="23.2" textLength="6.01" lengthAdjust="spacingAndGlyphs">.</tspan><tspan x="296.55" font-size="23.2" textLength="6.01" lengthAdjust="spacingAndGlyphs">.</tspan><tspan x="303" font-size="20.96" textLength="10.03" lengthAdjust="spacingAndGlyphs">c</tspan><tspan x="313.94" y="-1.1" font-size="19.64" textLength="15.38" lengthAdjust="spacingAndGlyphs">Q</tspan><tspan x="329.78" y="0" font-size="21.34" textLength="11.99" lengthAdjust="spacingAndGlyphs">u</tspan><tspan x="342.72" font-size="20.52" textLength="10.74" lengthAdjust="spacingAndGlyphs">y</tspan><tspan x="361.03" y="-1.3" font-size="19.12" textLength="5.63" lengthAdjust="spacingAndGlyphs">(</tspan><tspan x="368.48" y="0" font-size="20.35" textLength="16.61" lengthAdjust="spacingAndGlyphs">M</tspan><tspan x="385.86" font-size="20.96" textLength="10" lengthAdjust="spacingAndGlyphs">a</tspan><tspan x="398.19" font-size="20.97" textLength="4.54" lengthAdjust="spacingAndGlyphs">i</tspan><tspan x="403.62" font-size="20.82" textLength="11.99" lengthAdjust="spacingAndGlyphs">n</tspan><tspan x="416.27" font-size="19.57" textLength="6.01" lengthAdjust="spacingAndGlyphs">:</tspan><tspan x="429.58" font-size="20.35" textLength="18.61" lengthAdjust="spacingAndGlyphs">W</tspan><tspan x="447.94" font-size="20.96" textLength="10" lengthAdjust="spacingAndGlyphs">a</tspan><tspan x="459.86" font-size="20.82" textLength="8.53" lengthAdjust="spacingAndGlyphs">r</tspan><tspan x="468.01" font-size="20.82" textLength="11.99" lengthAdjust="spacingAndGlyphs">n</tspan><tspan x="480.81" font-size="20.97" textLength="4.54" lengthAdjust="spacingAndGlyphs">i</tspan><tspan x="486.24" font-size="20.82" textLength="11.99" lengthAdjust="spacingAndGlyphs">n</tspan><tspan x="498.72" y="-0.1" font-size="20.64" textLength="12.09" lengthAdjust="spacingAndGlyphs">g</tspan><tspan x="517.77" y="0" font-size="20.52" textLength="13.41" lengthAdjust="spacingAndGlyphs">C</tspan><tspan x="532.05" font-size="20.97" textLength="4.54" lengthAdjust="spacingAndGlyphs">l</tspan><tspan x="537.41" font-size="21.34" textLength="11.99" lengthAdjust="spacingAndGlyphs">u</tspan><tspan x="550.33" font-size="21.02" textLength="9.59" lengthAdjust="spacingAndGlyphs">s</tspan><tspan x="560.34" y="-0.2" font-size="21.46" textLength="7.43" lengthAdjust="spacingAndGlyphs">t</tspan><tspan x="568.23" y="0" font-size="20.96" textLength="12.01" lengthAdjust="spacingAndGlyphs">e</tspan><tspan x="580.46" font-size="20.82" textLength="8.53" lengthAdjust="spacingAndGlyphs">r</tspan><tspan x="595.21" font-size="20.35" textLength="11.44" lengthAdjust="spacingAndGlyphs">L</tspan><tspan x="606.6" font-size="20.7" textLength="10.79" lengthAdjust="spacingAndGlyphs">v</tspan><tspan x="618.41" font-size="20.97" textLength="4.54" lengthAdjust="spacingAndGlyphs">l</tspan><tspan x="630.27" font-size="20.41" textLength="11.3" lengthAdjust="spacingAndGlyphs">2</tspan><tspan x="644.05" y="-1.3" font-size="19.12" textLength="5.63" lengthAdjust="spacingAndGlyphs">)</tspan><tspan x="657.15" y="0" font-size="20.41" textLength="11.3" lengthAdjust="spacingAndGlyphs">2</tspan><tspan x="670.18" font-size="20.45" textLength="11.07" lengthAdjust="spacingAndGlyphs">5</tspan><tspan x="682.6" font-size="20.41" textLength="11.3" lengthAdjust="spacingAndGlyphs">2</tspan><tspan x="695.46" font-size="20.35" textLength="11.47" lengthAdjust="spacingAndGlyphs">7</tspan><tspan x="707.77" font-size="23.2" textLength="6.01" lengthAdjust="spacingAndGlyphs">.</tspan><tspan x="714.55" font-size="20.35" textLength="11.47" lengthAdjust="spacingAndGlyphs">7</tspan><tspan x="727.43" font-size="20.45" textLength="11.07" lengthAdjust="spacingAndGlyphs">5</tspan><tspan x="739.65" font-size="20.52" textLength="12.11" lengthAdjust="spacingAndGlyphs">9</tspan><tspan x="752.89" font-size="20.45" textLength="11.07" lengthAdjust="spacingAndGlyphs">5</tspan><tspan x="771.73" font-size="20.52" textLength="11.89" lengthAdjust="spacingAndGlyphs">S</tspan><tspan x="784.11" font-size="20.52" textLength="15.38" lengthAdjust="spacingAndGlyphs">O</tspan><tspan x="799.93" font-size="20.35" textLength="11.44" lengthAdjust="spacingAndGlyphs">L</tspan><tspan x="817.83" y="-1.3" font-size="19.12" textLength="5.63" lengthAdjust="spacingAndGlyphs">(</tspan><tspan x="825.38" y="0" font-size="20.52" textLength="11.85" lengthAdjust="spacingAndGlyphs">8</tspan><tspan x="838.27" font-size="20.35" textLength="11.47" lengthAdjust="spacingAndGlyphs">7</tspan><tspan x="850.73" font-size="20.7" textLength="11.09" lengthAdjust="spacingAndGlyphs">x</tspan><tspan x="863.75" y="-1.3" font-size="19.12" textLength="5.63" lengthAdjust="spacingAndGlyphs">)</tspan><tspan x="876.84" y="0" font-size="20.96" textLength="10" lengthAdjust="spacingAndGlyphs">a</tspan><tspan x="889.18" font-size="20.7" textLength="10.79" lengthAdjust="spacingAndGlyphs">v</tspan><tspan x="900.69" y="-0.1" font-size="20.64" textLength="12.09" lengthAdjust="spacingAndGlyphs">g</tspan><tspan x="919.99" y="0" font-size="20.41" textLength="11.3" lengthAdjust="spacingAndGlyphs">2</tspan><tspan x="932.52" font-size="20.52" textLength="12.11" lengthAdjust="spacingAndGlyphs">9</tspan><tspan x="945.16" font-size="23.2" textLength="6.01" lengthAdjust="spacingAndGlyphs">.</tspan><tspan x="951.85" font-size="20.52" textLength="11.73" lengthAdjust="spacingAndGlyphs">0</tspan><tspan x="964.82" font-size="20.45" textLength="11.07" lengthAdjust="spacingAndGlyphs">5</tspan><tspan x="977.31" font-size="20.35" textLength="11.73" lengthAdjust="spacingAndGlyphs">4</tspan><tspan x="990.11" font-size="20.35" textLength="11.47" lengthAdjust="spacingAndGlyphs">7</tspan><tspan x="1009.12" font-size="20.52" textLength="11.89" lengthAdjust="spacingAndGlyphs">S</tspan><tspan x="1021.5" font-size="20.52" textLength="15.38" lengthAdjust="spacingAndGlyphs">O</tspan><tspan x="1037.32" font-size="20.35" textLength="11.44" lengthAdjust="spacingAndGlyphs">L</tspan><tspan x="1054.82" font-size="20.35" textLength="11.44" lengthAdjust="spacingAndGlyphs">L</tspan><tspan x="1066.12" font-size="20.96" textLength="10" lengthAdjust="spacingAndGlyphs">a</tspan><tspan x="1078.09" y="-0.2" font-size="21.46" textLength="7.43" lengthAdjust="spacingAndGlyphs">t</tspan><tspan x="1085.98" y="0" font-size="20.96" textLength="12.01" lengthAdjust="spacingAndGlyphs">e</tspan><tspan x="1098.64" font-size="21.02" textLength="9.59" lengthAdjust="spacingAndGlyphs">s</tspan><tspan x="1108.65" y="-0.2" font-size="21.46" textLength="7.43" lengthAdjust="spacingAndGlyphs">t</tspan><tspan x="1116.73" y="0" font-size="19.57" textLength="6.01" lengthAdjust="spacingAndGlyphs">:</tspan><tspan x="1129.9" font-size="20.41" textLength="11.3" lengthAdjust="spacingAndGlyphs">2</tspan><tspan x="1142.67" font-size="20.52" textLength="11.73" lengthAdjust="spacingAndGlyphs">0</tspan><tspan x="1155.35" font-size="20.41" textLength="11.3" lengthAdjust="spacingAndGlyphs">2</tspan><tspan x="1167.91" font-size="20.52" textLength="12.14" lengthAdjust="spacingAndGlyphs">6</tspan><tspan x="1180.36" font-size="20.5" textLength="7.18" lengthAdjust="spacingAndGlyphs">-</tspan><tspan x="1188.06" font-size="20.52" textLength="11.73" lengthAdjust="spacingAndGlyphs">0</tspan><tspan x="1200.96" font-size="20.35" textLength="11.2" lengthAdjust="spacingAndGlyphs">1</tspan><tspan x="1213.03" font-size="20.5" textLength="7.18" lengthAdjust="spacingAndGlyphs">-</tspan><tspan x="1220.9" font-size="20.35" textLength="11.2" lengthAdjust="spacingAndGlyphs">1</tspan><tspan x="1233.24" font-size="20.52" textLength="12.14" lengthAdjust="spacingAndGlyphs">6</tspan><tspan x="1252.71" font-size="20.35" textLength="11.2" lengthAdjust="spacingAndGlyphs">1</tspan><tspan x="1265.21" font-size="20.41" textLength="11.3" lengthAdjust="spacingAndGlyphs">2</tspan><tspan x="1277.85" font-size="19.57" textLength="6.01" lengthAdjust="spacingAndGlyphs">:</tspan><tspan x="1284.73" font-size="20.35" textLength="11.73" lengthAdjust="spacingAndGlyphs">4</tspan><tspan x="1297.45" font-size="20.35" textLength="11.73" lengthAdjust="spacingAndGlyphs">4</tspan></text></g></defs>
<g>
<path class="lr" d="M200,746.667C1200,746.667 1200,200 2200,200L2200,206.508C1200,206.508 1200,753.175 200,753.175Z"/>
<path class="lr" d="M200,753.175C1200,753.175 1200,219.681 2200,219.681L2200,226.189C1200,226.189 1200,759.683 200,759.683Z"/>
<path class="lr" d="M200,759.683C1200,759.683 1200,239.361 2200,239.361L2200,245.869C1200,245.869 1200,766.19 200,766.19Z"/>
<path class="lr" d="M200,766.19C1200,766.19 1200,259.042 2200,259.042L2200,265.55C1200,265.55 1200,772.698 200,772.698Z"/>
<path class="lb" d="M200,772.698C1200,772.698 1200,278.723 2200,278.723L2200,285.23C1200,285.23 1200,779.206 200,779.206Z"/>
<path class="lb" d="M200,779.206C1200,779.206 1200,298.403 2200,298.403L2200,304.911C1200,304.911 1200,785.714 200,785.714Z"/>
<path class="lb" d="M200,785.714C1200,785.714 1200,318.084 2200,318.084L2200,324.592C1200,324.592 1200,792.222 200,792.222Z"/>
<path class="lr" d="M200,792.222C1200,792.222 1200,337.764 2200,337.764L2200,344.272C1200,344.272 1200,798.73 200,798.73Z"/>
<path class="lr" d="M200,798.73C1200,798.73 1200,357.445 2200,357.445L2200,363.953C1200,363.953 1200,805.238 200,805.238Z"/>
<path class="lb" d="M200,805.238C1200,805.238 1200,377.126 2200,377.126L2200,383.634C1200,383.634 1200,811.746 200,811.746Z"/>
<path class="lr" d="M200,811.746C1200,811.746 1200,396.806 2200,396.806L2200,403.314C1200,403.314 1200,818.254 200,818.254Z"/>
<path class="lr" d="M200,818.254C1200,818.254 1200,416.487 2200,416.487L2200,422.995C1200,422.995 1200,824.762 200,824.762Z"/>
<path class="lb" d="M200,824.762C1200,824.762 1200,436.168 2200,436.168L2200,442.675C1200,442.675 1200,831.27 200,831.27Z"/>
<path class="lb" d="M200,831.27C1200,831.27 1200,455.848 2200,455.848L2200,462.356C1200,462.356 1200,837.778 200,837.778Z"/>
<path class="lr" d="M200,837.778C1200,837.778 1200,475.529 2200,475.529L2200,482.037C1200,482.037 1200,844.286 200,844.286Z"/>
<path class="lr" d="M200,844.286C1200,844.286 1200,495.209 2200,495.209L2200,501.717C1200,501.717 1200,850.794 200,850.794Z"/>
<path class="lb" d="M200,850.794C1200,850.794 1200,514.89 2200,514.89L2200,521.398C1200,521.398 1200,857.302 200,857.302Z"/>
<path class="lr" d="M200,857.302C1200,857.302 1200,534.571 2200,534.571L2200,541.079C1200,541.079 1200,863.81 200,863.81Z"/>
<path class="lr" d="M200,863.81C1200,863.81 1200,554.251 2200,554.251L2200,560.759C1200,560.759 1200,870.317 200,870.317Z"/>
<path class="lr" d="M200,870.317C1200,870.317 1200,573.932 2200,573.932L2200,580.44C1200,580.44 1200,876.825 200,876.825Z"/>
<path class="lr" d="M200,876.825C1200,876.825 1200,593.613 2200,593.613L2200,600.12C1200,600.12 1200,883.333 200,883.333Z"/>
<path class="lr" d="M200,883.333C1200,883.333 1200,613.293 2200,613.293L2200,619.801C1200,619.801 1200,889.841 200,889.841Z"/>
<path class="lb" d="M200,889.841C1200,889.841 1200,632.974 2200,632.974L2200,639.482C1200,639.482 1200,896.349 200,896.349Z"/>
<path class="lr" d="M200,896.349C1200,896.349 1200,652.654 2200,652.654L2200,659.162C1200,659.162 1200,902.857 200,902.857Z"/>
<path class="lb" d="M200,902.857C1200,902.857 1200,672.335 2200,672.335L2200,678.843C1200,678.843 1200,909.365 200,909.365Z"/>
<path class="lr" d="M200,909.365C1200,909.365 1200,692.016 2200,692.016L2200,698.524C1200,698.524 1200,915.873 200,915.873Z"/>
<path class="lr" d="M200,915.873C1200,915.873 1200,711.696 2200,711.696L2200,718.204C1200,718.204 1200,922.381 200,922.381Z"/>
<path class="lr" d="M200,922.381C1200,922.381 1200,731.377 2200,731.377L2200,737.885C1200,737.885 1200,928.889 200,928.889Z"/>
<path class="lr" d="M200,928.889C1200,928.889 1200,751.058 2200,751.058L2200,757.566C1200,757.566 1200,935.397 200,935.397Z"/>
<path class="lr" d="M200,935.397C1200,935.397 1200,770.738 2200,770.738L2200,777.246C1200,777.246 1200,941.905 200,941.905Z"/>
<path class="lb" d="M200,941.905C1200,941.905 1200,790.419 2200,790.419L2200,796.927C1200,796.927 1200,948.413 200,948.413Z"/>
<path class="lr" d="M200,948.413C1200,948.413 1200,810.099 2200,810.099L2200,816.607C1200,816.607 1200,954.921 200,954.921Z"/>
<path class="lr" d="M200,954.921C1200,954.921 1200,829.78 2200,829.78L2200,836.288C1200,836.288 1200,961.429 200,961.429Z"/>
<path class="lr" d="M200,961.429C1200,961.429 1200,849.461 2200,849.461L2200,855.969C1200,855.969 1200,967.937 200,967.937Z"/>
<path class="lr" d="M200,967.937C1200,967.937 1200,869.141 2200,869.141L2200,875.649C1200,875.649 1200,974.444 200,974.444Z"/>
<path class="lb" d="M200,974.444C1200,974.444 1200,888.822 2200,888.822L2200,895.33C1200,895.33 1200,980.952 200,980.952Z"/>
<path class="lr" d="M200,980.952C1200,980.952 1200,908.503 2200,908.503L2200,915.011C1200,915.011 1200,987.46 200,987.46Z"/>
<path class="lr" d="M200,987.46C1200,987.46 1200,928.183 2200,928.183L2200,934.691C1200,934.691 1200,993.968 200,993.968Z"/>
<path class="lr" d="M200,993.968C1200,993.968 1200,947.864 2200,947.864L2200,954.372C1200,954.372 1200,1000.476 200,1000.476Z"/>
<path class="lr" d="M200,1000.476C1200,1000.476 1200,967.544 2200,967.544L2200,974.052C1200,974.052 1200,1006.984 200,1006.984Z"/>
<path class="lb" d="M200,1006.984C1200,1006.984 1200,987.225 2200,987.225L2200,993.733C1200,993.733 1200,1013.492 200,1013.492Z"/>
<path class="lb" d="M200,1013.492C1200,1013.492 1200,1006.906 2200,1006.906L2200,1013.414C1200,1013.414 1200,1020 200,1020Z"/>
<path class="lr" d="M200,1020C1200,1020 1200,1026.586 2200,1026.586L2200,1033.094C1200,1033.094 1200,1026.508 200,1026.508Z"/>
<path class="lr" d="M200,1026.508C1200,1026.508 1200,1046.267 2200,1046.267L2200,1052.775C1200,1052.775 1200,1033.016 200,1033.016Z"/>
<path class="lr" d="M200,1033.016C1200,1033.016 1200,1065.948 2200,1065.948L2200,1072.456C1200,1072.456 1200,1039.524 200,1039.524Z"/>
<path class="lr" d="M200,1039.524C1200,1039.524 1200,1085.628 2200,1085.628L2200,1092.136C1200,1092.136 1200,1046.032 200,1046.032Z"/>
<path class="lr" d="M200,1046.032C1200,1046.032 1200,1105.309 2200,1105.309L2200,1111.817C1200,1111.817 1200,1052.54 200,1052.54Z"/>
<path class="lb" d="M200,1052.54C1200,1052.54 1200,1124.989 2200,1124.989L2200,1131.497C1200,1131.497 1200,1059.048 200,1059.048Z"/>
<path class="lr" d="M200,1059.048C1200,1059.048 1200,1144.67 2200,1144.67L2200,1151.178C1200,1151.178 1200,1065.556 200,1065.556Z"/>
<path class="lr" d="M200,1065.556C1200,1065.556 1200,1164.351 2200,1164.351L2200,1170.859C1200,1170.859 1200,1072.063 200,1072.063Z"/>
<path class="lr" d="M200,1072.063C1200,1072.063 1200,1184.031 2200,1184.031L2200,1190.539C1200,1190.539 1200,1078.571 200,1078.571Z"/>
<path class="lr" d="M200,1078.571C1200,1078.571 1200,1203.712 2200,1203.712L2200,1210.22C1200,1210.22 1200,1085.079 200,1085.079Z"/>
<path class="lr" d="M200,1085.079C1200,1085.079 1200,1223.393 2200,1223.393L2200,1229.901C1200,1229.901 1200,1091.587 200,1091.587Z"/>
<path class="lb" d="M200,1091.587C1200,1091.587 1200,1243.073 2200,1243.073L2200,1249.581C1200,1249.581 1200,1098.095 200,1098.095Z"/>
<path class="lb" d="M200,1098.095C1200,1098.095 1200,1262.754 2200,1262.754L2200,1269.262C1200,1269.262 1200,1104.603 200,1104.603Z"/>
<path class="lr" d="M200,1104.603C1200,1104.603 1200,1282.434 2200,1282.434L2200,1288.942C1200,1288.942 1200,1111.111 200,1111.111Z"/>
<path class="lr" d="M200,1111.111C1200,1111.111 1200,1302.115 2200,1302.115L2200,1308.623C1200,1308.623 1200,1117.619 200,1117.619Z"/>
<path class="lr" d="M200,1117.619C1200,1117.619 1200,1321.796 2200,1321.796L2200,1328.304C1200,1328.304 1200,1124.127 200,1124.127Z"/>
<path class="lr" d="M200,1124.127C1200,1124.127 1200,1341.476 2200,1341.476L2200,1347.984C1200,1347.984 1200,1130.635 200,1130.635Z"/>
<path class="lr" d="M200,1130.635C1200,1130.635 1200,1361.157 2200,1361.157L2200,1367.665C1200,1367.665 1200,1137.143 200,1137.143Z"/>
<path class="lr" d="M200,1137.143C1200,1137.143 1200,1380.838 2200,1380.838L2200,1387.346C1200,1387.346 1200,1143.651 200,1143.651Z"/>
<path class="lr" d="M200,1143.651C1200,1143.651 1200,1400.518 2200,1400.518L2200,1407.026C1200,1407.026 1200,1150.159 200,1150.159Z"/>
<path class="lr" d="M200,1150.159C1200,1150.159 1200,1420.199 2200,1420.199L2200,1426.707C1200,1426.707 1200,1156.667 200,1156.667Z"/>
<path class="lr" d="M200,1156.667C1200,1156.667 1200,1439.88 2200,1439.88L2200,1446.387C1200,1446.387 1200,1163.175 200,1163.175Z"/>
<path class="lr" d="M200,1163.175C1200,1163.175 1200,1459.56 2200,1459.56L2200,1466.068C1200,1466.068 1200,1169.683 200,1169.683Z"/>
<path class="lr" d="M200,1169.683C1200,1169.683 1200,1479.241 2200,1479.241L2200,1485.749C1200,1485.749 1200,1176.19 200,1176.19Z"/>
<path class="lr" d="M200,1176.19C1200,1176.19 1200,1498.921 2200,1498.921L2200,1505.429C1200,1505.429 1200,1182.698 200,1182.698Z"/>
<path class="lb" d="M200,1182.698C1200,1182.698 1200,1518.602 2200,1518.602L2200,1525.11C1200,1525.11 1200,1189.206 200,1189.206Z"/>
<path class="lr" d="M200,1189.206C1200,1189.206 1200,1538.283 2200,1538.283L2200,1544.791C1200,1544.791 1200,1195.714 200,1195.714Z"/>
<path class="lr" d="M200,1195.714C1200,1195.714 1200,1557.963 2200,1557.963L2200,1564.471C1200,1564.471 1200,1202.222 200,1202.222Z"/>
<path class="lr" d="M200,1202.222C1200,1202.222 1200,1577.644 2200,1577.644L2200,1584.152C1200,1584.152 1200,1208.73 200,1208.73Z"/>
<path class="lr" d="M200,1208.73C1200,1208.73 1200,1597.325 2200,1597.325L2200,1603.832C1200,1603.832 1200,1215.238 200,1215.238Z"/>
<path class="lb" d="M200,1215.238C1200,1215.238 1200,1617.005 2200,1617.005L2200,1623.513C1200,1623.513 1200,1221.746 200,1221.746Z"/>
<path class="lb" d="M200,1221.746C1200,1221.746 1200,1636.686 2200,1636.686L2200,1643.194C1200,1643.194 1200,1228.254 200,1228.254Z"/>
<path class="lr" d="M200,1228.254C1200,1228.254 1200,1656.366 2200,1656.366L2200,1662.874C1200,1662.874 1200,1234.762 200,1234.762Z"/>
<path class="lr" d="M200,1234.762C1200,1234.762 1200,1676.047 2200,1676.047L2200,1682.555C1200,1682.555 1200,1241.27 200,1241.27Z"/>
<path class="lr" d="M200,1241.27C1200,1241.27 1200,1695.728 2200,1695.728L2200,1702.236C1200,1702.236 1200,1247.778 200,1247.778Z"/>
<path class="lr" d="M200,1247.778C1200,1247.778 1200,1715.408 2200,1715.408L2200,1721.916C1200,1721.916 1200,1254.286 200,1254.286Z"/>
<path class="lr" d="M200,1254.286C1200,1254.286 1200,1735.089 2200,1735.089L2200,1741.597C1200,1741.597 1200,1260.794 200,1260.794Z"/>
<path class="lr" d="M200,1260.794C1200,1260.794 1200,1754.77 2200,1754.77L2200,1761.277C1200,1761.277 1200,1267.302 200,1267.302Z"/>
<path class="lr" d="M200,1267.302C1200,1267.302 1200,1774.45 2200,1774.45L2200,1780.958C1200,1780.958 1200,1273.81 200,1273.81Z"/>
<path class="lr" d="M200,1273.81C1200,1273.81 1200,1794.131 2200,1794.131L2200,1800.639C1200,1800.639 1200,1280.317 200,1280.317Z"/>
<path class="lr" d="M200,1280.317C1200,1280.317 1200,1813.811 2200,1813.811L2200,1820.319C1200,1820.319 1200,1286.825 200,1286.825Z"/>
<path class="lb" d="M200,1286.825C1200,1286.825 1200,1833.492 2200,1833.492L2200,1840C1200,1840 1200,1293.333 200,1293.333Z"/>
</g>
<g class="nl">
<rect class="nr" x="160" y="746.667" width="40" height="546.667" fill="#3b82f6"/>
<g transform="translate(0,1027)"><use href="#src" class="sh"/><use href="#src"/></g>
<rect class="nr" x="2200" y="200" width="40" height="6.508" fill="#ef4444"/>
<g transform="translate(0,210)"><g class="sh"><use href="#n0"/><use href="#sS"/></g><use href="#n0"/><use href="#sS"/></g>
<rect class="nr" x="2200" y="219.681" width="40" height="6.508" fill="#ef4444"/>
<g transform="translate(0,230)"><g class="sh"><use href="#n1"/><use href="#sS"/></g><use href="#n1"/><use href="#sS"/></g>
<rect class="nr" x="2200" y="239.361" width="40" height="6.508" fill="#ef4444"/>
<g transform="translate(0,250)"><g class="sh"><use href="#n2"/><use href="#sS"/></g><use href="#n2"/><use href="#sS"/></g>
<rect class="nr" x="2200" y="259.042" width="40" height="6.508" fill="#ef4444"/>
<g transform="translate(0,269)"><g class="sh"><use href="#n3"/><use href="#sS"/></g><use href="#n3"/><use href="#sS"/></g>
<rect class="nr" x="2200" y="278.723" width="40" height="6.508" fill="#3b82f6"/>
<g transform="translate(0,289)"><g class="sh"><use href="#n4"/><use href="#sR"/></g><use href="#n4"/><use href="#sR"/></g>
<rect class="nr" x="2200" y="298.403" width="40" height="6.508" fill="#3b82f6"/>
<g transform="translate(0,309)"><g class="sh"><use href="#n5"/><use href="#sR"/></g><use href="#n5"/><use href="#sR"/></g>
<rect class="nr" x="2200" y="318.084" width="40" height="6.508" fill="#3b82f6"/>
<g transform="translate(0,328)"><g class="sh"><use href="#n6"/><use href="#sR"/></g><use href="#n6"/><use href="#sR"/></g>
<rect class="nr" x="2200" y="337.764" width="40" height="6.508" fill="#ef4444"/>
<g transform="translate(0,348)"><g class="sh"><use href="#n7"/><use href="#sS"/></g><use href="#n7"/><use href="#sS"/></g>
<rect class="nr" x="2200" y="357.445" width="40" height="6.508" fill="#ef4444"/>
<g transform="translate(0,368)"><g class="sh"><use href="#n8"/><use href="#sS"/></g><use href="#n8"/><use href="#sS"/></g>
<rect class="nr" x="2200" y="377.126" width="40" height="6.508" fill="#3b82f6"/>
<g transform="translate(0,387)"><g class="sh"><use href="#n9"/><use href="#pJ" x="1221.84"/><use href="#sR"/></g><use href="#n9"/><use href="#pJ" x="1221.84"/><use href="#sR"/></g>
<rect class="nr" x="2200" y="396.806" width="40" height="6.508" fill="#ef4444"/>
<g transform="translate(0,407)"><g class="sh"><use href="#n10"/><use href="#sS"/></g><use href="#n10"/><use href="#sS"/></g>
<rect class="nr" x="2200" y="416.487" width="40" height="6.508" fill="#ef4444"/>
<g transform="translate(0,427)"><g class="sh"><use href="#n11"/><use href="#sS"/></g><use href="#n11"/><use href="#sS"/></g>
<rect class="nr" x="2200" y="436.168" width="40" height="6.508" fill="#3b82f6"/>
<g transform="translate(0,446)"><g class="sh"><use href="#n12"/><use href="#pJ" x="1238.97"/><use href="#sR"/></g><use href="#n12"/><use href="#pJ" x="1238.97"/><use href="#sR"/></g>
<rect class="nr" x="2200" y="455.848" width="40" height="6.508" fill="#3b82f6"/>
<g transform="translate(0,466)"><g class="sh"><use href="#n13"/><use href="#sR"/></g><use href="#n13"/><use href="#sR"/></g>
<rect class="nr" x="2200" y="475.529" width="40" height="6.508" fill="#ef4444"/>
<g transform="translate(0,486)"><g class="sh"><use href="#n14"/><use href="#sS"/></g><use href="#n14"/><use href="#sS"/></g>
<rect class="nr" x="2200" y="495.209" width="40" height="6.508" fill="#ef4444"/>
<g transform="translate(0,505)"><g class="sh"><use href="#n15"/><use href="#sS"/></g><use href="#n15"/><use href="#sS"/></g>
<rect class="nr" x="2200" y="514.89" width="40" height="6.508" fill="#3b82f6"/>
<g transform="translate(0,525)"><g class="sh"><use href="#n16"/><use href="#pJ" x="1211.41"/><use href="#sR"/></g><use href="#n16"/><use href="#pJ" x="1211.41"/><use href="#sR"/></g>
<rect class="nr" x="2200" y="534.571" width="40" height="6.508" fill="#ef4444"/>
<g transform="translate(0,545)"><g class="sh"><use href="#n17"/><use href="#sS"/></g><use href="#n17"/><use href="#sS"/></g>
<rect class="nr" x="2200" y="554.251" width="40" height="6.508" fill="#ef4444"/>
<g transform="translate(0,565)"><g class="sh"><use href="#n18"/><use href="#sS"/></g><use href="#n18"/><use href="#sS"/></g>
<rect class="nr" x="2200" y="573.932" width="40" height="6.508" fill="#ef4444"/>
<g transform="translate(0,584)"><g class="sh"><use href="#n19"/><use href="#sS"/></g><use href="#n19"/><use href="#sS"/></g>
<rect class="nr" x="2200" y="593.613" width="40" height="6.508" fill="#ef4444"/>
<g transform="translate(0,604)"><g class="sh"><use href="#n20"/><use href="#sS"/></g><use href="#n20"/><use href="#sS"/></g>
<rect class="nr" x="2200" y="613.293" width="40" height="6.508" fill="#ef4444"/>
<g transform="translate(0,624)"><g class="sh"><use href="#n21"/><use href="#sS"/></g><use href="#n21"/><use href="#sS"/></g>
<rect class="nr" x="2200" y="632.974" width="40" height="6.508" fill="#3b82f6"/>
<g transform="translate(0,643)"><g class="sh"><use href="#n22"/><use href="#pJ" x="1226.5"/><use href="#sR"/></g><use href="#n22"/><use href="#pJ" x="1226.5"/><use href="#sR"/></g>
<rect class="nr" x="2200" y="652.654" width="40" height="6.508" fill="#ef4444"/>
<g transform="translate(0,663)"><g class="sh"><use href="#n23"/><use href="#sS"/></g><use href="#n23"/><use href="#sS"/></g>
<rect class="nr" x="2200" y="672.335" width="40" height="6.508" fill="#3b82f6"/>
<g transform="translate(0,683)"><g class="sh"><use href="#n24"/><use href="#pJ" x="1231.84"/><use href="#sR"/></g><use href="#n24"/><use href="#pJ" x="1231.84"/><use href="#sR"/></g>
<rect class="nr" x="2200" y="692.016" width="40" height="6.508" fill="#ef4444"/>
<g transform="translate(0,702)"><g class="sh"><use href="#n25"/><use href="#sS"/></g><use href="#n25"/><use href="#sS"/></g>
<rect class="nr" x="2200" y="711.696" width="40" height="6.508" fill="#ef4444"/>
<g transform="translate(0,722)"><g class="sh"><use href="#n26"/><use href="#sS"/></g><use href="#n26"/><use href="#sS"/></g>
<rect class="nr" x="2200" y="731.377" width="40" height="6.508" fill="#ef4444"/>
<g transform="translate(0,742)"><g class="sh"><use href="#n27"/><use href="#sS"/></g><use href="#n27"/><use href="#sS"/></g>
<rect class="nr" x="2200" y="751.058" width="40" height="6.508" fill="#ef4444"/>
<g transform="translate(0,761)"><g class="sh"><use href="#n28"/><use href="#sS"/></g><use href="#n28"/><use href="#sS"/></g>
<rect class="nr" x="2200" y="770.738" width="40" height="6.508" fill="#ef4444"/>
<g transform="translate(0,781)"><g class="sh"><use href="#n29"/><use href="#sS"/></g><use href="#n29"/><use href="#sS"/></g>
<rect class="nr" x="2200" y="790.419" width="40" height="6.508" fill="#3b82f6"/>
<g transform="translate(0,801)"><g class="sh"><use href="#n30"/><use href="#pJ" x="1218.67"/><use href="#sR"/></g><use href="#n30"/><use href="#pJ" x="1218.67"/><use href="#sR"/></g>
<rect class="nr" x="2200" y="810.099" width="40" height="6.508" fill="#ef4444"/>
<g transform="translate(0,820)"><g class="sh"><use href="#n31"/><use href="#sS"/></g><use href="#n31"/><use href="#sS"/></g>
<rect class="nr" x="2200" y="829.78" width="40" height="6.508" fill="#ef4444"/>
<g transform="translate(0,840)"><g class="sh"><use href="#n32"/><use href="#sS"/></g><use href="#n32"/><use href="#sS"/></g>
<rect class="nr" x="2200" y="849.461" width="40" height="6.508" fill="#ef4444"/>
<g transform="translate(0,860)"><g class="sh"><use href="#n33"/><use href="#sS"/></g><use href="#n33"/><use href="#sS"/></g>
<rect class="nr" x="2200" y="869.141" width="40" height="6.508" fill="#ef4444"/>
<g transform="translate(0,879)"><g class="sh"><use href="#n34"/><use href="#sS"/></g><use href="#n34"/><use href="#sS"/></g>
<rect class="nr" x="2200" y="888.822" width="40" height="6.508" fill="#3b82f6"/>
<g transform="translate(0,899)"><g class="sh"><use href="#n35"/><use href="#pJ" x="1231.09"/><use href="#sR"/></g><use href="#n35"/><use href="#pJ" x="1231.09"/><use href="#sR"/></g>
<rect class="nr" x="2200" y="908.503" width="40" height="6.508" fill="#ef4444"/>
<g transform="translate(0,919)"><g class="sh"><use href="#n36"/><use href="#sS"/></g><use href="#n36"/><use href="#sS"/></g>
<rect class="nr" x="2200" y="928.183" width="40" height="6.508" fill="#ef4444"/>
<g transform="translate(0,938)"><g class="sh"><use href="#n37"/><use href="#sS"/></g><use href="#n37"/><use href="#sS"/></g>
<rect class="nr" x="2200" y="947.864" width="40" height="6.508" fill="#ef4444"/>
<g transform="translate(0,958)"><g class="sh"><use href="#n38"/><use href="#sS"/></g><use href="#n38"/><use href="#sS"/></g>
<rect class="nr" x="2200" y="967.544" width="40" height="6.508" fill="#ef4444"/>
<g transform="translate(0,978)"><g class="sh"><use href="#n39"/><use href="#sS"/></g><use href="#n39"/><use href="#sS"/></g>
<rect class="nr" x="2200" y="987.225" width="40" height="6.508" fill="#3b82f6"/>
<g transform="translate(0,997)"><g class="sh"><use href="#n40"/><use href="#pJ" x="1231.14"/><use href="#sR"/></g><use href="#n40"/><use href="#pJ" x="1231.14"/><use href="#sR"/></g>
<rect class="nr" x="2200" y="1006.906" width="40" height="6.508" fill="#3b82f6"/>
<g transform="translate(0,1017)"><g class="sh"><use href="#n41"/><use href="#pJ" x="1225.67"/><use href="#sR"/></g><use href="#n41"/><use href="#pJ" x="1225.67"/><use href="#sR"/></g>
<rect class="nr" x="2200" y="1026.586" width="40" height="6.508" fill="#ef4444"/>
<g transform="translate(0,1037)"><g class="sh"><use href="#n42"/><use href="#sS"/></g><use href="#n42"/><use href="#sS"/></g>
<rect class="nr" x="2200" y="1046.267" width="40" height="6.508" fill="#ef4444"/>
<g transform="translate(0,1057)"><g class="sh"><use href="#n43"/><use href="#sS"/></g><use href="#n43"/><use href="#sS"/></g>
<rect class="nr" x="2200" y="1065.948" width="40" height="6.508" fill="#ef4444"/>
<g transform="translate(0,1076)"><g class="sh"><use href="#n44"/><use href="#sS"/></g><use href="#n44"/><use href="#sS"/></g>
<rect class="nr" x="2200" y="1085.628" width="40" height="6.508" fill="#ef4444"/>
<g transform="translate(0,1096)"><g class="sh"><use href="#n45"/><use href="#sS"/></g><use href="#n45"/><use href="#sS"/></g>
<rect class="nr" x="2200" y="1105.309" width="40" height="6.508" fill="#ef4444"/>
<g transform="translate(0,1116)"><g class="sh"><use href="#n46"/><use href="#sS"/></g><use href="#n46"/><use href="#sS"/></g>
<rect class="nr" x="2200" y="1124.989" width="40" height="6.508" fill="#3b82f6"/>
<g transform="translate(0,1135)"><g class="sh"><use href="#n47"/><use href="#pJ" x="1228.12"/><use href="#sR"/></g><use href="#n47"/><use href="#pJ" x="1228.12"/><use href="#sR"/></g>
<rect class="nr" x="2200" y="1144.67" width="40" height="6.508" fill="#ef4444"/>
<g transform="translate(0,1155)"><g class="sh"><use href="#n48"/><use href="#sS"/></g><use href="#n48"/><use href="#sS"/></g>
<rect class="nr" x="2200" y="1164.351" width="40" height="6.508" fill="#ef4444"/>
<g transform="translate(0,1175)"><g class="sh"><use href="#n49"/><use href="#sS"/></g><use href="#n49"/><use href="#sS"/></g>
<rect class="nr" x="2200" y="1184.031" width="40" height="6.508" fill="#ef4444"/>
<g transform="translate(0,1194)"><g class="sh"><use href="#n50"/><use href="#sS"/></g><use href="#n50"/><use href="#sS"/></g>
<rect class="nr" x="2200" y="1203.712" width="40" height="6.508" fill="#ef4444"/>
<g transform="translate(0,1214)"><g class="sh"><use href="#n51"/><use href="#sS"/></g><use href="#n51"/><use href="#sS"/></g>
<rect class="nr" x="2200" y="1223.393" width="40" height="6.508" fill="#ef4444"/>
<g transform="translate(0,1234)"><g class="sh"><use href="#n52"/><use href="#sS"/></g><use href="#n52"/><use href="#sS"/></g>
<rect class="nr" x="2200" y="1243.073" width="40" height="6.508" fill="#3b82f6"/>
<g transform="translate(0,1253)"><g class="sh"><use href="#n53"/><use href="#pJ" x="1237.05"/><use href="#sR"/></g><use href="#n53"/><use href="#pJ" x="1237.05"/><use href="#sR"/></g>
<rect class="nr" x="2200" y="1262.754" width="40" height="6.508" fill="#3b82f6"/>
<g transform="translate(0,1273)"><g class="sh"><use href="#n54"/><use href="#pJ" x="1223.62"/><use href="#sR"/></g><use href="#n54"/><use href="#pJ" x="1223.62"/><use href="#sR"/></g>
<rect class="nr" x="2200" y="1282.434" width="40" height="6.508" fill="#ef4444"/>
<g transform="translate(0,1293)"><g class="sh"><use href="#n55"/><use href="#sS"/></g><use href="#n55"/><use href="#sS"/></g>
<rect class="nr" x="2200" y="1302.115" width="40" height="6.508" fill="#ef4444"/>
<g transform="translate(0,1312)"><g class="sh"><use href="#n56"/><use href="#sS"/></g><use href="#n56"/><use href="#sS"/></g>
<rect class="nr" x="2200" y="1321.796" width="40" height="6.508" fill="#ef4444"/>
<g transform="translate(0,1332)"><g class="sh"><use href="#n57"/><use href="#sS"/></g><use href="#n57"/><use href="#sS"/></g>
<rect class="nr" x="2200" y="1341.476" width="40" height="6.508" fill="#ef4444"/>
<g transform="translate(0,1352)"><g class="sh"><use href="#n58"/><use href="#sS"/></g><use href="#n58"/><use href="#sS"/></g>
<rect class="nr" x="2200" y="1361.157" width="40" height="6.508" fill="#ef4444"/>
<g transform="translate(0,1371)"><g class="sh"><use href="#n59"/><use href="#sS"/></g><use href="#n59"/><use href="#sS"/></g>
<rect class="nr" x="2200" y="1380.838" width="40" height="6.508" fill="#ef4444"/>
<g transform="translate(0,1391)"><g class="sh"><use href="#n60"/><use href="#sS"/></g><use href="#n60"/><use href="#sS"/></g>
<rect class="nr" x="2200" y="1400.518" width="40" height="6.508" fill="#ef4444"/>
<g transform="translate(0,1411)"><g class="sh"><use href="#n61"/><use href="#sS"/></g><use href="#n61"/><use href="#sS"/></g>
<rect class="nr" x="2200" y="1420.199" width="40" height="6.508" fill="#ef4444"/>
<g transform="translate(0,1430)"><g class="sh"><use href="#n62"/><use href="#sS"/></g><use href="#n62"/><use href="#sS"/></g>
<rect class="nr" x="2200" y="1439.88" width="40" height="6.508" fill="#ef4444"/>
<g transform="translate(0,1450)"><g class="sh"><use href="#n63"/><use href="#sS"/></g><use href="#n63"/><use href="#sS"/></g>
<rect class="nr" x="2200" y="1459.56" width="40" height="6.508" fill="#ef4444"/>
<g transform="translate(0,1470)"><g class="sh"><use href="#n64"/><use href="#sS"/></g><use href="#n64"/><use href="#sS"/></g>
<rect class="nr" x="2200" y="1479.241" width="40" height="6.508" fill="#ef4444"/>
<g transform="translate(0,1489)"><g class="sh"><use href="#n65"/><use href="#sS"/></g><use href="#n65"/><use href="#sS"/></g>
<rect class="nr" x="2200" y="1498.921" width="40" height="6.508" fill="#ef4444"/>
<g transform="translate(0,1509)"><g class="sh"><use href="#n66"/><use href="#sS"/></g><use href="#n66"/><use href="#sS"/></g>
<rect class="nr" x="2200" y="1518.602" width="40" height="6.508" fill="#3b82f6"/>
<g transform="translate(0,1529)"><g class="sh"><use href="#n67"/><use href="#pJ" x="1228.23"/><use href="#sR"/></g><use href="#n67"/><use href="#pJ" x="1228.23"/><use href="#sR"/></g>
<rect class="nr" x="2200" y="1538.283" width="40" height="6.508" fill="#ef4444"/>
<g transform="translate(0,1549)"><g class="sh"><use href="#n68"/><use href="#sS"/></g><use href="#n68"/><use href="#sS"/></g>
<rect class="nr" x="2200" y="1557.963" width="40" height="6.508" fill="#ef4444"/>
<g transform="translate(0,1568)"><g class="sh"><use href="#n69"/><use href="#sS"/></g><use href="#n69"/><use href="#sS"/></g>
<rect class="nr" x="2200" y="1577.644" width="40" height="6.508" fill="#ef4444"/>
<g transform="translate(0,1588)"><g class="sh"><use href="#n70"/><use href="#sS"/></g><use href="#n70"/><use href="#sS"/></g>
<rect class="nr" x="2200" y="1597.325" width="40" height="6.508" fill="#ef4444"/>
<g transform="translate(0,1608)"><g class="sh"><use href="#n71"/><use href="#sS"/></g><use href="#n71"/><use href="#sS"/></g>
<rect class="nr" x="2200" y="1617.005" width="40" height="6.508" fill="#3b82f6"/>
<g transform="translate(0,1627)"><g class="sh"><use href="#n72"/><use href="#pJ" x="1228"/><use href="#sR"/></g><use href="#n72"/><use href="#pJ" x="1228"/><use href="#sR"/></g>
<rect class="nr" x="2200" y="1636.686" width="40" height="6.508" fill="#3b82f6"/>
<g transform="translate(0,1647)"><g class="sh"><use href="#n73"/><use href="#pJ" x="1228.36"/><use href="#sR"/></g><use href="#n73"/><use href="#pJ" x="1228.36"/><use href="#sR"/></g>
<rect class="nr" x="2200" y="1656.366" width="40" height="6.508" fill="#ef4444"/>
<g transform="translate(0,1667)"><g class="sh"><use href="#n74"/><use href="#sS"/></g><use href="#n74"/><use href="#sS"/></g>
<rect class="nr" x="2200" y="1676.047" width="40" height="6.508" fill="#ef4444"/>
<g transform="translate(0,1686)"><g class="sh"><use href="#n75"/><use href="#sS"/></g><use href="#n75"/><use href="#sS"/></g>
<rect class="nr" x="2200" y="1695.728" width="40" height="6.508" fill="#ef4444"/>
<g transform="translate(0,1706)"><g class="sh"><use href="#n76"/><use href="#sS"/></g><use href="#n76"/><use href="#sS"/></g>
<rect class="nr" x="2200" y="1715.408" width="40" height="6.508" fill="#ef4444"/>
<g transform="translate(0,1726)"><g class="sh"><use href="#n77"/><use href="#sS"/></g><use href="#n77"/><use href="#sS"/></g>
<rect class="nr" x="2200" y="1735.089" width="40" height="6.508" fill="#ef4444"/>
<g transform="translate(0,1745)"><g class="sh"><use href="#n78"/><use href="#sS"/></g><use href="#n78"/><use href="#sS"/></g>
<rect class="nr" x="2200" y="1754.77" width="40" height="6.508" fill="#ef4444"/>
<g transform="translate(0,1765)"><g class="sh"><use href="#n79"/><use href="#sS"/></g><use href="#n79"/><use href="#sS"/></g>
<rect class="nr" x="2200" y="1774.45" width="40" height="6.508" fill="#ef4444"/>
<g transform="translate(0,1785)"><g class="sh"><use href="#n80"/><use href="#sS"/></g><use href="#n80"/><use href="#sS"/></g>
<rect class="nr" x="2200" y="1794.131" width="40" height="6.508" fill="#ef4444"/>
<g transform="translate(0,1804)"><g class="sh"><use href="#n81"/><use href="#sS"/></g><use href="#n81"/><use href="#sS"/></g>
<rect class="nr" x="2200" y="1813.811" width="40" height="6.508" fill="#ef4444"/>
<g transform="translate(0,1824)"><g class="sh"><use href="#n82"/><use href="#sS"/></g><use href="#n82"/><use href="#sS"/></g>
<rect class="nr" x="2200" y="1833.492" width="40" height="6.508" fill="#3b82f6"/>
<g transform="translate(0,1844)"><g class="sh"><use href="#n83"/><use href="#pJ" x="1228.31"/><use href="#sR"/></g><use href="#n83"/><use href="#pJ" x="1228.31"/><use href="#sR"/></g>
</g>
<rect x="203.2" y="233.2" width="1385.92" height="34" fill="#fff" fill-opacity="0.8" stroke="#e5e7eb" stroke-width="2"/>
<text transform="translate(0,257.8)" style="font-size:25.44px;fill:#374151"><tspan x="206.59" y="0" textLength="19.93" lengthAdjust="spacingAndGlyphs">M</tspan><tspan x="227.43" font-size="25.16" textLength="12" lengthAdjust="spacingAndGlyphs">a</tspan><tspan x="242.23" font-size="25.16" textLength="5.45" lengthAdjust="spacingAndGlyphs">i</tspan><tspan x="248.74" font-size="24.98" textLength="14.39" lengthAdjust="spacingAndGlyphs">n</tspan><tspan x="263.92" font-size="23.49" textLength="7.22" lengthAdjust="spacingAndGlyphs">:</tspan><tspan x="279.89" textLength="22.33" lengthAdjust="spacingAndGlyphs">W</tspan><tspan x="301.93" font-size="25.16" textLength="12" lengthAdjust="spacingAndGlyphs">a</tspan><tspan x="316.24" font-size="24.98" textLength="10.24" lengthAdjust="spacingAndGlyphs">r</tspan><tspan x="326.01" font-size="24.98" textLength="14.39" lengthAdjust="spacingAndGlyphs">n</tspan><tspan x="341.38" font-size="25.16" textLength="5.45" lengthAdjust="spacingAndGlyphs">i</tspan><tspan x="347.9" font-size="24.98" textLength="14.39" lengthAdjust="spacingAndGlyphs">n</tspan><tspan x="362.87" y="-0.1" font-size="24.77" textLength="14.51" lengthAdjust="spacingAndGlyphs">g</tspan><tspan x="385.71" y="0" font-size="25.64" textLength="16.09" lengthAdjust="spacingAndGlyphs">C</tspan><tspan x="402.87" font-size="25.16" textLength="5.45" lengthAdjust="spacingAndGlyphs">l</tspan><tspan x="409.29" font-size="25.61" textLength="14.39" lengthAdjust="spacingAndGlyphs">u</tspan><tspan x="424.8" font-size="25.22" textLength="11.5" lengthAdjust="spacingAndGlyphs">s</tspan><tspan x="436.8" y="-0.2" font-size="25.76" textLength="8.91" lengthAdjust="spacingAndGlyphs">t</tspan><tspan x="446.28" y="0" font-size="25.16" textLength="14.42" lengthAdjust="spacingAndGlyphs">e</tspan><tspan x="460.96" font-size="24.98" textLength="10.24" lengthAdjust="spacingAndGlyphs">r</tspan><tspan x="478.64" textLength="13.73" lengthAdjust="spacingAndGlyphs">L</tspan><tspan x="492.31" font-size="24.84" textLength="12.95" lengthAdjust="spacingAndGlyphs">v</tspan><tspan x="506.5" font-size="25.16" textLength="5.45" lengthAdjust="spacingAndGlyphs">l</tspan><tspan x="520.72" font-size="25.51" textLength="13.56" lengthAdjust="spacingAndGlyphs">2</tspan><tspan x="551.57" y="0.2" font-size="25.63" textLength="6.38" lengthAdjust="spacingAndGlyphs">|</tspan><tspan x="574.5" y="0" textLength="15.55" lengthAdjust="spacingAndGlyphs">B</tspan><tspan x="591.14" font-size="25.16" textLength="5.45" lengthAdjust="spacingAndGlyphs">l</tspan><tspan x="597.54" font-size="25.61" textLength="14.39" lengthAdjust="spacingAndGlyphs">u</tspan><tspan x="612.63" font-size="25.16" textLength="14.42" lengthAdjust="spacingAndGlyphs">e</tspan><tspan x="627.61" font-size="23.49" textLength="7.22" lengthAdjust="spacingAndGlyphs">:</tspan><tspan x="643.36" textLength="16.58" lengthAdjust="spacingAndGlyphs">R</tspan><tspan x="658.73" font-size="25.16" textLength="14.19" lengthAdjust="spacingAndGlyphs">o</tspan><tspan x="673.53" font-size="25.61" textLength="14.39" lengthAdjust="spacingAndGlyphs">u</tspan><tspan x="688.53" y="-0.2" font-size="25.76" textLength="8.91" lengthAdjust="spacingAndGlyphs">t</tspan><tspan x="698" y="0" font-size="25.16" textLength="14.42" lengthAdjust="spacingAndGlyphs">e</tspan><tspan x="712.68" font-size="24.98" textLength="10.24" lengthAdjust="spacingAndGlyphs">r</tspan><tspan x="722.42" y="2" font-size="26.86" textLength="8.09" lengthAdjust="spacingAndGlyphs">/</tspan><tspan x="730.89" y="0" textLength="19.93" lengthAdjust="spacingAndGlyphs">M</tspan><tspan x="751.74" font-size="25.16" textLength="12" lengthAdjust="spacingAndGlyphs">a</tspan><tspan x="766.06" font-size="24.98" textLength="10.24" lengthAdjust="spacingAndGlyphs">r</tspan><tspan x="776.15" font-size="25.16" textLength="13.42" lengthAdjust="spacingAndGlyphs">k</tspan><tspan x="789.05" font-size="25.16" textLength="14.42" lengthAdjust="spacingAndGlyphs">e</tspan><tspan x="803.75" y="-0.2" font-size="25.76" textLength="8.91" lengthAdjust="spacingAndGlyphs">t</tspan><tspan x="821.49" y="0.2" font-size="25.63" textLength="6.38" lengthAdjust="spacingAndGlyphs">|</tspan><tspan x="836.67" y="0" textLength="13.73" lengthAdjust="spacingAndGlyphs">L</tspan><tspan x="850.34" font-size="25.16" textLength="5.45" lengthAdjust="spacingAndGlyphs">i</tspan><tspan x="856.62" y="-0.1" font-size="24.77" textLength="14.51" lengthAdjust="spacingAndGlyphs">g</tspan><tspan x="871.99" y="0" font-size="25.16" textLength="14.49" lengthAdjust="spacingAndGlyphs">h</tspan><tspan x="886.98" y="-0.2" font-size="25.76" textLength="8.91" lengthAdjust="spacingAndGlyphs">t</tspan><tspan x="904.37" y="0" font-size="25.29" textLength="14.52" lengthAdjust="spacingAndGlyphs">b</tspan><tspan x="919.71" font-size="25.16" textLength="5.45" lengthAdjust="spacingAndGlyphs">l</tspan><tspan x="926.14" font-size="25.61" textLength="14.39" lengthAdjust="spacingAndGlyphs">u</tspan><tspan x="941.2" font-size="25.16" textLength="14.42" lengthAdjust="spacingAndGlyphs">e</tspan><tspan x="956.19" font-size="23.49" textLength="7.22" lengthAdjust="spacingAndGlyphs">:</tspan><tspan x="972.08" textLength="14.16" lengthAdjust="spacingAndGlyphs">P</tspan><tspan x="985.33" font-size="25.16" textLength="14.19" lengthAdjust="spacingAndGlyphs">o</tspan><tspan x="999.92" y="-0.2" font-size="25.76" textLength="8.91" lengthAdjust="spacingAndGlyphs">t</tspan><tspan x="1009.39" y="0" font-size="25.16" textLength="14.42" lengthAdjust="spacingAndGlyphs">e</tspan><tspan x="1024.4" font-size="24.98" textLength="14.39" lengthAdjust="spacingAndGlyphs">n</tspan><tspan x="1039.31" y="-0.2" font-size="25.76" textLength="8.91" lengthAdjust="spacingAndGlyphs">t</tspan><tspan x="1049.18" y="0" font-size="25.16" textLength="5.45" lengthAdjust="spacingAndGlyphs">i</tspan><tspan x="1055.76" font-size="25.16" textLength="12" lengthAdjust="spacingAndGlyphs">a</tspan><tspan x="1070.54" font-size="25.16" textLength="5.45" lengthAdjust="spacingAndGlyphs">l</tspan><tspan x="1085.08" y="0.2" font-size="25.63" textLength="6.38" lengthAdjust="spacingAndGlyphs">|</tspan><tspan x="1099.38" y="0" textLength="15.79" lengthAdjust="spacingAndGlyphs">Y</tspan><tspan x="1111.64" font-size="25.16" textLength="14.42" lengthAdjust="spacingAndGlyphs">e</tspan><tspan x="1126.79" font-size="25.16" textLength="5.45" lengthAdjust="spacingAndGlyphs">l</tspan><tspan x="1133.46" font-size="25.16" textLength="5.45" lengthAdjust="spacingAndGlyphs">l</tspan><tspan x="1139.78" font-size="25.16" textLength="14.19" lengthAdjust="spacingAndGlyphs">o</tspan><tspan x="1155.24" font-size="24.84" textLength="17.52" lengthAdjust="spacingAndGlyphs">w</tspan><tspan x="1172.97" font-size="23.49" textLength="7.22" lengthAdjust="spacingAndGlyphs">:</tspan><tspan x="1188.92" textLength="22.33" lengthAdjust="spacingAndGlyphs">W</tspan><tspan x="1210.96" font-size="25.16" textLength="12" lengthAdjust="spacingAndGlyphs">a</tspan><tspan x="1225.28" font-size="24.98" textLength="10.24" lengthAdjust="spacingAndGlyphs">r</tspan><tspan x="1235.05" font-size="24.98" textLength="14.39" lengthAdjust="spacingAndGlyphs">n</tspan><tspan x="1250.41" font-size="25.16" textLength="5.45" lengthAdjust="spacingAndGlyphs">i</tspan><tspan x="1256.93" font-size="24.98" textLength="14.39" lengthAdjust="spacingAndGlyphs">n</tspan><tspan x="1271.9" y="-0.1" font-size="24.77" textLength="14.51" lengthAdjust="spacingAndGlyphs">g</tspan><tspan x="1295.39" y="0.2" font-size="25.63" textLength="6.38" lengthAdjust="spacingAndGlyphs">|</tspan><tspan x="1310.72" y="0" textLength="16.58" lengthAdjust="spacingAndGlyphs">R</tspan><tspan x="1326.08" font-size="25.16" textLength="14.42" lengthAdjust="spacingAndGlyphs">e</tspan><tspan x="1340.85" font-size="25.29" textLength="14.51" lengthAdjust="spacingAndGlyphs">d</tspan><tspan x="1356.3" font-size="23.49" textLength="7.22" lengthAdjust="spacingAndGlyphs">:</tspan><tspan x="1372.17" font-size="25.64" textLength="14.27" lengthAdjust="spacingAndGlyphs">S</tspan><tspan x="1387.45" font-size="24.62" textLength="12.89" lengthAdjust="spacingAndGlyphs">y</tspan><tspan x="1401.49" font-size="25.29" textLength="14.52" lengthAdjust="spacingAndGlyphs">b</tspan><tspan x="1416.85" font-size="25.16" textLength="5.45" lengthAdjust="spacingAndGlyphs">i</tspan><tspan x="1423.51" font-size="25.16" textLength="5.45" lengthAdjust="spacingAndGlyphs">l</tspan><tspan x="1438.05" y="0.2" font-size="25.63" textLength="6.38" lengthAdjust="spacingAndGlyphs">|</tspan><tspan x="1453.53" y="0" textLength="14.16" lengthAdjust="spacingAndGlyphs">P</tspan><tspan x="1467.48" font-size="25.16" textLength="5.45" lengthAdjust="spacingAndGlyphs">i</tspan><tspan x="1473.99" font-size="24.98" textLength="14.39" lengthAdjust="spacingAndGlyphs">n</tspan><tspan x="1489.12" font-size="25.16" textLength="13.42" lengthAdjust="spacingAndGlyphs">k</tspan><tspan x="1503.08" font-size="23.49" textLength="7.22" lengthAdjust="spacingAndGlyphs">:</tspan><tspan x="1518.97" font-size="25.64" textLength="14.27" lengthAdjust="spacingAndGlyphs">S</tspan><tspan x="1534.09" y="-0.1" font-size="24.74" textLength="14.52" lengthAdjust="spacingAndGlyphs">p</tspan><tspan x="1549.35" y="0" font-size="25.16" textLength="12" lengthAdjust="spacingAndGlyphs">a</tspan><tspan x="1563.89" font-size="24.98" textLength="22.78" lengthAdjust="spacingAndGlyphs">m</tspan></text>
<text transform="translate(0,100)" style="font-size:29.68px;fill:#2a3f5f"><tspan x="120.25" y="0" font-size="29.91" textLength="18.77" lengthAdjust="spacingAndGlyphs">C</tspan><tspan x="140.26" font-size="29.36" textLength="6.36" lengthAdjust="spacingAndGlyphs">l</tspan><tspan x="147.75" font-size="29.88" textLength="16.79" lengthAdjust="spacingAndGlyphs">u</tspan><tspan x="165.83" font-size="29.43" textLength="13.42" lengthAdjust="spacingAndGlyphs">s</tspan><tspan x="179.84" y="-0.2" font-size="30.05" textLength="10.4" lengthAdjust="spacingAndGlyphs">t</tspan><tspan x="190.9" y="0" font-size="29.35" textLength="16.82" lengthAdjust="spacingAndGlyphs">e</tspan><tspan x="208.02" font-size="29.14" textLength="11.95" lengthAdjust="spacingAndGlyphs">r</tspan><tspan x="229.06" textLength="14.66" lengthAdjust="spacingAndGlyphs">F</tspan><tspan x="243.26" font-size="29.88" textLength="16.79" lengthAdjust="spacingAndGlyphs">u</tspan><tspan x="261.13" font-size="29.14" textLength="16.79" lengthAdjust="spacingAndGlyphs">n</tspan><tspan x="278.61" font-size="29.51" textLength="16.92" lengthAdjust="spacingAndGlyphs">d</tspan><tspan x="296.83" font-size="29.36" textLength="6.36" lengthAdjust="spacingAndGlyphs">i</tspan><tspan x="304.43" font-size="29.14" textLength="16.79" lengthAdjust="spacingAndGlyphs">n</tspan><tspan x="321.91" y="-0.2" font-size="28.9" textLength="16.92" lengthAdjust="spacingAndGlyphs">g</tspan><tspan x="349.09" y="0" textLength="14.66" lengthAdjust="spacingAndGlyphs">F</tspan><tspan x="365.13" font-size="29.36" textLength="6.36" lengthAdjust="spacingAndGlyphs">l</tspan><tspan x="372.5" font-size="29.35" textLength="16.55" lengthAdjust="spacingAndGlyphs">o</tspan><tspan x="390.55" font-size="28.98" textLength="20.44" lengthAdjust="spacingAndGlyphs">w</tspan><tspan x="422.06" y="-1.9" font-size="26.77" textLength="7.88" lengthAdjust="spacingAndGlyphs">(</tspan><tspan x="432.76" y="0" textLength="16.52" lengthAdjust="spacingAndGlyphs">P</tspan><tspan x="449.49" textLength="19.34" lengthAdjust="spacingAndGlyphs">R</tspan><tspan x="469.15" textLength="16.19" lengthAdjust="spacingAndGlyphs">E</tspan><tspan x="488.18" y="-1.9" font-size="26.77" textLength="7.88" lengthAdjust="spacingAndGlyphs">)</tspan></text>
</svg></body></html>
